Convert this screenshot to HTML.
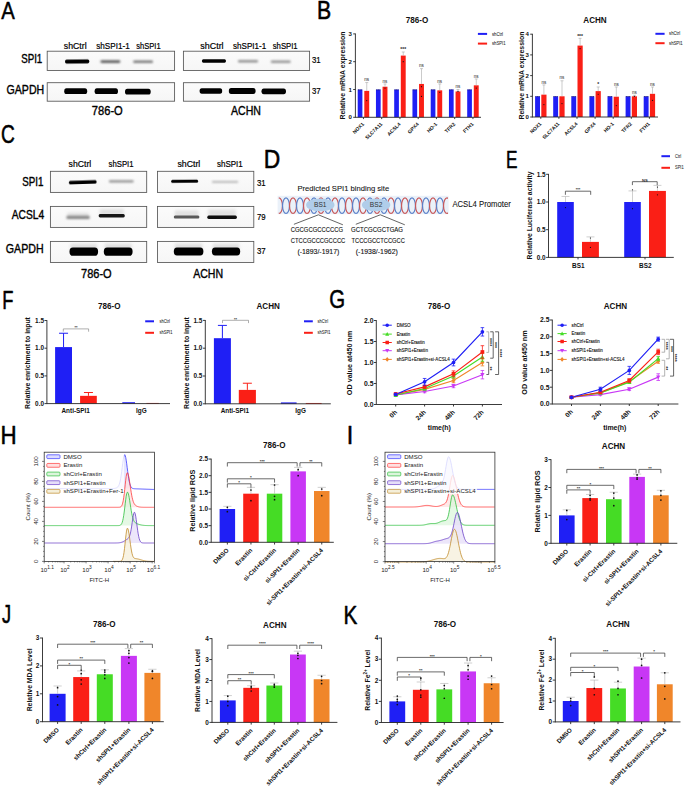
<!DOCTYPE html>
<html><head><meta charset="utf-8"><style>
html,body{margin:0;padding:0;background:#fff;width:685px;height:787px;overflow:hidden}
svg{display:block}
text{font-family:"Liberation Sans",sans-serif}
</style></head><body>
<svg width="685" height="787" viewBox="0 0 685 787">
<defs>
<linearGradient id="bg" x1="0" y1="0" x2="0" y2="1"><stop offset="0" stop-color="#fbfbfb"/><stop offset="1" stop-color="#f6f6f6"/></linearGradient>
<filter id="bl5" x="-30%" y="-100%" width="160%" height="300%"><feGaussianBlur stdDeviation="0.5"/></filter>
<filter id="bl6" x="-30%" y="-100%" width="160%" height="300%"><feGaussianBlur stdDeviation="0.6"/></filter>
<filter id="bl7" x="-30%" y="-100%" width="160%" height="300%"><feGaussianBlur stdDeviation="0.7"/></filter>
<filter id="bl8" x="-30%" y="-100%" width="160%" height="300%"><feGaussianBlur stdDeviation="0.8"/></filter>
<filter id="bl9" x="-30%" y="-100%" width="160%" height="300%"><feGaussianBlur stdDeviation="0.9"/></filter>
<filter id="bl10" x="-30%" y="-100%" width="160%" height="300%"><feGaussianBlur stdDeviation="1.0"/></filter>
<filter id="bl11" x="-30%" y="-100%" width="160%" height="300%"><feGaussianBlur stdDeviation="1.1"/></filter>
<filter id="bl12" x="-30%" y="-100%" width="160%" height="300%"><feGaussianBlur stdDeviation="1.2"/></filter>
<filter id="bl13" x="-30%" y="-100%" width="160%" height="300%"><feGaussianBlur stdDeviation="1.3"/></filter>
<filter id="bl14" x="-30%" y="-100%" width="160%" height="300%"><feGaussianBlur stdDeviation="1.4"/></filter>
<filter id="bl15" x="-30%" y="-100%" width="160%" height="300%"><feGaussianBlur stdDeviation="1.5"/></filter>
</defs>
<text font-size="24.78" stroke="#000" stroke-width="0.55" stroke-linejoin="round" transform="translate(1.29 18.62) scale(0.82 1)" x="0" y="0">A</text>
<rect x="47.2" y="51.2" width="127.4" height="19.3" fill="url(#bg)" stroke="#555" stroke-width="0.85"/>
<rect x="47.2" y="82.7" width="127.4" height="18.5" fill="url(#bg)" stroke="#555" stroke-width="0.85"/>
<rect x="183.4" y="51.2" width="126.2" height="19.3" fill="url(#bg)" stroke="#555" stroke-width="0.85"/>
<rect x="183.4" y="82.7" width="126.2" height="18.5" fill="url(#bg)" stroke="#555" stroke-width="0.85"/>
<text x="63.8" y="48.8" font-size="8.7" textLength="22.8" lengthAdjust="spacingAndGlyphs" stroke="#000" stroke-width="0.2">shCtrl</text>
<text x="96.3" y="48.8" font-size="8.7" textLength="33.4" lengthAdjust="spacingAndGlyphs" stroke="#000" stroke-width="0.2">shSPI1-1</text>
<text x="136.2" y="48.8" font-size="8.7" textLength="24.4" lengthAdjust="spacingAndGlyphs" stroke="#000" stroke-width="0.2">shSPI1</text>
<text x="200.3" y="48.8" font-size="8.7" textLength="23.3" lengthAdjust="spacingAndGlyphs" stroke="#000" stroke-width="0.2">shCtrl</text>
<text x="233" y="48.8" font-size="8.7" textLength="33.2" lengthAdjust="spacingAndGlyphs" stroke="#000" stroke-width="0.2">shSPI1-1</text>
<text x="272.7" y="48.8" font-size="8.7" textLength="25" lengthAdjust="spacingAndGlyphs" stroke="#000" stroke-width="0.2">shSPI1</text>
<text x="21.2" y="63" font-size="12.1" textLength="21.1" lengthAdjust="spacingAndGlyphs" stroke="#000" stroke-width="0.38">SPI1</text>
<text x="6.6" y="94" font-size="12.1" textLength="37.6" lengthAdjust="spacingAndGlyphs" stroke="#000" stroke-width="0.38">GAPDH</text>
<text x="91.8" y="115.3" font-size="12.7" textLength="31" lengthAdjust="spacingAndGlyphs" stroke="#000" stroke-width="0.38">786-O</text>
<text x="231" y="115.3" font-size="12.7" textLength="29.9" lengthAdjust="spacingAndGlyphs" stroke="#000" stroke-width="0.38">ACHN</text>
<text x="312" y="63.2" font-size="8.9" textLength="8.7" lengthAdjust="spacingAndGlyphs" stroke="#000" stroke-width="0.2">31</text>
<text x="312" y="94.1" font-size="8.9" textLength="8.7" lengthAdjust="spacingAndGlyphs" stroke="#000" stroke-width="0.2">37</text>
<rect x="65" y="59.4" width="24.3" height="4" rx="1.6" ry="2" fill="rgb(0,0,0)" filter="url(#bl6)" transform="rotate(-0.6 77.15 61.4)"/>
<rect x="100.5" y="60.2" width="19.8" height="2.8" rx="1.12" ry="1.4" fill="rgb(94,94,94)" filter="url(#bl8)"/>
<rect x="133.2" y="60.5" width="19.8" height="2.6" rx="1.04" ry="1.3" fill="rgb(122,122,122)" filter="url(#bl8)"/>
<rect x="201.9" y="59.2" width="24.1" height="3.6" rx="1.44" ry="1.8" fill="rgb(0,0,0)" filter="url(#bl6)"/>
<rect x="238" y="60.1" width="20" height="2.4" rx="0.96" ry="1.2" fill="rgb(145,145,145)" filter="url(#bl9)"/>
<rect x="270.8" y="60.6" width="19.9" height="2.4" rx="0.96" ry="1.2" fill="rgb(150,150,150)" filter="url(#bl9)"/>
<rect x="64.2" y="88.3" width="23" height="5.8" rx="2.32" ry="2.9" fill="rgb(0,0,0)" filter="url(#bl6)"/>
<rect x="94.6" y="88.3" width="23.4" height="5.8" rx="2.32" ry="2.9" fill="rgb(0,0,0)" filter="url(#bl6)"/>
<rect x="125" y="88.8" width="25.7" height="5.8" rx="2.32" ry="2.9" fill="rgb(0,0,0)" filter="url(#bl6)"/>
<rect x="199.6" y="88.3" width="22.6" height="5.4" rx="2.16" ry="2.7" fill="rgb(0,0,0)" filter="url(#bl6)"/>
<rect x="228.8" y="88.1" width="26.8" height="5.8" rx="2.32" ry="2.9" fill="rgb(0,0,0)" filter="url(#bl6)"/>
<rect x="261.5" y="88.4" width="24.5" height="5.8" rx="2.32" ry="2.9" fill="rgb(0,0,0)" filter="url(#bl6)"/>
<text font-size="25.21" stroke="#000" stroke-width="0.55" stroke-linejoin="round" transform="translate(0.98 143.27) scale(0.76 1)" x="0" y="0">C</text>
<rect x="50.4" y="171.3" width="96.3" height="21.1" fill="url(#bg)" stroke="#555" stroke-width="0.85"/>
<rect x="50.4" y="206.4" width="96.3" height="21" fill="url(#bg)" stroke="#555" stroke-width="0.85"/>
<rect x="50.4" y="241.4" width="96.3" height="21.1" fill="url(#bg)" stroke="#555" stroke-width="0.85"/>
<rect x="157.5" y="171.3" width="96.3" height="21.1" fill="url(#bg)" stroke="#555" stroke-width="0.85"/>
<rect x="157.5" y="206.4" width="96.3" height="21" fill="url(#bg)" stroke="#555" stroke-width="0.85"/>
<rect x="157.5" y="241.4" width="96.3" height="21.1" fill="url(#bg)" stroke="#555" stroke-width="0.85"/>
<text x="68.6" y="167" font-size="8.7" textLength="22.6" lengthAdjust="spacingAndGlyphs" stroke="#000" stroke-width="0.2">shCtrl</text>
<text x="108.6" y="167" font-size="8.7" textLength="25" lengthAdjust="spacingAndGlyphs" stroke="#000" stroke-width="0.2">shSPI1</text>
<text x="177.4" y="167" font-size="8.7" textLength="22.9" lengthAdjust="spacingAndGlyphs" stroke="#000" stroke-width="0.2">shCtrl</text>
<text x="217" y="167" font-size="8.7" textLength="25.8" lengthAdjust="spacingAndGlyphs" stroke="#000" stroke-width="0.2">shSPI1</text>
<text x="22.2" y="185.7" font-size="12.1" textLength="21.2" lengthAdjust="spacingAndGlyphs" stroke="#000" stroke-width="0.38">SPI1</text>
<text x="11.7" y="219" font-size="12.1" textLength="32.4" lengthAdjust="spacingAndGlyphs" stroke="#000" stroke-width="0.38">ACSL4</text>
<text x="5.8" y="253.2" font-size="12.1" textLength="37.8" lengthAdjust="spacingAndGlyphs" stroke="#000" stroke-width="0.38">GAPDH</text>
<text x="81" y="277.9" font-size="12.7" textLength="30.7" lengthAdjust="spacingAndGlyphs" stroke="#000" stroke-width="0.38">786-O</text>
<text x="193.2" y="277.7" font-size="12.7" textLength="29.9" lengthAdjust="spacingAndGlyphs" stroke="#000" stroke-width="0.38">ACHN</text>
<text x="256.9" y="186.1" font-size="8.9" textLength="8.7" lengthAdjust="spacingAndGlyphs" stroke="#000" stroke-width="0.2">31</text>
<text x="256.9" y="220.2" font-size="8.9" textLength="8.7" lengthAdjust="spacingAndGlyphs" stroke="#000" stroke-width="0.2">79</text>
<text x="256.9" y="254" font-size="8.9" textLength="8.7" lengthAdjust="spacingAndGlyphs" stroke="#000" stroke-width="0.2">37</text>
<rect x="68.9" y="180.6" width="27.7" height="3.4" rx="1.36" ry="1.7" fill="rgb(0,0,0)" filter="url(#bl6)" transform="rotate(-1.8 82.75 182.3)"/>
<rect x="108.9" y="180.15" width="24.8" height="2.3" rx="0.92" ry="1.15" fill="rgb(141,141,141)" filter="url(#bl8)"/>
<rect x="67.4" y="212.7" width="21.4" height="4.7" fill="rgb(205,205,205)" opacity="0.55" filter="url(#bl15)"/>
<rect x="66.4" y="215.7" width="23.4" height="3.4" rx="1.36" ry="1.7" fill="rgb(136,136,136)" filter="url(#bl10)"/>
<rect x="99.7" y="209.1" width="24.1" height="6.7" fill="rgb(205,205,205)" opacity="0.55" filter="url(#bl15)"/>
<rect x="98.7" y="214.1" width="26.1" height="3.4" rx="1.36" ry="1.7" fill="rgb(23,23,23)" filter="url(#bl6)"/>
<rect x="70.5" y="243.55" width="26.6" height="8.15" fill="rgb(205,205,205)" opacity="0.55" filter="url(#bl15)"/>
<rect x="69.5" y="247.55" width="28.6" height="8.3" rx="3.32" ry="4.15" fill="rgb(0,0,0)" filter="url(#bl7)"/>
<rect x="104.8" y="243.55" width="26.8" height="8.15" fill="rgb(205,205,205)" opacity="0.55" filter="url(#bl15)"/>
<rect x="103.8" y="247.55" width="28.8" height="8.3" rx="3.32" ry="4.15" fill="rgb(0,0,0)" filter="url(#bl7)"/>
<rect x="171.2" y="179.8" width="26.9" height="3" rx="1.2" ry="1.5" fill="rgb(0,0,0)" filter="url(#bl6)" transform="rotate(-0.5 184.65 181.3)"/>
<rect x="211.9" y="180.9" width="26.3" height="1.8" rx="0.72" ry="0.9" fill="rgb(176,176,176)" filter="url(#bl8)"/>
<rect x="174.8" y="210.4" width="23.6" height="6.6" fill="rgb(205,205,205)" opacity="0.55" filter="url(#bl15)"/>
<rect x="173.8" y="215.4" width="25.6" height="3.2" rx="1.28" ry="1.6" fill="rgb(89,89,89)" filter="url(#bl6)"/>
<rect x="208.3" y="209.5" width="27.6" height="7.8" fill="rgb(205,205,205)" opacity="0.55" filter="url(#bl15)"/>
<rect x="207.3" y="215.5" width="29.6" height="3.6" rx="1.44" ry="1.8" fill="rgb(11,11,11)" filter="url(#bl6)"/>
<rect x="174.8" y="243.55" width="27.6" height="7.95" fill="rgb(205,205,205)" opacity="0.55" filter="url(#bl15)"/>
<rect x="173.8" y="247.55" width="29.6" height="7.9" rx="3.16" ry="3.95" fill="rgb(0,0,0)" filter="url(#bl7)"/>
<rect x="212.9" y="243.55" width="26.3" height="7.95" fill="rgb(205,205,205)" opacity="0.55" filter="url(#bl15)"/>
<rect x="211.9" y="247.55" width="28.3" height="7.9" rx="3.16" ry="3.95" fill="rgb(0,0,0)" filter="url(#bl7)"/>
<text font-size="25.36" stroke="#000" stroke-width="0.55" stroke-linejoin="round" transform="translate(263.68 168.42) scale(0.9 1)" x="0" y="0">D</text>
<text x="297.4" y="190.7" font-size="7.9" fill="#111" textLength="91.8" lengthAdjust="spacingAndGlyphs" stroke="#111" stroke-width="0.08">Predicted SPI1 binding site</text>
<rect x="277.6" y="195.8" width="171" height="18.4" fill="#eaf1f9"/>
<clipPath id="hx"><rect x="278.8" y="190" width="169.2" height="30"/></clipPath><g clip-path="url(#hx)">
<ellipse cx="279" cy="205.7" rx="3.45" ry="7.75" fill="none" stroke="#c8585a" stroke-width="1.2"/>
<ellipse cx="286" cy="205.7" rx="3.45" ry="7.75" fill="none" stroke="#5b80c8" stroke-width="1.2"/>
<ellipse cx="293" cy="205.7" rx="3.45" ry="7.75" fill="none" stroke="#c8585a" stroke-width="1.2"/>
<ellipse cx="300" cy="205.7" rx="3.45" ry="7.75" fill="none" stroke="#5b80c8" stroke-width="1.2"/>
<ellipse cx="307" cy="205.7" rx="3.45" ry="7.75" fill="none" stroke="#c8585a" stroke-width="1.2"/>
<ellipse cx="314" cy="205.7" rx="3.45" ry="7.75" fill="none" stroke="#5b80c8" stroke-width="1.2"/>
<ellipse cx="321" cy="205.7" rx="3.45" ry="7.75" fill="none" stroke="#c8585a" stroke-width="1.2"/>
<ellipse cx="328" cy="205.7" rx="3.45" ry="7.75" fill="none" stroke="#5b80c8" stroke-width="1.2"/>
<ellipse cx="335" cy="205.7" rx="3.45" ry="7.75" fill="none" stroke="#c8585a" stroke-width="1.2"/>
<ellipse cx="342" cy="205.7" rx="3.45" ry="7.75" fill="none" stroke="#5b80c8" stroke-width="1.2"/>
<ellipse cx="349" cy="205.7" rx="3.45" ry="7.75" fill="none" stroke="#c8585a" stroke-width="1.2"/>
<ellipse cx="356" cy="205.7" rx="3.45" ry="7.75" fill="none" stroke="#5b80c8" stroke-width="1.2"/>
<ellipse cx="363" cy="205.7" rx="3.45" ry="7.75" fill="none" stroke="#c8585a" stroke-width="1.2"/>
<ellipse cx="370" cy="205.7" rx="3.45" ry="7.75" fill="none" stroke="#5b80c8" stroke-width="1.2"/>
<ellipse cx="377" cy="205.7" rx="3.45" ry="7.75" fill="none" stroke="#c8585a" stroke-width="1.2"/>
<ellipse cx="384" cy="205.7" rx="3.45" ry="7.75" fill="none" stroke="#5b80c8" stroke-width="1.2"/>
<ellipse cx="391" cy="205.7" rx="3.45" ry="7.75" fill="none" stroke="#c8585a" stroke-width="1.2"/>
<ellipse cx="398" cy="205.7" rx="3.45" ry="7.75" fill="none" stroke="#5b80c8" stroke-width="1.2"/>
<ellipse cx="405" cy="205.7" rx="3.45" ry="7.75" fill="none" stroke="#c8585a" stroke-width="1.2"/>
<ellipse cx="412" cy="205.7" rx="3.45" ry="7.75" fill="none" stroke="#5b80c8" stroke-width="1.2"/>
<ellipse cx="419" cy="205.7" rx="3.45" ry="7.75" fill="none" stroke="#c8585a" stroke-width="1.2"/>
<ellipse cx="426" cy="205.7" rx="3.45" ry="7.75" fill="none" stroke="#5b80c8" stroke-width="1.2"/>
<ellipse cx="433" cy="205.7" rx="3.45" ry="7.75" fill="none" stroke="#c8585a" stroke-width="1.2"/>
<ellipse cx="440" cy="205.7" rx="3.45" ry="7.75" fill="none" stroke="#5b80c8" stroke-width="1.2"/>
<ellipse cx="447" cy="205.7" rx="3.45" ry="7.75" fill="none" stroke="#c8585a" stroke-width="1.2"/>
</g>
<ellipse cx="320.3" cy="204.9" rx="14.2" ry="6.4" fill="#b0cde9"/>
<text x="320.3" y="207.17" font-size="6.6" text-anchor="middle" fill="#333">BS1</text>
<ellipse cx="376.1" cy="204.9" rx="14.2" ry="6.4" fill="#b0cde9"/>
<text x="376.1" y="207.17" font-size="6.6" text-anchor="middle" fill="#333">BS2</text>
<path d="M293.9 224.3 L318.4 214.8 L342.9 224.8" stroke="#222" fill="none" stroke-width="0.7"/>
<path d="M355.8 224.3 L380.3 214.8 L404.8 224.8" stroke="#222" fill="none" stroke-width="0.7"/>
<text x="290.8" y="231.6" font-size="7.6" fill="#111" textLength="52.2" lengthAdjust="spacingAndGlyphs" stroke="#111" stroke-width="0.12">CGCGCGCCCCCG</text>
<text x="290.8" y="243.4" font-size="7.6" fill="#111" textLength="54.5" lengthAdjust="spacingAndGlyphs" stroke="#111" stroke-width="0.12">CTCCGCCCGCCCC</text>
<text x="297.4" y="253.6" font-size="7.6" fill="#111" textLength="42" lengthAdjust="spacingAndGlyphs" stroke="#111" stroke-width="0.12">(-1893/-1917)</text>
<text x="351" y="231.6" font-size="7.6" fill="#111" textLength="52" lengthAdjust="spacingAndGlyphs" stroke="#111" stroke-width="0.12">GCTCGCGCTGAG</text>
<text x="351.5" y="243.4" font-size="7.6" fill="#111" textLength="53.3" lengthAdjust="spacingAndGlyphs" stroke="#111" stroke-width="0.12">TCCCGCCTCCGCC</text>
<text x="355.8" y="253.6" font-size="7.6" fill="#111" textLength="42" lengthAdjust="spacingAndGlyphs" stroke="#111" stroke-width="0.12">(-1938/-1962)</text>
<text x="452.4" y="207.2" font-size="8.2" fill="#111" textLength="58.4" lengthAdjust="spacingAndGlyphs" stroke="#111" stroke-width="0.08">ACSL4 Promoter</text>
<text font-size="25" stroke="#000" stroke-width="0.55" stroke-linejoin="round" transform="translate(316.89 18.52) scale(0.85 1)" x="0" y="0">B</text>
<text x="417" y="22.76" font-size="8.9" font-weight="bold" text-anchor="middle" fill="#111" textLength="22.51" lengthAdjust="spacingAndGlyphs">786-O</text>
<text font-size="6.6" font-weight="bold" text-anchor="middle" textLength="88" lengthAdjust="spacingAndGlyphs" transform="translate(345.07 75.6) rotate(-90)" x="0" y="0" fill="#111">Relative  mRNA expression</text>
<rect x="357.7" y="89.5" width="4.7" height="27.8" fill="#1f1ff5"/>
<rect x="364.3" y="90.89" width="4.9" height="26.41" fill="#fa1f16"/>
<line x1="366.75" y1="90.89" x2="366.75" y2="82.55" stroke="#a8a8a8" stroke-width="0.6"/>
<line x1="365.25" y1="82.55" x2="368.25" y2="82.55" stroke="#a8a8a8" stroke-width="0.6"/>
<circle cx="366.75" cy="100.62" r="0.6" fill="#111"/>
<text x="366.75" y="81.15" font-size="5.5" text-anchor="middle" fill="#222" textLength="4.8" lengthAdjust="spacingAndGlyphs">ns</text>
<line x1="358" y1="89.8" x2="362.1" y2="89.8" stroke="#111" stroke-width="0.7" stroke-dasharray="1.1 0.5" opacity="0.75"/>
<rect x="375.95" y="89.5" width="4.7" height="27.8" fill="#1f1ff5"/>
<rect x="382.55" y="86.72" width="4.9" height="30.58" fill="#fa1f16"/>
<line x1="385" y1="86.72" x2="385" y2="83.94" stroke="#a8a8a8" stroke-width="0.6"/>
<line x1="383.5" y1="83.94" x2="386.5" y2="83.94" stroke="#a8a8a8" stroke-width="0.6"/>
<circle cx="385" cy="88.11" r="0.6" fill="#111"/>
<text x="385" y="82.54" font-size="5.5" text-anchor="middle" fill="#222" textLength="4.8" lengthAdjust="spacingAndGlyphs">ns</text>
<line x1="376.25" y1="89.8" x2="380.35" y2="89.8" stroke="#111" stroke-width="0.7" stroke-dasharray="1.1 0.5" opacity="0.75"/>
<rect x="394.2" y="89.5" width="4.7" height="27.8" fill="#1f1ff5"/>
<rect x="400.8" y="55.58" width="4.9" height="61.72" fill="#fa1f16"/>
<line x1="403.25" y1="55.58" x2="403.25" y2="51.97" stroke="#a8a8a8" stroke-width="0.6"/>
<line x1="401.75" y1="51.97" x2="404.75" y2="51.97" stroke="#a8a8a8" stroke-width="0.6"/>
<circle cx="403.25" cy="61.7" r="0.6" fill="#111"/>
<text x="403.25" y="51.37" font-size="5" font-weight="bold" text-anchor="middle" fill="#222">***</text>
<line x1="394.5" y1="89.8" x2="398.6" y2="89.8" stroke="#111" stroke-width="0.7" stroke-dasharray="1.1 0.5" opacity="0.75"/>
<rect x="412.45" y="89.5" width="4.7" height="27.8" fill="#1f1ff5"/>
<rect x="419.05" y="83.94" width="4.9" height="33.36" fill="#fa1f16"/>
<line x1="421.5" y1="83.94" x2="421.5" y2="68.65" stroke="#a8a8a8" stroke-width="0.6"/>
<line x1="420" y1="68.65" x2="423" y2="68.65" stroke="#a8a8a8" stroke-width="0.6"/>
<circle cx="421.5" cy="86.72" r="0.6" fill="#111"/>
<circle cx="421.5" cy="96.45" r="0.6" fill="#111"/>
<text x="421.5" y="67.25" font-size="5.5" text-anchor="middle" fill="#222" textLength="4.8" lengthAdjust="spacingAndGlyphs">ns</text>
<line x1="412.75" y1="89.8" x2="416.85" y2="89.8" stroke="#111" stroke-width="0.7" stroke-dasharray="1.1 0.5" opacity="0.75"/>
<rect x="430.7" y="89.5" width="4.7" height="27.8" fill="#1f1ff5"/>
<rect x="437.3" y="90.33" width="4.9" height="26.97" fill="#fa1f16"/>
<line x1="439.75" y1="90.33" x2="439.75" y2="83.94" stroke="#a8a8a8" stroke-width="0.6"/>
<line x1="438.25" y1="83.94" x2="441.25" y2="83.94" stroke="#a8a8a8" stroke-width="0.6"/>
<circle cx="439.75" cy="92.28" r="0.6" fill="#111"/>
<text x="439.75" y="82.54" font-size="5.5" text-anchor="middle" fill="#222" textLength="4.8" lengthAdjust="spacingAndGlyphs">ns</text>
<line x1="431" y1="89.8" x2="435.1" y2="89.8" stroke="#111" stroke-width="0.7" stroke-dasharray="1.1 0.5" opacity="0.75"/>
<rect x="448.95" y="89.5" width="4.7" height="27.8" fill="#1f1ff5"/>
<rect x="455.55" y="91.45" width="4.9" height="25.85" fill="#fa1f16"/>
<line x1="458" y1="91.45" x2="458" y2="89.5" stroke="#a8a8a8" stroke-width="0.6"/>
<line x1="456.5" y1="89.5" x2="459.5" y2="89.5" stroke="#a8a8a8" stroke-width="0.6"/>
<circle cx="458" cy="91.45" r="0.6" fill="#111"/>
<text x="458" y="88.1" font-size="5.5" text-anchor="middle" fill="#222" textLength="4.8" lengthAdjust="spacingAndGlyphs">ns</text>
<line x1="449.25" y1="89.8" x2="453.35" y2="89.8" stroke="#111" stroke-width="0.7" stroke-dasharray="1.1 0.5" opacity="0.75"/>
<rect x="467.2" y="89.5" width="4.7" height="27.8" fill="#1f1ff5"/>
<rect x="473.8" y="85.33" width="4.9" height="31.97" fill="#fa1f16"/>
<line x1="476.25" y1="85.33" x2="476.25" y2="78.94" stroke="#a8a8a8" stroke-width="0.6"/>
<line x1="474.75" y1="78.94" x2="477.75" y2="78.94" stroke="#a8a8a8" stroke-width="0.6"/>
<circle cx="476.25" cy="88.11" r="0.6" fill="#111"/>
<text x="476.25" y="77.54" font-size="5.5" text-anchor="middle" fill="#222" textLength="4.8" lengthAdjust="spacingAndGlyphs">ns</text>
<line x1="467.5" y1="89.8" x2="471.6" y2="89.8" stroke="#111" stroke-width="0.7" stroke-dasharray="1.1 0.5" opacity="0.75"/>
<line x1="355.4" y1="33.5" x2="355.4" y2="117.75" stroke="#262626" stroke-width="0.9"/>
<line x1="353.2" y1="117.3" x2="355.4" y2="117.3" stroke="#262626" stroke-width="0.9"/>
<text x="352" y="119.4" font-size="6.1" font-weight="bold" text-anchor="end" fill="#111">0</text>
<line x1="353.2" y1="89.5" x2="355.4" y2="89.5" stroke="#262626" stroke-width="0.9"/>
<text x="352" y="91.6" font-size="6.1" font-weight="bold" text-anchor="end" fill="#111">1</text>
<line x1="353.2" y1="61.7" x2="355.4" y2="61.7" stroke="#262626" stroke-width="0.9"/>
<text x="352" y="63.8" font-size="6.1" font-weight="bold" text-anchor="end" fill="#111">2</text>
<line x1="353.2" y1="33.9" x2="355.4" y2="33.9" stroke="#262626" stroke-width="0.9"/>
<text x="352" y="36" font-size="6.1" font-weight="bold" text-anchor="end" fill="#111">3</text>
<line x1="355.4" y1="117.3" x2="481" y2="117.3" stroke="#262626" stroke-width="0.9"/>
<line x1="363.45" y1="117.3" x2="363.45" y2="119.1" stroke="#262626" stroke-width="0.9"/>
<line x1="381.7" y1="117.3" x2="381.7" y2="119.1" stroke="#262626" stroke-width="0.9"/>
<line x1="399.95" y1="117.3" x2="399.95" y2="119.1" stroke="#262626" stroke-width="0.9"/>
<line x1="418.2" y1="117.3" x2="418.2" y2="119.1" stroke="#262626" stroke-width="0.9"/>
<line x1="436.45" y1="117.3" x2="436.45" y2="119.1" stroke="#262626" stroke-width="0.9"/>
<line x1="454.7" y1="117.3" x2="454.7" y2="119.1" stroke="#262626" stroke-width="0.9"/>
<line x1="472.95" y1="117.3" x2="472.95" y2="119.1" stroke="#262626" stroke-width="0.9"/>
<text font-size="5" font-weight="bold" text-anchor="end" transform="translate(363.15 123.3) rotate(-45)" x="0" y="1.72" fill="#111">NOX1</text>
<text font-size="5" font-weight="bold" text-anchor="end" transform="translate(381.4 123.3) rotate(-45)" x="0" y="1.72" fill="#111">SLC7A11</text>
<text font-size="5" font-weight="bold" text-anchor="end" transform="translate(399.65 123.3) rotate(-45)" x="0" y="1.72" fill="#111">ACSL4</text>
<text font-size="5" font-weight="bold" text-anchor="end" transform="translate(417.9 123.3) rotate(-45)" x="0" y="1.72" fill="#111">GPX4</text>
<text font-size="5" font-weight="bold" text-anchor="end" transform="translate(436.15 123.3) rotate(-45)" x="0" y="1.72" fill="#111">HO-1</text>
<text font-size="5" font-weight="bold" text-anchor="end" transform="translate(454.4 123.3) rotate(-45)" x="0" y="1.72" fill="#111">TFR2</text>
<text font-size="5" font-weight="bold" text-anchor="end" transform="translate(472.65 123.3) rotate(-45)" x="0" y="1.72" fill="#111">FTH1</text>
<line x1="477.9" y1="33.9" x2="487.1" y2="33.9" stroke="#1f1ff5" stroke-width="2"/>
<text x="491.9" y="35.59" font-size="4.9" fill="#2a2a2a" textLength="11.13" lengthAdjust="spacingAndGlyphs" stroke="#2a2a2a" stroke-width="0.06">shCtrl</text>
<line x1="477.9" y1="43.6" x2="487.1" y2="43.6" stroke="#fa1f16" stroke-width="2"/>
<text x="491.9" y="45.29" font-size="4.9" fill="#2a2a2a" textLength="13.74" lengthAdjust="spacingAndGlyphs" stroke="#2a2a2a" stroke-width="0.06">shSPI1</text>
<text x="595" y="22.56" font-size="8.9" font-weight="bold" text-anchor="middle" fill="#111" textLength="23.4" lengthAdjust="spacingAndGlyphs">ACHN</text>
<text font-size="6.6" font-weight="bold" text-anchor="middle" textLength="88" lengthAdjust="spacingAndGlyphs" transform="translate(523.67 75.6) rotate(-90)" x="0" y="0" fill="#111">Relative  mRNA expression</text>
<rect x="535.1" y="96.3" width="4.9" height="20.7" fill="#1f1ff5"/>
<rect x="541.3" y="94.64" width="5.2" height="22.36" fill="#fa1f16"/>
<line x1="543.9" y1="94.64" x2="543.9" y2="84.91" stroke="#a8a8a8" stroke-width="0.6"/>
<line x1="542.4" y1="84.91" x2="545.4" y2="84.91" stroke="#a8a8a8" stroke-width="0.6"/>
<circle cx="543.9" cy="104.58" r="0.6" fill="#111"/>
<text x="543.9" y="83.51" font-size="5.5" text-anchor="middle" fill="#222" textLength="4.8" lengthAdjust="spacingAndGlyphs">ns</text>
<line x1="535.4" y1="96.6" x2="539.7" y2="96.6" stroke="#111" stroke-width="0.7" stroke-dasharray="1.1 0.5" opacity="0.75"/>
<rect x="553.2" y="96.3" width="4.9" height="20.7" fill="#1f1ff5"/>
<rect x="559.4" y="96.3" width="5.2" height="20.7" fill="#fa1f16"/>
<line x1="562" y1="96.3" x2="562" y2="80.78" stroke="#a8a8a8" stroke-width="0.6"/>
<line x1="560.5" y1="80.78" x2="563.5" y2="80.78" stroke="#a8a8a8" stroke-width="0.6"/>
<circle cx="562" cy="103.55" r="0.6" fill="#111"/>
<text x="562" y="79.38" font-size="5.5" text-anchor="middle" fill="#222" textLength="4.8" lengthAdjust="spacingAndGlyphs">ns</text>
<line x1="553.5" y1="96.6" x2="557.8" y2="96.6" stroke="#111" stroke-width="0.7" stroke-dasharray="1.1 0.5" opacity="0.75"/>
<rect x="571.3" y="96.3" width="4.9" height="20.7" fill="#1f1ff5"/>
<rect x="577.5" y="45.58" width="5.2" height="71.42" fill="#fa1f16"/>
<line x1="580.1" y1="45.58" x2="580.1" y2="38.34" stroke="#a8a8a8" stroke-width="0.6"/>
<line x1="578.6" y1="38.34" x2="581.6" y2="38.34" stroke="#a8a8a8" stroke-width="0.6"/>
<circle cx="580.1" cy="48.69" r="0.6" fill="#111"/>
<text x="580.1" y="37.74" font-size="5" font-weight="bold" text-anchor="middle" fill="#222">***</text>
<line x1="571.6" y1="96.6" x2="575.9" y2="96.6" stroke="#111" stroke-width="0.7" stroke-dasharray="1.1 0.5" opacity="0.75"/>
<rect x="589.4" y="96.3" width="4.9" height="20.7" fill="#1f1ff5"/>
<rect x="595.6" y="91.12" width="5.2" height="25.88" fill="#fa1f16"/>
<line x1="598.2" y1="91.12" x2="598.2" y2="86.98" stroke="#a8a8a8" stroke-width="0.6"/>
<line x1="596.7" y1="86.98" x2="599.7" y2="86.98" stroke="#a8a8a8" stroke-width="0.6"/>
<circle cx="598.2" cy="94.23" r="0.6" fill="#111"/>
<text x="598.2" y="86.39" font-size="5" font-weight="bold" text-anchor="middle" fill="#222">*</text>
<line x1="589.7" y1="96.6" x2="594" y2="96.6" stroke="#111" stroke-width="0.7" stroke-dasharray="1.1 0.5" opacity="0.75"/>
<rect x="607.5" y="96.3" width="4.9" height="20.7" fill="#1f1ff5"/>
<rect x="613.7" y="96.71" width="5.2" height="20.29" fill="#fa1f16"/>
<line x1="616.3" y1="96.71" x2="616.3" y2="86.98" stroke="#a8a8a8" stroke-width="0.6"/>
<line x1="614.8" y1="86.98" x2="617.8" y2="86.98" stroke="#a8a8a8" stroke-width="0.6"/>
<circle cx="616.3" cy="105.61" r="0.6" fill="#111"/>
<text x="616.3" y="85.58" font-size="5.5" text-anchor="middle" fill="#222" textLength="4.8" lengthAdjust="spacingAndGlyphs">ns</text>
<line x1="607.8" y1="96.6" x2="612.1" y2="96.6" stroke="#111" stroke-width="0.7" stroke-dasharray="1.1 0.5" opacity="0.75"/>
<rect x="625.6" y="96.3" width="4.9" height="20.7" fill="#1f1ff5"/>
<rect x="631.8" y="96.3" width="5.2" height="20.7" fill="#fa1f16"/>
<line x1="634.4" y1="96.3" x2="634.4" y2="95.27" stroke="#a8a8a8" stroke-width="0.6"/>
<line x1="632.9" y1="95.27" x2="635.9" y2="95.27" stroke="#a8a8a8" stroke-width="0.6"/>
<circle cx="634.4" cy="96.3" r="0.6" fill="#111"/>
<text x="634.4" y="93.86" font-size="5.5" text-anchor="middle" fill="#222" textLength="4.8" lengthAdjust="spacingAndGlyphs">ns</text>
<line x1="625.9" y1="96.6" x2="630.2" y2="96.6" stroke="#111" stroke-width="0.7" stroke-dasharray="1.1 0.5" opacity="0.75"/>
<rect x="643.7" y="96.3" width="4.9" height="20.7" fill="#1f1ff5"/>
<rect x="649.9" y="93.82" width="5.2" height="23.18" fill="#fa1f16"/>
<line x1="652.5" y1="93.82" x2="652.5" y2="86.98" stroke="#a8a8a8" stroke-width="0.6"/>
<line x1="651" y1="86.98" x2="654" y2="86.98" stroke="#a8a8a8" stroke-width="0.6"/>
<circle cx="652.5" cy="100.44" r="0.6" fill="#111"/>
<text x="652.5" y="85.58" font-size="5.5" text-anchor="middle" fill="#222" textLength="4.8" lengthAdjust="spacingAndGlyphs">ns</text>
<line x1="644" y1="96.6" x2="648.3" y2="96.6" stroke="#111" stroke-width="0.7" stroke-dasharray="1.1 0.5" opacity="0.75"/>
<line x1="532.4" y1="33.8" x2="532.4" y2="117.45" stroke="#262626" stroke-width="0.9"/>
<line x1="530.2" y1="117" x2="532.4" y2="117" stroke="#262626" stroke-width="0.9"/>
<text x="529" y="119.1" font-size="6.1" font-weight="bold" text-anchor="end" fill="#111">0</text>
<line x1="530.2" y1="96.3" x2="532.4" y2="96.3" stroke="#262626" stroke-width="0.9"/>
<text x="529" y="98.4" font-size="6.1" font-weight="bold" text-anchor="end" fill="#111">1</text>
<line x1="530.2" y1="75.6" x2="532.4" y2="75.6" stroke="#262626" stroke-width="0.9"/>
<text x="529" y="77.7" font-size="6.1" font-weight="bold" text-anchor="end" fill="#111">2</text>
<line x1="530.2" y1="54.9" x2="532.4" y2="54.9" stroke="#262626" stroke-width="0.9"/>
<text x="529" y="57" font-size="6.1" font-weight="bold" text-anchor="end" fill="#111">3</text>
<line x1="530.2" y1="34.2" x2="532.4" y2="34.2" stroke="#262626" stroke-width="0.9"/>
<text x="529" y="36.3" font-size="6.1" font-weight="bold" text-anchor="end" fill="#111">4</text>
<line x1="532.4" y1="117" x2="658" y2="117" stroke="#262626" stroke-width="0.9"/>
<line x1="540.8" y1="117" x2="540.8" y2="118.8" stroke="#262626" stroke-width="0.9"/>
<line x1="558.9" y1="117" x2="558.9" y2="118.8" stroke="#262626" stroke-width="0.9"/>
<line x1="577" y1="117" x2="577" y2="118.8" stroke="#262626" stroke-width="0.9"/>
<line x1="595.1" y1="117" x2="595.1" y2="118.8" stroke="#262626" stroke-width="0.9"/>
<line x1="613.2" y1="117" x2="613.2" y2="118.8" stroke="#262626" stroke-width="0.9"/>
<line x1="631.3" y1="117" x2="631.3" y2="118.8" stroke="#262626" stroke-width="0.9"/>
<line x1="649.4" y1="117" x2="649.4" y2="118.8" stroke="#262626" stroke-width="0.9"/>
<text font-size="5" font-weight="bold" text-anchor="end" transform="translate(540.5 123) rotate(-45)" x="0" y="1.72" fill="#111">NOX1</text>
<text font-size="5" font-weight="bold" text-anchor="end" transform="translate(558.6 123) rotate(-45)" x="0" y="1.72" fill="#111">SLC7A11</text>
<text font-size="5" font-weight="bold" text-anchor="end" transform="translate(576.7 123) rotate(-45)" x="0" y="1.72" fill="#111">ACSL4</text>
<text font-size="5" font-weight="bold" text-anchor="end" transform="translate(594.8 123) rotate(-45)" x="0" y="1.72" fill="#111">GPX4</text>
<text font-size="5" font-weight="bold" text-anchor="end" transform="translate(612.9 123) rotate(-45)" x="0" y="1.72" fill="#111">HO-1</text>
<text font-size="5" font-weight="bold" text-anchor="end" transform="translate(631 123) rotate(-45)" x="0" y="1.72" fill="#111">TFR2</text>
<text font-size="5" font-weight="bold" text-anchor="end" transform="translate(649.1 123) rotate(-45)" x="0" y="1.72" fill="#111">FTH1</text>
<line x1="655.4" y1="33.8" x2="664.6" y2="33.8" stroke="#1f1ff5" stroke-width="2"/>
<text x="669" y="35.49" font-size="4.9" fill="#2a2a2a" textLength="11.13" lengthAdjust="spacingAndGlyphs" stroke="#2a2a2a" stroke-width="0.06">shCtrl</text>
<line x1="655.4" y1="43.2" x2="664.6" y2="43.2" stroke="#fa1f16" stroke-width="2"/>
<text x="669" y="44.89" font-size="4.9" fill="#2a2a2a" textLength="13.74" lengthAdjust="spacingAndGlyphs" stroke="#2a2a2a" stroke-width="0.06">shSPI1</text>
<text font-size="24.64" stroke="#000" stroke-width="0.55" stroke-linejoin="round" transform="translate(505.98 167.92) scale(0.7 1)" x="0" y="0">E</text>
<rect x="557.2" y="202" width="16.6" height="55.4" fill="#1f1ff5"/>
<line x1="565.5" y1="202" x2="565.5" y2="196.46" stroke="#b0b0b0" stroke-width="0.6"/>
<line x1="561.5" y1="196.46" x2="569.5" y2="196.46" stroke="#b0b0b0" stroke-width="0.6"/>
<circle cx="565.5" cy="207.54" r="0.6" fill="#111"/>
<rect x="582" y="241.89" width="16.9" height="15.51" fill="#fa1f16"/>
<line x1="590.45" y1="241.89" x2="590.45" y2="236.9" stroke="#b0b0b0" stroke-width="0.6"/>
<line x1="586.45" y1="236.9" x2="594.45" y2="236.9" stroke="#b0b0b0" stroke-width="0.6"/>
<circle cx="590.45" cy="238.01" r="0.6" fill="#111"/>
<circle cx="590.45" cy="247.43" r="0.6" fill="#111"/>
<rect x="624.2" y="202" width="16.6" height="55.4" fill="#1f1ff5"/>
<line x1="632.5" y1="202" x2="632.5" y2="190.92" stroke="#b0b0b0" stroke-width="0.6"/>
<line x1="628.5" y1="190.92" x2="636.5" y2="190.92" stroke="#b0b0b0" stroke-width="0.6"/>
<circle cx="632.5" cy="189.81" r="0.6" fill="#111"/>
<circle cx="632.5" cy="208.65" r="0.6" fill="#111"/>
<rect x="649" y="190.92" width="16.9" height="66.48" fill="#fa1f16"/>
<line x1="657.45" y1="190.92" x2="657.45" y2="185.38" stroke="#b0b0b0" stroke-width="0.6"/>
<line x1="653.45" y1="185.38" x2="661.45" y2="185.38" stroke="#b0b0b0" stroke-width="0.6"/>
<circle cx="657.45" cy="187.04" r="0.6" fill="#111"/>
<circle cx="657.45" cy="194.8" r="0.6" fill="#111"/>
<line x1="548.5" y1="173.9" x2="548.5" y2="257.85" stroke="#262626" stroke-width="0.9"/>
<line x1="546.1" y1="257.4" x2="548.5" y2="257.4" stroke="#262626" stroke-width="0.9"/>
<text x="545.6" y="259.6" font-size="6.4" font-weight="bold" text-anchor="end" fill="#111">0.0</text>
<line x1="546.1" y1="229.7" x2="548.5" y2="229.7" stroke="#262626" stroke-width="0.9"/>
<text x="545.6" y="231.9" font-size="6.4" font-weight="bold" text-anchor="end" fill="#111">0.5</text>
<line x1="546.1" y1="202" x2="548.5" y2="202" stroke="#262626" stroke-width="0.9"/>
<text x="545.6" y="204.2" font-size="6.4" font-weight="bold" text-anchor="end" fill="#111">1.0</text>
<line x1="546.1" y1="174.3" x2="548.5" y2="174.3" stroke="#262626" stroke-width="0.9"/>
<text x="545.6" y="176.5" font-size="6.4" font-weight="bold" text-anchor="end" fill="#111">1.5</text>
<line x1="548.5" y1="257.4" x2="673.8" y2="257.4" stroke="#262626" stroke-width="0.9"/>
<line x1="578" y1="257.4" x2="578" y2="259.4" stroke="#262626" stroke-width="0.9"/>
<line x1="645" y1="257.4" x2="645" y2="259.4" stroke="#262626" stroke-width="0.9"/>
<text x="578.3" y="267.5" font-size="6.4" font-weight="bold" text-anchor="middle" fill="#111">BS1</text>
<text x="645.3" y="267.5" font-size="6.4" font-weight="bold" text-anchor="middle" fill="#111">BS2</text>
<text font-size="6.9" font-weight="bold" text-anchor="middle" textLength="88" lengthAdjust="spacingAndGlyphs" transform="translate(532.37 215.5) rotate(-90)" x="0" y="0" fill="#111">Relative Luciferase activity</text>
<path d="M565.4 194.8 V191.2 H590.7 V194.8" stroke="#3a3a3a" fill="none" stroke-width="0.75"/>
<text x="578.05" y="191.4" font-size="3.8" font-weight="bold" text-anchor="middle" fill="#333">***</text>
<path d="M632.4 185.1 V181.7 H657.2 V185.1" stroke="#3a3a3a" fill="none" stroke-width="0.75"/>
<text x="644.8" y="181.9" font-size="4.2" font-weight="bold" text-anchor="middle" fill="#333">NS</text>
<line x1="661.4" y1="156.2" x2="670" y2="156.2" stroke="#1f1ff5" stroke-width="2"/>
<text x="675" y="157.78" font-size="4.6" fill="#2a2a2a" textLength="6.22" lengthAdjust="spacingAndGlyphs" stroke="#2a2a2a" stroke-width="0.06">Ctrl</text>
<line x1="661.4" y1="167.8" x2="670" y2="167.8" stroke="#fa1f16" stroke-width="2"/>
<text x="675" y="169.38" font-size="4.6" fill="#2a2a2a" textLength="8.68" lengthAdjust="spacingAndGlyphs" stroke="#2a2a2a" stroke-width="0.06">SPI1</text>
<text font-size="25.07" stroke="#000" stroke-width="0.55" stroke-linejoin="round" transform="translate(2.19 308.62) scale(0.73 1)" x="0" y="0">F</text>
<text x="109.2" y="309.06" font-size="8.9" font-weight="bold" text-anchor="middle" fill="#111" textLength="22.51" lengthAdjust="spacingAndGlyphs">786-O</text>
<rect x="55.1" y="347.09" width="16.9" height="56.51" fill="#1f1ff5"/>
<line x1="63.55" y1="347.09" x2="63.55" y2="333.24" stroke="#1f1ff5" stroke-width="1"/>
<line x1="59.05" y1="333.24" x2="68.05" y2="333.24" stroke="#1f1ff5" stroke-width="1"/>
<rect x="80.1" y="395.84" width="16.7" height="7.76" fill="#fa1f16"/>
<line x1="88.45" y1="395.84" x2="88.45" y2="392.52" stroke="#fa1f16" stroke-width="1"/>
<line x1="83.95" y1="392.52" x2="92.95" y2="392.52" stroke="#fa1f16" stroke-width="1"/>
<rect x="122.3" y="402.22" width="12.7" height="1.38" fill="#1f1ff5"/>
<rect x="146.4" y="402.94" width="12.4" height="0.66" fill="#fa1f16"/>
<line x1="46.9" y1="320.1" x2="46.9" y2="404.05" stroke="#262626" stroke-width="0.9"/>
<line x1="44.5" y1="403.6" x2="46.9" y2="403.6" stroke="#262626" stroke-width="0.9"/>
<text x="44" y="405.8" font-size="6.4" font-weight="bold" text-anchor="end" fill="#111">0.0</text>
<line x1="44.5" y1="375.9" x2="46.9" y2="375.9" stroke="#262626" stroke-width="0.9"/>
<text x="44" y="378.1" font-size="6.4" font-weight="bold" text-anchor="end" fill="#111">0.5</text>
<line x1="44.5" y1="348.2" x2="46.9" y2="348.2" stroke="#262626" stroke-width="0.9"/>
<text x="44" y="350.4" font-size="6.4" font-weight="bold" text-anchor="end" fill="#111">1.0</text>
<line x1="44.5" y1="320.5" x2="46.9" y2="320.5" stroke="#262626" stroke-width="0.9"/>
<text x="44" y="322.7" font-size="6.4" font-weight="bold" text-anchor="end" fill="#111">1.5</text>
<line x1="46.9" y1="403.6" x2="170" y2="403.6" stroke="#262626" stroke-width="0.9"/>
<text x="75.7" y="413.2" font-size="6.4" font-weight="bold" text-anchor="middle" fill="#111">Anti-SPI1</text>
<text x="141.4" y="413.2" font-size="6.4" font-weight="bold" text-anchor="middle" fill="#111">IgG</text>
<text font-size="6.8" font-weight="bold" text-anchor="middle" textLength="91.8" lengthAdjust="spacingAndGlyphs" transform="translate(30.14 363.05) rotate(-90)" x="0" y="0" fill="#111">Relative enrichment to input</text>
<path d="M63.3 331.7 V328.9 H88.6 V331.7" stroke="#777" fill="none" stroke-width="0.6"/>
<text x="75.95" y="329.1" font-size="3.8" font-weight="bold" text-anchor="middle" fill="#333">**</text>
<line x1="145.2" y1="321.3" x2="154" y2="321.3" stroke="#1f1ff5" stroke-width="2"/>
<text x="159.5" y="322.88" font-size="4.6" fill="#2a2a2a" textLength="10.45" lengthAdjust="spacingAndGlyphs" stroke="#2a2a2a" stroke-width="0.06">shCtrl</text>
<line x1="145.2" y1="332.8" x2="154" y2="332.8" stroke="#fa1f16" stroke-width="2"/>
<text x="159.5" y="334.38" font-size="4.6" fill="#2a2a2a" textLength="12.9" lengthAdjust="spacingAndGlyphs" stroke="#2a2a2a" stroke-width="0.06">shSPI1</text>
<text x="268.2" y="309.06" font-size="8.9" font-weight="bold" text-anchor="middle" fill="#111" textLength="23.4" lengthAdjust="spacingAndGlyphs">ACHN</text>
<rect x="213.9" y="338.19" width="17" height="65.61" fill="#1f1ff5"/>
<line x1="222.4" y1="338.19" x2="222.4" y2="325.4" stroke="#1f1ff5" stroke-width="1"/>
<line x1="217.9" y1="325.4" x2="226.9" y2="325.4" stroke="#1f1ff5" stroke-width="1"/>
<rect x="238.8" y="389.9" width="17.1" height="13.9" fill="#fa1f16"/>
<line x1="247.35" y1="389.9" x2="247.35" y2="383.23" stroke="#fa1f16" stroke-width="1"/>
<line x1="242.85" y1="383.23" x2="251.85" y2="383.23" stroke="#fa1f16" stroke-width="1"/>
<rect x="280.9" y="402.41" width="15.7" height="1.39" fill="#1f1ff5"/>
<rect x="305.8" y="402.97" width="15.8" height="0.83" fill="#fa1f16"/>
<line x1="205.3" y1="320" x2="205.3" y2="404.25" stroke="#262626" stroke-width="0.9"/>
<line x1="202.9" y1="403.8" x2="205.3" y2="403.8" stroke="#262626" stroke-width="0.9"/>
<text x="202.4" y="406" font-size="6.4" font-weight="bold" text-anchor="end" fill="#111">0.0</text>
<line x1="202.9" y1="376" x2="205.3" y2="376" stroke="#262626" stroke-width="0.9"/>
<text x="202.4" y="378.2" font-size="6.4" font-weight="bold" text-anchor="end" fill="#111">0.5</text>
<line x1="202.9" y1="348.2" x2="205.3" y2="348.2" stroke="#262626" stroke-width="0.9"/>
<text x="202.4" y="350.4" font-size="6.4" font-weight="bold" text-anchor="end" fill="#111">1.0</text>
<line x1="202.9" y1="320.4" x2="205.3" y2="320.4" stroke="#262626" stroke-width="0.9"/>
<text x="202.4" y="322.6" font-size="6.4" font-weight="bold" text-anchor="end" fill="#111">1.5</text>
<line x1="205.3" y1="403.8" x2="330.8" y2="403.8" stroke="#262626" stroke-width="0.9"/>
<text x="234.9" y="413.4" font-size="6.4" font-weight="bold" text-anchor="middle" fill="#111">Anti-SPI1</text>
<text x="300.6" y="413.4" font-size="6.4" font-weight="bold" text-anchor="middle" fill="#111">IgG</text>
<text font-size="6.8" font-weight="bold" text-anchor="middle" textLength="91.8" lengthAdjust="spacingAndGlyphs" transform="translate(188.64 363.1) rotate(-90)" x="0" y="0" fill="#111">Relative enrichment to input</text>
<path d="M222.5 323.1 V320.3 H248.5 V323.1" stroke="#777" fill="none" stroke-width="0.6"/>
<text x="235.5" y="320.5" font-size="3.8" font-weight="bold" text-anchor="middle" fill="#333">**</text>
<line x1="304" y1="321.3" x2="312.8" y2="321.3" stroke="#1f1ff5" stroke-width="2"/>
<text x="317.6" y="322.88" font-size="4.6" fill="#2a2a2a" textLength="10.45" lengthAdjust="spacingAndGlyphs" stroke="#2a2a2a" stroke-width="0.06">shCtrl</text>
<line x1="304" y1="332.8" x2="312.8" y2="332.8" stroke="#fa1f16" stroke-width="2"/>
<text x="317.6" y="334.38" font-size="4.6" fill="#2a2a2a" textLength="12.9" lengthAdjust="spacingAndGlyphs" stroke="#2a2a2a" stroke-width="0.06">shSPI1</text>
<text font-size="25.21" stroke="#000" stroke-width="0.55" stroke-linejoin="round" transform="translate(329.3 308.37) scale(0.81 1)" x="0" y="0">G</text>
<text x="439" y="309.06" font-size="8.9" font-weight="bold" text-anchor="middle" fill="#111" textLength="22.51" lengthAdjust="spacingAndGlyphs">786-O</text>
<polyline points="395.7,394.84 424.6,389.38 453.5,380.56 482.4,362.5" fill="none" stroke="#f0862a" stroke-width="1.15"/>
<polyline points="395.7,394.84 424.6,391.48 453.5,386.02 482.4,374.68" fill="none" stroke="#c837f5" stroke-width="1.15"/>
<polyline points="395.7,395.26 424.6,388.54 453.5,375.94 482.4,357.04" fill="none" stroke="#45dc25" stroke-width="1.15"/>
<polyline points="395.7,394 424.6,386.86 453.5,373.84 482.4,352" fill="none" stroke="#fa1f16" stroke-width="1.15"/>
<polyline points="395.7,394.42 424.6,381.82 453.5,362.5 482.4,331.84" fill="none" stroke="#1f1ff5" stroke-width="1.15"/>
<line x1="395.7" y1="394" x2="395.7" y2="395.68" stroke="#f0862a" stroke-width="0.8"/>
<line x1="393.9" y1="394" x2="397.5" y2="394" stroke="#f0862a" stroke-width="0.8"/>
<line x1="393.9" y1="395.68" x2="397.5" y2="395.68" stroke="#f0862a" stroke-width="0.8"/>
<path d="M395.7 392.44 L397.74 394.84 L395.7 397.24 L393.66 394.84Z" stroke="none" fill="#f0862a" stroke-width="1"/>
<line x1="424.6" y1="387.7" x2="424.6" y2="391.06" stroke="#f0862a" stroke-width="0.8"/>
<line x1="422.8" y1="387.7" x2="426.4" y2="387.7" stroke="#f0862a" stroke-width="0.8"/>
<line x1="422.8" y1="391.06" x2="426.4" y2="391.06" stroke="#f0862a" stroke-width="0.8"/>
<path d="M424.6 386.98 L426.64 389.38 L424.6 391.78 L422.56 389.38Z" stroke="none" fill="#f0862a" stroke-width="1"/>
<line x1="453.5" y1="378.46" x2="453.5" y2="382.66" stroke="#f0862a" stroke-width="0.8"/>
<line x1="451.7" y1="378.46" x2="455.3" y2="378.46" stroke="#f0862a" stroke-width="0.8"/>
<line x1="451.7" y1="382.66" x2="455.3" y2="382.66" stroke="#f0862a" stroke-width="0.8"/>
<path d="M453.5 378.16 L455.54 380.56 L453.5 382.96 L451.46 380.56Z" stroke="none" fill="#f0862a" stroke-width="1"/>
<line x1="482.4" y1="359.14" x2="482.4" y2="365.86" stroke="#f0862a" stroke-width="0.8"/>
<line x1="480.6" y1="359.14" x2="484.2" y2="359.14" stroke="#f0862a" stroke-width="0.8"/>
<line x1="480.6" y1="365.86" x2="484.2" y2="365.86" stroke="#f0862a" stroke-width="0.8"/>
<path d="M482.4 360.1 L484.44 362.5 L482.4 364.9 L480.36 362.5Z" stroke="none" fill="#f0862a" stroke-width="1"/>
<line x1="395.7" y1="394" x2="395.7" y2="395.68" stroke="#c837f5" stroke-width="0.8"/>
<line x1="393.9" y1="394" x2="397.5" y2="394" stroke="#c837f5" stroke-width="0.8"/>
<line x1="393.9" y1="395.68" x2="397.5" y2="395.68" stroke="#c837f5" stroke-width="0.8"/>
<path d="M395.7 397.06 L397.83 393.17 L393.57 393.17Z" stroke="none" fill="#c837f5" stroke-width="1"/>
<line x1="424.6" y1="390.22" x2="424.6" y2="392.74" stroke="#c837f5" stroke-width="0.8"/>
<line x1="422.8" y1="390.22" x2="426.4" y2="390.22" stroke="#c837f5" stroke-width="0.8"/>
<line x1="422.8" y1="392.74" x2="426.4" y2="392.74" stroke="#c837f5" stroke-width="0.8"/>
<path d="M424.6 393.7 L426.73 389.81 L422.47 389.81Z" stroke="none" fill="#c837f5" stroke-width="1"/>
<line x1="453.5" y1="384.34" x2="453.5" y2="387.7" stroke="#c837f5" stroke-width="0.8"/>
<line x1="451.7" y1="384.34" x2="455.3" y2="384.34" stroke="#c837f5" stroke-width="0.8"/>
<line x1="451.7" y1="387.7" x2="455.3" y2="387.7" stroke="#c837f5" stroke-width="0.8"/>
<path d="M453.5 388.24 L455.63 384.35 L451.37 384.35Z" stroke="none" fill="#c837f5" stroke-width="1"/>
<line x1="482.4" y1="370.48" x2="482.4" y2="378.88" stroke="#c837f5" stroke-width="0.8"/>
<line x1="480.6" y1="370.48" x2="484.2" y2="370.48" stroke="#c837f5" stroke-width="0.8"/>
<line x1="480.6" y1="378.88" x2="484.2" y2="378.88" stroke="#c837f5" stroke-width="0.8"/>
<path d="M482.4 376.9 L484.53 373.01 L480.27 373.01Z" stroke="none" fill="#c837f5" stroke-width="1"/>
<line x1="395.7" y1="394.42" x2="395.7" y2="396.1" stroke="#45dc25" stroke-width="0.8"/>
<line x1="393.9" y1="394.42" x2="397.5" y2="394.42" stroke="#45dc25" stroke-width="0.8"/>
<line x1="393.9" y1="396.1" x2="397.5" y2="396.1" stroke="#45dc25" stroke-width="0.8"/>
<path d="M395.7 393.04 L397.83 396.93 L393.57 396.93Z" stroke="none" fill="#45dc25" stroke-width="1"/>
<line x1="424.6" y1="386.86" x2="424.6" y2="390.22" stroke="#45dc25" stroke-width="0.8"/>
<line x1="422.8" y1="386.86" x2="426.4" y2="386.86" stroke="#45dc25" stroke-width="0.8"/>
<line x1="422.8" y1="390.22" x2="426.4" y2="390.22" stroke="#45dc25" stroke-width="0.8"/>
<path d="M424.6 386.32 L426.73 390.21 L422.47 390.21Z" stroke="none" fill="#45dc25" stroke-width="1"/>
<line x1="453.5" y1="373.84" x2="453.5" y2="378.04" stroke="#45dc25" stroke-width="0.8"/>
<line x1="451.7" y1="373.84" x2="455.3" y2="373.84" stroke="#45dc25" stroke-width="0.8"/>
<line x1="451.7" y1="378.04" x2="455.3" y2="378.04" stroke="#45dc25" stroke-width="0.8"/>
<path d="M453.5 373.72 L455.63 377.61 L451.37 377.61Z" stroke="none" fill="#45dc25" stroke-width="1"/>
<line x1="482.4" y1="352.84" x2="482.4" y2="361.24" stroke="#45dc25" stroke-width="0.8"/>
<line x1="480.6" y1="352.84" x2="484.2" y2="352.84" stroke="#45dc25" stroke-width="0.8"/>
<line x1="480.6" y1="361.24" x2="484.2" y2="361.24" stroke="#45dc25" stroke-width="0.8"/>
<path d="M482.4 354.82 L484.53 358.71 L480.27 358.71Z" stroke="none" fill="#45dc25" stroke-width="1"/>
<line x1="395.7" y1="393.16" x2="395.7" y2="394.84" stroke="#fa1f16" stroke-width="0.8"/>
<line x1="393.9" y1="393.16" x2="397.5" y2="393.16" stroke="#fa1f16" stroke-width="0.8"/>
<line x1="393.9" y1="394.84" x2="397.5" y2="394.84" stroke="#fa1f16" stroke-width="0.8"/>
<rect x="393.85" y="392.15" width="3.7" height="3.7" fill="#fa1f16"/>
<line x1="424.6" y1="385.18" x2="424.6" y2="388.54" stroke="#fa1f16" stroke-width="0.8"/>
<line x1="422.8" y1="385.18" x2="426.4" y2="385.18" stroke="#fa1f16" stroke-width="0.8"/>
<line x1="422.8" y1="388.54" x2="426.4" y2="388.54" stroke="#fa1f16" stroke-width="0.8"/>
<rect x="422.75" y="385.01" width="3.7" height="3.7" fill="#fa1f16"/>
<line x1="453.5" y1="370.9" x2="453.5" y2="376.78" stroke="#fa1f16" stroke-width="0.8"/>
<line x1="451.7" y1="370.9" x2="455.3" y2="370.9" stroke="#fa1f16" stroke-width="0.8"/>
<line x1="451.7" y1="376.78" x2="455.3" y2="376.78" stroke="#fa1f16" stroke-width="0.8"/>
<rect x="451.65" y="371.99" width="3.7" height="3.7" fill="#fa1f16"/>
<line x1="482.4" y1="345.7" x2="482.4" y2="358.3" stroke="#fa1f16" stroke-width="0.8"/>
<line x1="480.6" y1="345.7" x2="484.2" y2="345.7" stroke="#fa1f16" stroke-width="0.8"/>
<line x1="480.6" y1="358.3" x2="484.2" y2="358.3" stroke="#fa1f16" stroke-width="0.8"/>
<rect x="480.55" y="350.15" width="3.7" height="3.7" fill="#fa1f16"/>
<line x1="395.7" y1="393.58" x2="395.7" y2="395.26" stroke="#1f1ff5" stroke-width="0.8"/>
<line x1="393.9" y1="393.58" x2="397.5" y2="393.58" stroke="#1f1ff5" stroke-width="0.8"/>
<line x1="393.9" y1="395.26" x2="397.5" y2="395.26" stroke="#1f1ff5" stroke-width="0.8"/>
<circle cx="395.7" cy="394.42" r="1.85" fill="#1f1ff5"/>
<line x1="424.6" y1="378.46" x2="424.6" y2="385.18" stroke="#1f1ff5" stroke-width="0.8"/>
<line x1="422.8" y1="378.46" x2="426.4" y2="378.46" stroke="#1f1ff5" stroke-width="0.8"/>
<line x1="422.8" y1="385.18" x2="426.4" y2="385.18" stroke="#1f1ff5" stroke-width="0.8"/>
<circle cx="424.6" cy="381.82" r="1.85" fill="#1f1ff5"/>
<line x1="453.5" y1="359.14" x2="453.5" y2="365.86" stroke="#1f1ff5" stroke-width="0.8"/>
<line x1="451.7" y1="359.14" x2="455.3" y2="359.14" stroke="#1f1ff5" stroke-width="0.8"/>
<line x1="451.7" y1="365.86" x2="455.3" y2="365.86" stroke="#1f1ff5" stroke-width="0.8"/>
<circle cx="453.5" cy="362.5" r="1.85" fill="#1f1ff5"/>
<line x1="482.4" y1="327.64" x2="482.4" y2="336.04" stroke="#1f1ff5" stroke-width="0.8"/>
<line x1="480.6" y1="327.64" x2="484.2" y2="327.64" stroke="#1f1ff5" stroke-width="0.8"/>
<line x1="480.6" y1="336.04" x2="484.2" y2="336.04" stroke="#1f1ff5" stroke-width="0.8"/>
<circle cx="482.4" cy="331.84" r="1.85" fill="#1f1ff5"/>
<line x1="376.3" y1="320.1" x2="376.3" y2="404.95" stroke="#262626" stroke-width="0.9"/>
<line x1="373.9" y1="404.5" x2="376.3" y2="404.5" stroke="#262626" stroke-width="0.9"/>
<text x="373.5" y="406.84" font-size="6.8" font-weight="bold" text-anchor="end" fill="#111">0.0</text>
<line x1="373.9" y1="383.5" x2="376.3" y2="383.5" stroke="#262626" stroke-width="0.9"/>
<text x="373.5" y="385.84" font-size="6.8" font-weight="bold" text-anchor="end" fill="#111">0.5</text>
<line x1="373.9" y1="362.5" x2="376.3" y2="362.5" stroke="#262626" stroke-width="0.9"/>
<text x="373.5" y="364.84" font-size="6.8" font-weight="bold" text-anchor="end" fill="#111">1.0</text>
<line x1="373.9" y1="341.5" x2="376.3" y2="341.5" stroke="#262626" stroke-width="0.9"/>
<text x="373.5" y="343.84" font-size="6.8" font-weight="bold" text-anchor="end" fill="#111">1.5</text>
<line x1="373.9" y1="320.5" x2="376.3" y2="320.5" stroke="#262626" stroke-width="0.9"/>
<text x="373.5" y="322.84" font-size="6.8" font-weight="bold" text-anchor="end" fill="#111">2.0</text>
<line x1="376.3" y1="404.5" x2="502" y2="404.5" stroke="#262626" stroke-width="0.9"/>
<line x1="395.7" y1="404.5" x2="395.7" y2="406.5" stroke="#262626" stroke-width="0.9"/>
<line x1="424.6" y1="404.5" x2="424.6" y2="406.5" stroke="#262626" stroke-width="0.9"/>
<line x1="453.5" y1="404.5" x2="453.5" y2="406.5" stroke="#262626" stroke-width="0.9"/>
<line x1="482.4" y1="404.5" x2="482.4" y2="406.5" stroke="#262626" stroke-width="0.9"/>
<text font-size="6.6" font-weight="bold" text-anchor="end" transform="translate(395.9 411.1) rotate(-45)" x="0" y="2.27" fill="#111">0h</text>
<text font-size="6.6" font-weight="bold" text-anchor="end" transform="translate(424.8 411.1) rotate(-45)" x="0" y="2.27" fill="#111">24h</text>
<text font-size="6.6" font-weight="bold" text-anchor="end" transform="translate(453.7 411.1) rotate(-45)" x="0" y="2.27" fill="#111">48h</text>
<text font-size="6.6" font-weight="bold" text-anchor="end" transform="translate(482.6 411.1) rotate(-45)" x="0" y="2.27" fill="#111">72h</text>
<text x="439.3" y="430.28" font-size="7.2" font-weight="bold" text-anchor="middle" fill="#111" textLength="23.3" lengthAdjust="spacingAndGlyphs">time(h)</text>
<text font-size="7.1" font-weight="bold" text-anchor="middle" textLength="64.3" lengthAdjust="spacingAndGlyphs" transform="translate(352.14 363) rotate(-90)" x="0" y="0" fill="#111">OD value at450 nm</text>
<line x1="382.6" y1="325.2" x2="391.8" y2="325.2" stroke="#1f1ff5" stroke-width="1"/>
<circle cx="387.2" cy="325.2" r="1.75" fill="#1f1ff5"/>
<text x="396.7" y="326.85" font-size="4.8" fill="#111" textLength="14" lengthAdjust="spacingAndGlyphs" stroke="#111" stroke-width="0.12">DMSO</text>
<line x1="382.6" y1="334.1" x2="391.8" y2="334.1" stroke="#45dc25" stroke-width="1"/>
<path d="M387.2 332 L389.21 335.68 L385.19 335.68Z" stroke="none" fill="#45dc25" stroke-width="1"/>
<text x="396.7" y="335.75" font-size="4.8" fill="#111" textLength="13.5" lengthAdjust="spacingAndGlyphs" stroke="#111" stroke-width="0.12">Erastin</text>
<line x1="382.6" y1="342.5" x2="391.8" y2="342.5" stroke="#fa1f16" stroke-width="1"/>
<rect x="385.45" y="340.75" width="3.5" height="3.5" fill="#fa1f16"/>
<text x="396.7" y="344.15" font-size="4.8" fill="#111" textLength="28.1" lengthAdjust="spacingAndGlyphs" stroke="#111" stroke-width="0.12">shCtrl+Erastin</text>
<line x1="382.6" y1="350.7" x2="391.8" y2="350.7" stroke="#c837f5" stroke-width="1"/>
<path d="M387.2 352.8 L389.21 349.12 L385.19 349.12Z" stroke="none" fill="#c837f5" stroke-width="1"/>
<text x="396.7" y="352.35" font-size="4.8" fill="#111" textLength="31.2" lengthAdjust="spacingAndGlyphs" stroke="#111" stroke-width="0.12">shSPI1+Erastin</text>
<line x1="382.6" y1="359.4" x2="391.8" y2="359.4" stroke="#f0862a" stroke-width="1"/>
<path d="M387.2 357.12 L389.12 359.4 L387.2 361.67 L385.27 359.4Z" stroke="none" fill="#f0862a" stroke-width="1"/>
<text x="396.7" y="361.05" font-size="4.8" fill="#111" textLength="53" lengthAdjust="spacingAndGlyphs" stroke="#111" stroke-width="0.12">shSPI1+Erastin+si-ACSL4</text>
<path d="M486.4 331.8 H488.7 V352.4 H486.4" stroke="#999" fill="none" stroke-width="0.75"/>
<text font-size="5.2" font-weight="bold" text-anchor="middle" fill="#222" transform="translate(488.2 342.1) rotate(90)" x="0" y="0">****</text>
<path d="M490.2 331.8 H493.2 V358.2 H490.2" stroke="#333" fill="none" stroke-width="0.75"/>
<text font-size="5.2" font-weight="bold" text-anchor="middle" fill="#222" transform="translate(492.7 345) rotate(90)" x="0" y="0">***</text>
<path d="M495.1 331.8 H498.6 V374.5 H495.1" stroke="#333" fill="none" stroke-width="0.75"/>
<text font-size="5.2" font-weight="bold" text-anchor="middle" fill="#222" transform="translate(498.1 353.15) rotate(90)" x="0" y="0">****</text>
<path d="M486.4 362.3 H488.7 V374.5 H486.4" stroke="#333" fill="none" stroke-width="0.75"/>
<text font-size="5.2" font-weight="bold" text-anchor="middle" fill="#222" transform="translate(488.2 368.4) rotate(90)" x="0" y="0">**</text>
<text x="615.4" y="309.06" font-size="8.9" font-weight="bold" text-anchor="middle" fill="#111" textLength="23.4" lengthAdjust="spacingAndGlyphs">ACHN</text>
<polyline points="571.5,397.28 600.4,392.91 629.3,381.49 658.2,361.33" fill="none" stroke="#f0862a" stroke-width="1.15"/>
<polyline points="571.5,397.28 600.4,394.59 629.3,389.22 658.2,377.12" fill="none" stroke="#c837f5" stroke-width="1.15"/>
<polyline points="571.5,397.28 600.4,392.91 629.3,382.16 658.2,358.64" fill="none" stroke="#45dc25" stroke-width="1.15"/>
<polyline points="571.5,397.28 600.4,392.24 629.3,380.48 658.2,351.92" fill="none" stroke="#fa1f16" stroke-width="1.15"/>
<polyline points="571.5,397.28 600.4,389.22 629.3,370.4 658.2,339.15" fill="none" stroke="#1f1ff5" stroke-width="1.15"/>
<line x1="571.5" y1="396.61" x2="571.5" y2="397.95" stroke="#f0862a" stroke-width="0.8"/>
<line x1="569.7" y1="396.61" x2="573.3" y2="396.61" stroke="#f0862a" stroke-width="0.8"/>
<line x1="569.7" y1="397.95" x2="573.3" y2="397.95" stroke="#f0862a" stroke-width="0.8"/>
<path d="M571.5 394.88 L573.53 397.28 L571.5 399.68 L569.47 397.28Z" stroke="none" fill="#f0862a" stroke-width="1"/>
<line x1="600.4" y1="391.9" x2="600.4" y2="393.92" stroke="#f0862a" stroke-width="0.8"/>
<line x1="598.6" y1="391.9" x2="602.2" y2="391.9" stroke="#f0862a" stroke-width="0.8"/>
<line x1="598.6" y1="393.92" x2="602.2" y2="393.92" stroke="#f0862a" stroke-width="0.8"/>
<path d="M600.4 390.51 L602.43 392.91 L600.4 395.32 L598.37 392.91Z" stroke="none" fill="#f0862a" stroke-width="1"/>
<line x1="629.3" y1="380.14" x2="629.3" y2="382.83" stroke="#f0862a" stroke-width="0.8"/>
<line x1="627.5" y1="380.14" x2="631.1" y2="380.14" stroke="#f0862a" stroke-width="0.8"/>
<line x1="627.5" y1="382.83" x2="631.1" y2="382.83" stroke="#f0862a" stroke-width="0.8"/>
<path d="M629.3 379.08 L631.33 381.49 L629.3 383.89 L627.26 381.49Z" stroke="none" fill="#f0862a" stroke-width="1"/>
<line x1="658.2" y1="359.31" x2="658.2" y2="363.34" stroke="#f0862a" stroke-width="0.8"/>
<line x1="656.4" y1="359.31" x2="660" y2="359.31" stroke="#f0862a" stroke-width="0.8"/>
<line x1="656.4" y1="363.34" x2="660" y2="363.34" stroke="#f0862a" stroke-width="0.8"/>
<path d="M658.2 358.92 L660.24 361.33 L658.2 363.73 L656.17 361.33Z" stroke="none" fill="#f0862a" stroke-width="1"/>
<line x1="571.5" y1="396.61" x2="571.5" y2="397.95" stroke="#c837f5" stroke-width="0.8"/>
<line x1="569.7" y1="396.61" x2="573.3" y2="396.61" stroke="#c837f5" stroke-width="0.8"/>
<line x1="569.7" y1="397.95" x2="573.3" y2="397.95" stroke="#c837f5" stroke-width="0.8"/>
<path d="M571.5 399.5 L573.63 395.61 L569.37 395.61Z" stroke="none" fill="#c837f5" stroke-width="1"/>
<line x1="600.4" y1="393.58" x2="600.4" y2="395.6" stroke="#c837f5" stroke-width="0.8"/>
<line x1="598.6" y1="393.58" x2="602.2" y2="393.58" stroke="#c837f5" stroke-width="0.8"/>
<line x1="598.6" y1="395.6" x2="602.2" y2="395.6" stroke="#c837f5" stroke-width="0.8"/>
<path d="M600.4 396.81 L602.53 392.93 L598.27 392.93Z" stroke="none" fill="#c837f5" stroke-width="1"/>
<line x1="629.3" y1="387.87" x2="629.3" y2="390.56" stroke="#c837f5" stroke-width="0.8"/>
<line x1="627.5" y1="387.87" x2="631.1" y2="387.87" stroke="#c837f5" stroke-width="0.8"/>
<line x1="627.5" y1="390.56" x2="631.1" y2="390.56" stroke="#c837f5" stroke-width="0.8"/>
<path d="M629.3 391.44 L631.43 387.55 L627.17 387.55Z" stroke="none" fill="#c837f5" stroke-width="1"/>
<line x1="658.2" y1="373.76" x2="658.2" y2="380.48" stroke="#c837f5" stroke-width="0.8"/>
<line x1="656.4" y1="373.76" x2="660" y2="373.76" stroke="#c837f5" stroke-width="0.8"/>
<line x1="656.4" y1="380.48" x2="660" y2="380.48" stroke="#c837f5" stroke-width="0.8"/>
<path d="M658.2 379.34 L660.33 375.45 L656.07 375.45Z" stroke="none" fill="#c837f5" stroke-width="1"/>
<line x1="571.5" y1="396.61" x2="571.5" y2="397.95" stroke="#45dc25" stroke-width="0.8"/>
<line x1="569.7" y1="396.61" x2="573.3" y2="396.61" stroke="#45dc25" stroke-width="0.8"/>
<line x1="569.7" y1="397.95" x2="573.3" y2="397.95" stroke="#45dc25" stroke-width="0.8"/>
<path d="M571.5 395.06 L573.63 398.94 L569.37 398.94Z" stroke="none" fill="#45dc25" stroke-width="1"/>
<line x1="600.4" y1="391.9" x2="600.4" y2="393.92" stroke="#45dc25" stroke-width="0.8"/>
<line x1="598.6" y1="391.9" x2="602.2" y2="391.9" stroke="#45dc25" stroke-width="0.8"/>
<line x1="598.6" y1="393.92" x2="602.2" y2="393.92" stroke="#45dc25" stroke-width="0.8"/>
<path d="M600.4 390.69 L602.53 394.58 L598.27 394.58Z" stroke="none" fill="#45dc25" stroke-width="1"/>
<line x1="629.3" y1="380.82" x2="629.3" y2="383.5" stroke="#45dc25" stroke-width="0.8"/>
<line x1="627.5" y1="380.82" x2="631.1" y2="380.82" stroke="#45dc25" stroke-width="0.8"/>
<line x1="627.5" y1="383.5" x2="631.1" y2="383.5" stroke="#45dc25" stroke-width="0.8"/>
<path d="M629.3 379.94 L631.43 383.82 L627.17 383.82Z" stroke="none" fill="#45dc25" stroke-width="1"/>
<line x1="658.2" y1="356.62" x2="658.2" y2="360.66" stroke="#45dc25" stroke-width="0.8"/>
<line x1="656.4" y1="356.62" x2="660" y2="356.62" stroke="#45dc25" stroke-width="0.8"/>
<line x1="656.4" y1="360.66" x2="660" y2="360.66" stroke="#45dc25" stroke-width="0.8"/>
<path d="M658.2 356.42 L660.33 360.31 L656.07 360.31Z" stroke="none" fill="#45dc25" stroke-width="1"/>
<line x1="571.5" y1="396.61" x2="571.5" y2="397.95" stroke="#fa1f16" stroke-width="0.8"/>
<line x1="569.7" y1="396.61" x2="573.3" y2="396.61" stroke="#fa1f16" stroke-width="0.8"/>
<line x1="569.7" y1="397.95" x2="573.3" y2="397.95" stroke="#fa1f16" stroke-width="0.8"/>
<rect x="569.65" y="395.43" width="3.7" height="3.7" fill="#fa1f16"/>
<line x1="600.4" y1="391.23" x2="600.4" y2="393.25" stroke="#fa1f16" stroke-width="0.8"/>
<line x1="598.6" y1="391.23" x2="602.2" y2="391.23" stroke="#fa1f16" stroke-width="0.8"/>
<line x1="598.6" y1="393.25" x2="602.2" y2="393.25" stroke="#fa1f16" stroke-width="0.8"/>
<rect x="598.55" y="390.39" width="3.7" height="3.7" fill="#fa1f16"/>
<line x1="629.3" y1="378.8" x2="629.3" y2="382.16" stroke="#fa1f16" stroke-width="0.8"/>
<line x1="627.5" y1="378.8" x2="631.1" y2="378.8" stroke="#fa1f16" stroke-width="0.8"/>
<line x1="627.5" y1="382.16" x2="631.1" y2="382.16" stroke="#fa1f16" stroke-width="0.8"/>
<rect x="627.45" y="378.63" width="3.7" height="3.7" fill="#fa1f16"/>
<line x1="658.2" y1="349.23" x2="658.2" y2="354.61" stroke="#fa1f16" stroke-width="0.8"/>
<line x1="656.4" y1="349.23" x2="660" y2="349.23" stroke="#fa1f16" stroke-width="0.8"/>
<line x1="656.4" y1="354.61" x2="660" y2="354.61" stroke="#fa1f16" stroke-width="0.8"/>
<rect x="656.35" y="350.07" width="3.7" height="3.7" fill="#fa1f16"/>
<line x1="571.5" y1="396.61" x2="571.5" y2="397.95" stroke="#1f1ff5" stroke-width="0.8"/>
<line x1="569.7" y1="396.61" x2="573.3" y2="396.61" stroke="#1f1ff5" stroke-width="0.8"/>
<line x1="569.7" y1="397.95" x2="573.3" y2="397.95" stroke="#1f1ff5" stroke-width="0.8"/>
<circle cx="571.5" cy="397.28" r="1.85" fill="#1f1ff5"/>
<line x1="600.4" y1="387.2" x2="600.4" y2="391.23" stroke="#1f1ff5" stroke-width="0.8"/>
<line x1="598.6" y1="387.2" x2="602.2" y2="387.2" stroke="#1f1ff5" stroke-width="0.8"/>
<line x1="598.6" y1="391.23" x2="602.2" y2="391.23" stroke="#1f1ff5" stroke-width="0.8"/>
<circle cx="600.4" cy="389.22" r="1.85" fill="#1f1ff5"/>
<line x1="629.3" y1="366.37" x2="629.3" y2="374.43" stroke="#1f1ff5" stroke-width="0.8"/>
<line x1="627.5" y1="366.37" x2="631.1" y2="366.37" stroke="#1f1ff5" stroke-width="0.8"/>
<line x1="627.5" y1="374.43" x2="631.1" y2="374.43" stroke="#1f1ff5" stroke-width="0.8"/>
<circle cx="629.3" cy="370.4" r="1.85" fill="#1f1ff5"/>
<line x1="658.2" y1="337.14" x2="658.2" y2="341.17" stroke="#1f1ff5" stroke-width="0.8"/>
<line x1="656.4" y1="337.14" x2="660" y2="337.14" stroke="#1f1ff5" stroke-width="0.8"/>
<line x1="656.4" y1="341.17" x2="660" y2="341.17" stroke="#1f1ff5" stroke-width="0.8"/>
<circle cx="658.2" cy="339.15" r="1.85" fill="#1f1ff5"/>
<line x1="552.3" y1="319.6" x2="552.3" y2="404.45" stroke="#262626" stroke-width="0.9"/>
<line x1="549.9" y1="404" x2="552.3" y2="404" stroke="#262626" stroke-width="0.9"/>
<text x="549.5" y="406.34" font-size="6.8" font-weight="bold" text-anchor="end" fill="#111">0.0</text>
<line x1="549.9" y1="387.2" x2="552.3" y2="387.2" stroke="#262626" stroke-width="0.9"/>
<text x="549.5" y="389.54" font-size="6.8" font-weight="bold" text-anchor="end" fill="#111">0.5</text>
<line x1="549.9" y1="370.4" x2="552.3" y2="370.4" stroke="#262626" stroke-width="0.9"/>
<text x="549.5" y="372.74" font-size="6.8" font-weight="bold" text-anchor="end" fill="#111">1.0</text>
<line x1="549.9" y1="353.6" x2="552.3" y2="353.6" stroke="#262626" stroke-width="0.9"/>
<text x="549.5" y="355.94" font-size="6.8" font-weight="bold" text-anchor="end" fill="#111">1.5</text>
<line x1="549.9" y1="336.8" x2="552.3" y2="336.8" stroke="#262626" stroke-width="0.9"/>
<text x="549.5" y="339.14" font-size="6.8" font-weight="bold" text-anchor="end" fill="#111">2.0</text>
<line x1="549.9" y1="320" x2="552.3" y2="320" stroke="#262626" stroke-width="0.9"/>
<text x="549.5" y="322.34" font-size="6.8" font-weight="bold" text-anchor="end" fill="#111">2.5</text>
<line x1="552.3" y1="404" x2="678.4" y2="404" stroke="#262626" stroke-width="0.9"/>
<line x1="571.5" y1="404" x2="571.5" y2="406" stroke="#262626" stroke-width="0.9"/>
<line x1="600.4" y1="404" x2="600.4" y2="406" stroke="#262626" stroke-width="0.9"/>
<line x1="629.3" y1="404" x2="629.3" y2="406" stroke="#262626" stroke-width="0.9"/>
<line x1="658.2" y1="404" x2="658.2" y2="406" stroke="#262626" stroke-width="0.9"/>
<text font-size="6.6" font-weight="bold" text-anchor="end" transform="translate(571.7 410.6) rotate(-45)" x="0" y="2.27" fill="#111">0h</text>
<text font-size="6.6" font-weight="bold" text-anchor="end" transform="translate(600.6 410.6) rotate(-45)" x="0" y="2.27" fill="#111">24h</text>
<text font-size="6.6" font-weight="bold" text-anchor="end" transform="translate(629.5 410.6) rotate(-45)" x="0" y="2.27" fill="#111">48h</text>
<text font-size="6.6" font-weight="bold" text-anchor="end" transform="translate(658.4 410.6) rotate(-45)" x="0" y="2.27" fill="#111">72h</text>
<text x="614.8" y="430.28" font-size="7.2" font-weight="bold" text-anchor="middle" fill="#111" textLength="23.3" lengthAdjust="spacingAndGlyphs">time(h)</text>
<text font-size="7.1" font-weight="bold" text-anchor="middle" textLength="64.3" lengthAdjust="spacingAndGlyphs" transform="translate(527.14 362.5) rotate(-90)" x="0" y="0" fill="#111">OD value at450 nm</text>
<line x1="557.5" y1="325.2" x2="566.7" y2="325.2" stroke="#1f1ff5" stroke-width="1"/>
<circle cx="562.1" cy="325.2" r="1.75" fill="#1f1ff5"/>
<text x="571.6" y="326.85" font-size="4.8" fill="#111" textLength="12" lengthAdjust="spacingAndGlyphs" stroke="#111" stroke-width="0.12">shCtrl</text>
<line x1="557.5" y1="333.6" x2="566.7" y2="333.6" stroke="#45dc25" stroke-width="1"/>
<path d="M562.1 331.5 L564.11 335.18 L560.09 335.18Z" stroke="none" fill="#45dc25" stroke-width="1"/>
<text x="571.6" y="335.25" font-size="4.8" fill="#111" textLength="13.5" lengthAdjust="spacingAndGlyphs" stroke="#111" stroke-width="0.12">Erastin</text>
<line x1="557.5" y1="341.5" x2="566.7" y2="341.5" stroke="#fa1f16" stroke-width="1"/>
<rect x="560.35" y="339.75" width="3.5" height="3.5" fill="#fa1f16"/>
<text x="571.6" y="343.15" font-size="4.8" fill="#111" textLength="28.1" lengthAdjust="spacingAndGlyphs" stroke="#111" stroke-width="0.12">shCtrl+Erastin</text>
<line x1="557.5" y1="350.7" x2="566.7" y2="350.7" stroke="#c837f5" stroke-width="1"/>
<path d="M562.1 352.8 L564.11 349.12 L560.09 349.12Z" stroke="none" fill="#c837f5" stroke-width="1"/>
<text x="571.6" y="352.35" font-size="4.8" fill="#111" textLength="31.2" lengthAdjust="spacingAndGlyphs" stroke="#111" stroke-width="0.12">shSPI1+Erastin</text>
<line x1="557.5" y1="359.4" x2="566.7" y2="359.4" stroke="#f0862a" stroke-width="1"/>
<path d="M562.1 357.12 L564.02 359.4 L562.1 361.67 L560.18 359.4Z" stroke="none" fill="#f0862a" stroke-width="1"/>
<text x="571.6" y="361.05" font-size="4.8" fill="#111" textLength="53" lengthAdjust="spacingAndGlyphs" stroke="#111" stroke-width="0.12">shSPI1+Erastin+si-ACSL4</text>
<path d="M661.6 339.3 H664.7 V352.2 H661.6" stroke="#999" fill="none" stroke-width="0.75"/>
<text font-size="5.2" font-weight="bold" text-anchor="middle" fill="#222" transform="translate(664.2 345.75) rotate(90)" x="0" y="0">****</text>
<path d="M666 339.3 H669.2 V358.8 H666" stroke="#999" fill="none" stroke-width="0.75"/>
<text font-size="5.2" font-weight="bold" text-anchor="middle" fill="#222" transform="translate(668.7 349.05) rotate(90)" x="0" y="0">***</text>
<path d="M670 339.3 H673.6 V376.1 H670" stroke="#333" fill="none" stroke-width="0.75"/>
<text font-size="5.2" font-weight="bold" text-anchor="middle" fill="#222" transform="translate(673.1 357.7) rotate(90)" x="0" y="0">****</text>
<path d="M661.6 360.3 H664.7 V376.1 H661.6" stroke="#999" fill="none" stroke-width="0.75"/>
<text font-size="5.2" font-weight="bold" text-anchor="middle" fill="#222" transform="translate(664.2 368.2) rotate(90)" x="0" y="0">**</text>
<text font-size="25.36" stroke="#000" stroke-width="0.55" stroke-linejoin="round" transform="translate(0.62 443.62) scale(0.88 1)" x="0" y="0">H</text>
<path d="M44.2 488.6 L44.7 488.6 L45.2 488.6 L45.7 488.6 L46.2 488.6 L46.7 488.6 L47.2 488.6 L47.7 488.6 L48.2 488.6 L48.7 488.6 L49.2 488.6 L49.7 488.6 L50.2 488.6 L50.7 488.6 L51.2 488.6 L51.7 488.6 L52.2 488.6 L52.7 488.6 L53.2 488.6 L53.7 488.6 L54.2 488.6 L54.7 488.6 L55.2 488.6 L55.7 488.6 L56.2 488.6 L56.7 488.6 L57.2 488.6 L57.7 488.6 L58.2 488.6 L58.7 488.6 L59.2 488.6 L59.7 488.6 L60.2 488.6 L60.7 488.6 L61.2 488.6 L61.7 488.6 L62.2 488.6 L62.7 488.6 L63.2 488.6 L63.7 488.6 L64.2 488.6 L64.7 488.6 L65.2 488.6 L65.7 488.6 L66.2 488.6 L66.7 488.6 L67.2 488.6 L67.7 488.6 L68.2 488.6 L68.7 488.6 L69.2 488.6 L69.7 488.6 L70.2 488.6 L70.7 488.6 L71.2 488.6 L71.7 488.6 L72.2 488.6 L72.7 488.6 L73.2 488.6 L73.7 488.6 L74.2 488.6 L74.7 488.6 L75.2 488.6 L75.7 488.6 L76.2 488.6 L76.7 488.6 L77.2 488.6 L77.7 488.6 L78.2 488.6 L78.7 488.6 L79.2 488.6 L79.7 488.6 L80.2 488.6 L80.7 488.6 L81.2 488.6 L81.7 488.6 L82.2 488.6 L82.7 488.6 L83.2 488.6 L83.7 488.6 L84.2 488.6 L84.7 488.6 L85.2 488.6 L85.7 488.6 L86.2 488.6 L86.7 488.6 L87.2 488.6 L87.7 488.6 L88.2 488.6 L88.7 488.6 L89.2 488.6 L89.7 488.6 L90.2 488.6 L90.7 488.6 L91.2 488.6 L91.7 488.6 L92.2 488.6 L92.7 488.6 L93.2 488.6 L93.7 488.6 L94.2 488.6 L94.7 488.6 L95.2 488.6 L95.7 488.6 L96.2 488.6 L96.7 488.6 L97.2 488.6 L97.7 488.6 L98.2 488.6 L98.7 488.6 L99.2 488.6 L99.7 488.6 L100.2 488.6 L100.7 488.6 L101.2 488.6 L101.7 488.6 L102.2 488.6 L102.7 488.6 L103.2 488.6 L103.7 488.6 L104.2 488.6 L104.7 488.6 L105.2 488.6 L105.7 488.6 L106.2 488.6 L106.7 488.6 L107.2 488.6 L107.7 488.6 L108.2 488.6 L108.7 488.6 L109.2 488.6 L109.7 488.6 L110.2 488.6 L110.7 488.59 L111.2 488.59 L111.7 488.58 L112.2 488.57 L112.7 488.56 L113.2 488.53 L113.7 488.5 L114.2 488.44 L114.7 488.37 L115.2 488.28 L115.7 488.15 L116.2 487.98 L116.7 487.76 L117.2 487.45 L117.7 487.04 L118.2 486.46 L118.7 485.66 L119.2 484.54 L119.7 483.01 L120.2 480.98 L120.7 478.38 L121.2 475.21 L121.7 471.55 L122.2 467.57 L122.7 463.58 L123.2 459.93 L123.7 457.01 L124.2 455.18 L124.7 454.67 L125.2 455.45 L125.7 457.37 L126.2 460.21 L126.7 463.72 L127.2 467.58 L127.7 471.48 L128.2 475.15 L128.7 478.42 L129.2 481.17 L129.7 483.38 L130.2 485.07 L130.7 486.32 L131.2 487.19 L131.7 487.78 L132.2 488.17 L132.7 488.42 L133.2 488.57 L133.7 488.67 L134.2 488.73 L134.7 488.77 L135.2 488.8 L135.7 488.82 L136.2 488.85 L136.7 488.87 L137.2 488.89 L137.7 488.91 L138.2 488.93 L138.7 488.95 L139.2 488.97 L139.7 488.99 L140.2 489.01 L140.7 489.03 L141.2 489.05 L141.7 489.07 L142.2 489.09 L142.7 489.11 L143.2 489.13 L143.7 489.15 L144.2 489.17 L144.7 489.19 L145.2 489.21 L145.7 489.23 L146.2 489.25 L146.7 489.27 L147.2 489.29 L147.7 489.31 L148.2 489.33 L148.7 489.35 L149.2 489.37 L149.7 489.39 L150.2 489.41 L150.7 489.43 L151.2 489.45 L151.7 489.47 L152.2 489.49 L152.7 489.51 L153.2 489.53 L153.7 489.55 L154.2 489.57 L154.2 488.6 L44.2 488.6Z" stroke="none" fill="#dcdcff" stroke-width="1" opacity="0.75"/>
<path d="M44.2 507.3 L44.7 507.3 L45.2 507.3 L45.7 507.3 L46.2 507.3 L46.7 507.3 L47.2 507.3 L47.7 507.3 L48.2 507.3 L48.7 507.3 L49.2 507.3 L49.7 507.3 L50.2 507.3 L50.7 507.3 L51.2 507.3 L51.7 507.3 L52.2 507.3 L52.7 507.3 L53.2 507.3 L53.7 507.3 L54.2 507.3 L54.7 507.3 L55.2 507.3 L55.7 507.3 L56.2 507.3 L56.7 507.3 L57.2 507.3 L57.7 507.3 L58.2 507.3 L58.7 507.3 L59.2 507.3 L59.7 507.3 L60.2 507.3 L60.7 507.3 L61.2 507.3 L61.7 507.3 L62.2 507.3 L62.7 507.3 L63.2 507.3 L63.7 507.3 L64.2 507.3 L64.7 507.3 L65.2 507.3 L65.7 507.3 L66.2 507.3 L66.7 507.3 L67.2 507.3 L67.7 507.3 L68.2 507.3 L68.7 507.3 L69.2 507.3 L69.7 507.3 L70.2 507.3 L70.7 507.3 L71.2 507.3 L71.7 507.3 L72.2 507.3 L72.7 507.3 L73.2 507.3 L73.7 507.3 L74.2 507.3 L74.7 507.3 L75.2 507.3 L75.7 507.3 L76.2 507.3 L76.7 507.3 L77.2 507.3 L77.7 507.3 L78.2 507.3 L78.7 507.3 L79.2 507.3 L79.7 507.3 L80.2 507.3 L80.7 507.3 L81.2 507.3 L81.7 507.3 L82.2 507.3 L82.7 507.3 L83.2 507.3 L83.7 507.3 L84.2 507.3 L84.7 507.3 L85.2 507.3 L85.7 507.3 L86.2 507.3 L86.7 507.3 L87.2 507.3 L87.7 507.3 L88.2 507.3 L88.7 507.3 L89.2 507.3 L89.7 507.3 L90.2 507.3 L90.7 507.3 L91.2 507.3 L91.7 507.3 L92.2 507.3 L92.7 507.3 L93.2 507.3 L93.7 507.3 L94.2 507.3 L94.7 507.3 L95.2 507.3 L95.7 507.3 L96.2 507.3 L96.7 507.3 L97.2 507.3 L97.7 507.3 L98.2 507.3 L98.7 507.3 L99.2 507.3 L99.7 507.3 L100.2 507.3 L100.7 507.3 L101.2 507.3 L101.7 507.3 L102.2 507.3 L102.7 507.3 L103.2 507.3 L103.7 507.3 L104.2 507.3 L104.7 507.3 L105.2 507.3 L105.7 507.3 L106.2 507.3 L106.7 507.3 L107.2 507.3 L107.7 507.3 L108.2 507.3 L108.7 507.3 L109.2 507.3 L109.7 507.3 L110.2 507.3 L110.7 507.3 L111.2 507.3 L111.7 507.3 L112.2 507.3 L112.7 507.3 L113.2 507.3 L113.7 507.3 L114.2 507.3 L114.7 507.3 L115.2 507.3 L115.7 507.3 L116.2 507.3 L116.7 507.3 L117.2 507.3 L117.7 507.3 L118.2 507.29 L118.7 507.28 L119.2 507.25 L119.7 507.2 L120.2 507.09 L120.7 506.87 L121.2 506.48 L121.7 505.82 L122.2 504.75 L122.7 503.14 L123.2 500.84 L123.7 497.78 L124.2 493.97 L124.7 489.56 L125.2 484.87 L125.7 480.36 L126.2 476.52 L126.7 473.87 L127.2 472.76 L127.7 472.99 L128.2 474.21 L128.7 476.3 L129.2 479.07 L129.7 482.28 L130.2 485.7 L130.7 489.11 L131.2 492.34 L131.7 495.22 L132.2 497.69 L132.7 499.74 L133.2 501.38 L133.7 502.67 L134.2 503.66 L134.7 504.43 L135.2 505.01 L135.7 505.46 L136.2 505.82 L136.7 506.11 L137.2 506.34 L137.7 506.53 L138.2 506.69 L138.7 506.82 L139.2 506.93 L139.7 507.02 L140.2 507.09 L140.7 507.14 L141.2 507.18 L141.7 507.22 L142.2 507.24 L142.7 507.26 L143.2 507.27 L143.7 507.28 L144.2 507.29 L144.7 507.29 L145.2 507.29 L145.7 507.3 L146.2 507.3 L146.7 507.3 L147.2 507.3 L147.7 507.3 L148.2 507.3 L148.7 507.3 L149.2 507.3 L149.7 507.3 L150.2 507.3 L150.7 507.3 L151.2 507.3 L151.7 507.3 L152.2 507.3 L152.7 507.3 L153.2 507.3 L153.7 507.3 L154.2 507.3 L154.2 507.3 L44.2 507.3Z" stroke="none" fill="#ffe0e0" stroke-width="1" opacity="0.75"/>
<path d="M44.2 525.6 L44.7 525.6 L45.2 525.6 L45.7 525.6 L46.2 525.6 L46.7 525.6 L47.2 525.6 L47.7 525.6 L48.2 525.6 L48.7 525.6 L49.2 525.6 L49.7 525.6 L50.2 525.6 L50.7 525.6 L51.2 525.6 L51.7 525.6 L52.2 525.6 L52.7 525.6 L53.2 525.6 L53.7 525.6 L54.2 525.6 L54.7 525.6 L55.2 525.6 L55.7 525.6 L56.2 525.6 L56.7 525.6 L57.2 525.6 L57.7 525.6 L58.2 525.6 L58.7 525.6 L59.2 525.6 L59.7 525.6 L60.2 525.6 L60.7 525.6 L61.2 525.6 L61.7 525.6 L62.2 525.6 L62.7 525.6 L63.2 525.6 L63.7 525.6 L64.2 525.6 L64.7 525.6 L65.2 525.6 L65.7 525.6 L66.2 525.6 L66.7 525.6 L67.2 525.6 L67.7 525.6 L68.2 525.6 L68.7 525.6 L69.2 525.6 L69.7 525.6 L70.2 525.6 L70.7 525.6 L71.2 525.6 L71.7 525.6 L72.2 525.6 L72.7 525.6 L73.2 525.6 L73.7 525.6 L74.2 525.6 L74.7 525.6 L75.2 525.6 L75.7 525.6 L76.2 525.6 L76.7 525.6 L77.2 525.6 L77.7 525.6 L78.2 525.6 L78.7 525.6 L79.2 525.6 L79.7 525.6 L80.2 525.6 L80.7 525.6 L81.2 525.6 L81.7 525.6 L82.2 525.6 L82.7 525.6 L83.2 525.6 L83.7 525.6 L84.2 525.6 L84.7 525.6 L85.2 525.6 L85.7 525.6 L86.2 525.6 L86.7 525.6 L87.2 525.6 L87.7 525.6 L88.2 525.6 L88.7 525.6 L89.2 525.6 L89.7 525.6 L90.2 525.6 L90.7 525.6 L91.2 525.6 L91.7 525.6 L92.2 525.6 L92.7 525.6 L93.2 525.6 L93.7 525.6 L94.2 525.6 L94.7 525.6 L95.2 525.6 L95.7 525.6 L96.2 525.6 L96.7 525.6 L97.2 525.6 L97.7 525.6 L98.2 525.6 L98.7 525.6 L99.2 525.6 L99.7 525.6 L100.2 525.6 L100.7 525.6 L101.2 525.6 L101.7 525.6 L102.2 525.6 L102.7 525.6 L103.2 525.6 L103.7 525.6 L104.2 525.6 L104.7 525.6 L105.2 525.6 L105.7 525.6 L106.2 525.6 L106.7 525.6 L107.2 525.6 L107.7 525.6 L108.2 525.6 L108.7 525.6 L109.2 525.6 L109.7 525.6 L110.2 525.6 L110.7 525.6 L111.2 525.6 L111.7 525.6 L112.2 525.6 L112.7 525.6 L113.2 525.6 L113.7 525.6 L114.2 525.6 L114.7 525.6 L115.2 525.6 L115.7 525.6 L116.2 525.6 L116.7 525.6 L117.2 525.6 L117.7 525.59 L118.2 525.58 L118.7 525.55 L119.2 525.5 L119.7 525.41 L120.2 525.23 L120.7 524.93 L121.2 524.43 L121.7 523.63 L122.2 522.44 L122.7 520.74 L123.2 518.45 L123.7 515.52 L124.2 512 L124.7 508.02 L125.2 503.84 L125.7 499.79 L126.2 496.29 L126.7 493.7 L127.2 492.33 L127.7 492.26 L128.2 493.22 L128.7 495.08 L129.2 497.64 L129.7 500.68 L130.2 503.97 L130.7 507.26 L131.2 510.37 L131.7 513.18 L132.2 515.6 L132.7 517.61 L133.2 519.24 L133.7 520.5 L134.2 521.44 L134.7 522.14 L135.2 522.65 L135.7 523.03 L136.2 523.33 L136.7 523.57 L137.2 523.77 L137.7 523.95 L138.2 524.12 L138.7 524.29 L139.2 524.44 L139.7 524.58 L140.2 524.71 L140.7 524.84 L141.2 524.95 L141.7 525.05 L142.2 525.14 L142.7 525.22 L143.2 525.29 L143.7 525.35 L144.2 525.4 L144.7 525.44 L145.2 525.47 L145.7 525.5 L146.2 525.52 L146.7 525.54 L147.2 525.56 L147.7 525.57 L148.2 525.58 L148.7 525.58 L149.2 525.59 L149.7 525.59 L150.2 525.59 L150.7 525.6 L151.2 525.6 L151.7 525.6 L152.2 525.6 L152.7 525.6 L153.2 525.6 L153.7 525.6 L154.2 525.6 L154.2 525.6 L44.2 525.6Z" stroke="none" fill="#dcf5dc" stroke-width="1" opacity="0.75"/>
<path d="M44.2 543 L44.7 543 L45.2 543 L45.7 543 L46.2 543 L46.7 543 L47.2 543 L47.7 543 L48.2 543 L48.7 543 L49.2 543 L49.7 543 L50.2 543 L50.7 543 L51.2 543 L51.7 543 L52.2 543 L52.7 543 L53.2 543 L53.7 543 L54.2 543 L54.7 543 L55.2 543 L55.7 543 L56.2 543 L56.7 543 L57.2 543 L57.7 543 L58.2 543 L58.7 543 L59.2 543 L59.7 543 L60.2 543 L60.7 543 L61.2 543 L61.7 543 L62.2 543 L62.7 543 L63.2 543 L63.7 543 L64.2 543 L64.7 543 L65.2 543 L65.7 543 L66.2 543 L66.7 543 L67.2 543 L67.7 543 L68.2 543 L68.7 543 L69.2 543 L69.7 543 L70.2 543 L70.7 543 L71.2 543 L71.7 543 L72.2 543 L72.7 543 L73.2 543 L73.7 543 L74.2 543 L74.7 543 L75.2 543 L75.7 543 L76.2 543 L76.7 543 L77.2 543 L77.7 543 L78.2 543 L78.7 543 L79.2 543 L79.7 543 L80.2 543 L80.7 543 L81.2 543 L81.7 543 L82.2 543 L82.7 543 L83.2 543 L83.7 543 L84.2 543 L84.7 543 L85.2 543 L85.7 543 L86.2 543 L86.7 543 L87.2 543 L87.7 543 L88.2 543 L88.7 543 L89.2 543 L89.7 543 L90.2 543 L90.7 543 L91.2 543 L91.7 543 L92.2 543 L92.7 543 L93.2 543 L93.7 543 L94.2 543 L94.7 543 L95.2 543 L95.7 543 L96.2 543 L96.7 543 L97.2 543 L97.7 543 L98.2 543 L98.7 543 L99.2 543 L99.7 543 L100.2 543 L100.7 543 L101.2 543 L101.7 543 L102.2 543 L102.7 543 L103.2 543 L103.7 543 L104.2 543 L104.7 543 L105.2 543 L105.7 543 L106.2 543 L106.7 543 L107.2 543 L107.7 543 L108.2 543 L108.7 543 L109.2 543 L109.7 543 L110.2 543 L110.7 543 L111.2 543 L111.7 543 L112.2 543 L112.7 543 L113.2 543 L113.7 543 L114.2 543 L114.7 542.99 L115.2 542.99 L115.7 542.98 L116.2 542.98 L116.7 542.96 L117.2 542.95 L117.7 542.93 L118.2 542.9 L118.7 542.85 L119.2 542.8 L119.7 542.73 L120.2 542.64 L120.7 542.54 L121.2 542.4 L121.7 542.24 L122.2 542.06 L122.7 541.84 L123.2 541.6 L123.7 541.34 L124.2 541.05 L124.7 540.75 L125.2 540.44 L125.7 540.13 L126.2 539.82 L126.7 539.51 L127.2 539.19 L127.7 538.83 L128.2 538.37 L128.7 537.76 L129.2 536.9 L129.7 535.71 L130.2 534.08 L130.7 531.93 L131.2 529.23 L131.7 526.03 L132.2 522.54 L132.7 519.04 L133.2 515.93 L133.7 513.59 L134.2 512.36 L134.7 512.45 L135.2 513.78 L135.7 516.19 L136.2 519.43 L136.7 523.14 L137.2 526.97 L137.7 530.61 L138.2 533.82 L138.7 536.49 L139.2 538.58 L139.7 540.12 L140.2 541.21 L140.7 541.93 L141.2 542.39 L141.7 542.67 L142.2 542.83 L142.7 542.91 L143.2 542.96 L143.7 542.98 L144.2 542.99 L144.7 543 L145.2 543 L145.7 543 L146.2 543 L146.7 543 L147.2 543 L147.7 543 L148.2 543 L148.7 543 L149.2 543 L149.7 543 L150.2 543 L150.7 543 L151.2 543 L151.7 543 L152.2 543 L152.7 543 L153.2 543 L153.7 543 L154.2 543 L154.2 543 L44.2 543Z" stroke="none" fill="#e6def8" stroke-width="1" opacity="0.75"/>
<path d="M113 561.4 L113.5 561.4 L114 561.4 L114.5 561.4 L115 561.4 L115.5 561.4 L116 561.4 L116.5 561.4 L117 561.4 L117.5 561.4 L118 561.4 L118.5 561.4 L119 561.39 L119.5 561.37 L120 561.33 L120.5 561.25 L121 561.08 L121.5 560.76 L122 560.18 L122.5 559.22 L123 557.7 L123.5 555.48 L124 552.45 L124.5 548.6 L125 544.12 L125.5 539.35 L126 534.81 L126.5 531.1 L127 528.77 L127.5 528.18 L128 529 L128.5 530.93 L129 533.76 L129.5 537.19 L130 540.91 L130.5 544.61 L131 548.02 L131.5 550.98 L132 553.39 L132.5 555.23 L133 556.56 L133.5 557.45 L134 557.99 L134.5 558.31 L135 558.48 L135.5 558.58 L136 558.66 L136.5 558.74 L137 558.82 L137.5 558.9 L138 558.99 L138.5 559.1 L139 559.23 L139.5 559.36 L140 559.51 L140.5 559.67 L141 559.82 L141.5 559.98 L142 560.13 L142.5 560.28 L143 560.42 L143.5 560.56 L144 560.68 L144.5 560.79 L145 560.89 L145.5 560.97 L146 561.05 L146.5 561.11 L147 561.17 L147.5 561.22 L148 561.25 L148.5 561.29 L149 561.31 L149.5 561.33 L150 561.35 L150.5 561.36 L151 561.37 L151.5 561.38 L152 561.38 L152.5 561.39 L153 561.39 L153.5 561.39 L154 561.4 L154 561.4 L113 561.4Z" stroke="none" fill="#f5efd9" stroke-width="1" opacity="0.75"/>
<path d="M44.2 488.6 L44.7 488.6 L45.2 488.6 L45.7 488.6 L46.2 488.6 L46.7 488.6 L47.2 488.6 L47.7 488.6 L48.2 488.6 L48.7 488.6 L49.2 488.6 L49.7 488.6 L50.2 488.6 L50.7 488.6 L51.2 488.6 L51.7 488.6 L52.2 488.6 L52.7 488.6 L53.2 488.6 L53.7 488.6 L54.2 488.6 L54.7 488.6 L55.2 488.6 L55.7 488.6 L56.2 488.6 L56.7 488.6 L57.2 488.6 L57.7 488.6 L58.2 488.6 L58.7 488.6 L59.2 488.6 L59.7 488.6 L60.2 488.6 L60.7 488.6 L61.2 488.6 L61.7 488.6 L62.2 488.6 L62.7 488.6 L63.2 488.6 L63.7 488.6 L64.2 488.6 L64.7 488.6 L65.2 488.6 L65.7 488.6 L66.2 488.6 L66.7 488.6 L67.2 488.6 L67.7 488.6 L68.2 488.6 L68.7 488.6 L69.2 488.6 L69.7 488.6 L70.2 488.6 L70.7 488.6 L71.2 488.6 L71.7 488.6 L72.2 488.6 L72.7 488.6 L73.2 488.6 L73.7 488.6 L74.2 488.6 L74.7 488.6 L75.2 488.6 L75.7 488.6 L76.2 488.6 L76.7 488.6 L77.2 488.6 L77.7 488.6 L78.2 488.6 L78.7 488.6 L79.2 488.6 L79.7 488.6 L80.2 488.6 L80.7 488.6 L81.2 488.6 L81.7 488.6 L82.2 488.6 L82.7 488.6 L83.2 488.6 L83.7 488.6 L84.2 488.6 L84.7 488.6 L85.2 488.6 L85.7 488.6 L86.2 488.6 L86.7 488.6 L87.2 488.6 L87.7 488.6 L88.2 488.6 L88.7 488.6 L89.2 488.6 L89.7 488.6 L90.2 488.6 L90.7 488.6 L91.2 488.6 L91.7 488.6 L92.2 488.6 L92.7 488.6 L93.2 488.6 L93.7 488.6 L94.2 488.6 L94.7 488.6 L95.2 488.6 L95.7 488.6 L96.2 488.6 L96.7 488.6 L97.2 488.6 L97.7 488.6 L98.2 488.6 L98.7 488.6 L99.2 488.6 L99.7 488.6 L100.2 488.6 L100.7 488.6 L101.2 488.6 L101.7 488.6 L102.2 488.6 L102.7 488.6 L103.2 488.6 L103.7 488.6 L104.2 488.6 L104.7 488.6 L105.2 488.6 L105.7 488.6 L106.2 488.6 L106.7 488.6 L107.2 488.6 L107.7 488.6 L108.2 488.6 L108.7 488.6 L109.2 488.6 L109.7 488.6 L110.2 488.6 L110.7 488.59 L111.2 488.59 L111.7 488.58 L112.2 488.57 L112.7 488.56 L113.2 488.53 L113.7 488.5 L114.2 488.44 L114.7 488.37 L115.2 488.28 L115.7 488.15 L116.2 487.98 L116.7 487.76 L117.2 487.45 L117.7 487.04 L118.2 486.46 L118.7 485.66 L119.2 484.54 L119.7 483.01 L120.2 480.98 L120.7 478.38 L121.2 475.21 L121.7 471.55 L122.2 467.57 L122.7 463.58 L123.2 459.93 L123.7 457.01 L124.2 455.18 L124.7 454.67 L125.2 455.45 L125.7 457.37 L126.2 460.21 L126.7 463.72 L127.2 467.58 L127.7 471.48 L128.2 475.15 L128.7 478.42 L129.2 481.17 L129.7 483.38 L130.2 485.07 L130.7 486.32 L131.2 487.19 L131.7 487.78 L132.2 488.17 L132.7 488.42 L133.2 488.57 L133.7 488.67 L134.2 488.73 L134.7 488.77 L135.2 488.8 L135.7 488.82 L136.2 488.85 L136.7 488.87 L137.2 488.89 L137.7 488.91 L138.2 488.93 L138.7 488.95 L139.2 488.97 L139.7 488.99 L140.2 489.01 L140.7 489.03 L141.2 489.05 L141.7 489.07 L142.2 489.09 L142.7 489.11 L143.2 489.13 L143.7 489.15 L144.2 489.17 L144.7 489.19 L145.2 489.21 L145.7 489.23 L146.2 489.25 L146.7 489.27 L147.2 489.29 L147.7 489.31 L148.2 489.33 L148.7 489.35 L149.2 489.37 L149.7 489.39 L150.2 489.41 L150.7 489.43 L151.2 489.45 L151.7 489.47 L152.2 489.49 L152.7 489.51 L153.2 489.53 L153.7 489.55 L154.2 489.57" stroke="#3a3aff" fill="none" stroke-width="0.8"/>
<path d="M44.2 507.3 L44.7 507.3 L45.2 507.3 L45.7 507.3 L46.2 507.3 L46.7 507.3 L47.2 507.3 L47.7 507.3 L48.2 507.3 L48.7 507.3 L49.2 507.3 L49.7 507.3 L50.2 507.3 L50.7 507.3 L51.2 507.3 L51.7 507.3 L52.2 507.3 L52.7 507.3 L53.2 507.3 L53.7 507.3 L54.2 507.3 L54.7 507.3 L55.2 507.3 L55.7 507.3 L56.2 507.3 L56.7 507.3 L57.2 507.3 L57.7 507.3 L58.2 507.3 L58.7 507.3 L59.2 507.3 L59.7 507.3 L60.2 507.3 L60.7 507.3 L61.2 507.3 L61.7 507.3 L62.2 507.3 L62.7 507.3 L63.2 507.3 L63.7 507.3 L64.2 507.3 L64.7 507.3 L65.2 507.3 L65.7 507.3 L66.2 507.3 L66.7 507.3 L67.2 507.3 L67.7 507.3 L68.2 507.3 L68.7 507.3 L69.2 507.3 L69.7 507.3 L70.2 507.3 L70.7 507.3 L71.2 507.3 L71.7 507.3 L72.2 507.3 L72.7 507.3 L73.2 507.3 L73.7 507.3 L74.2 507.3 L74.7 507.3 L75.2 507.3 L75.7 507.3 L76.2 507.3 L76.7 507.3 L77.2 507.3 L77.7 507.3 L78.2 507.3 L78.7 507.3 L79.2 507.3 L79.7 507.3 L80.2 507.3 L80.7 507.3 L81.2 507.3 L81.7 507.3 L82.2 507.3 L82.7 507.3 L83.2 507.3 L83.7 507.3 L84.2 507.3 L84.7 507.3 L85.2 507.3 L85.7 507.3 L86.2 507.3 L86.7 507.3 L87.2 507.3 L87.7 507.3 L88.2 507.3 L88.7 507.3 L89.2 507.3 L89.7 507.3 L90.2 507.3 L90.7 507.3 L91.2 507.3 L91.7 507.3 L92.2 507.3 L92.7 507.3 L93.2 507.3 L93.7 507.3 L94.2 507.3 L94.7 507.3 L95.2 507.3 L95.7 507.3 L96.2 507.3 L96.7 507.3 L97.2 507.3 L97.7 507.3 L98.2 507.3 L98.7 507.3 L99.2 507.3 L99.7 507.3 L100.2 507.3 L100.7 507.3 L101.2 507.3 L101.7 507.3 L102.2 507.3 L102.7 507.3 L103.2 507.3 L103.7 507.3 L104.2 507.3 L104.7 507.3 L105.2 507.3 L105.7 507.3 L106.2 507.3 L106.7 507.3 L107.2 507.3 L107.7 507.3 L108.2 507.3 L108.7 507.3 L109.2 507.3 L109.7 507.3 L110.2 507.3 L110.7 507.3 L111.2 507.3 L111.7 507.3 L112.2 507.3 L112.7 507.3 L113.2 507.3 L113.7 507.3 L114.2 507.3 L114.7 507.3 L115.2 507.3 L115.7 507.3 L116.2 507.3 L116.7 507.3 L117.2 507.3 L117.7 507.3 L118.2 507.29 L118.7 507.28 L119.2 507.25 L119.7 507.2 L120.2 507.09 L120.7 506.87 L121.2 506.48 L121.7 505.82 L122.2 504.75 L122.7 503.14 L123.2 500.84 L123.7 497.78 L124.2 493.97 L124.7 489.56 L125.2 484.87 L125.7 480.36 L126.2 476.52 L126.7 473.87 L127.2 472.76 L127.7 472.99 L128.2 474.21 L128.7 476.3 L129.2 479.07 L129.7 482.28 L130.2 485.7 L130.7 489.11 L131.2 492.34 L131.7 495.22 L132.2 497.69 L132.7 499.74 L133.2 501.38 L133.7 502.67 L134.2 503.66 L134.7 504.43 L135.2 505.01 L135.7 505.46 L136.2 505.82 L136.7 506.11 L137.2 506.34 L137.7 506.53 L138.2 506.69 L138.7 506.82 L139.2 506.93 L139.7 507.02 L140.2 507.09 L140.7 507.14 L141.2 507.18 L141.7 507.22 L142.2 507.24 L142.7 507.26 L143.2 507.27 L143.7 507.28 L144.2 507.29 L144.7 507.29 L145.2 507.29 L145.7 507.3 L146.2 507.3 L146.7 507.3 L147.2 507.3 L147.7 507.3 L148.2 507.3 L148.7 507.3 L149.2 507.3 L149.7 507.3 L150.2 507.3 L150.7 507.3 L151.2 507.3 L151.7 507.3 L152.2 507.3 L152.7 507.3 L153.2 507.3 L153.7 507.3 L154.2 507.3" stroke="#ff3a3a" fill="none" stroke-width="0.8"/>
<path d="M44.2 525.6 L44.7 525.6 L45.2 525.6 L45.7 525.6 L46.2 525.6 L46.7 525.6 L47.2 525.6 L47.7 525.6 L48.2 525.6 L48.7 525.6 L49.2 525.6 L49.7 525.6 L50.2 525.6 L50.7 525.6 L51.2 525.6 L51.7 525.6 L52.2 525.6 L52.7 525.6 L53.2 525.6 L53.7 525.6 L54.2 525.6 L54.7 525.6 L55.2 525.6 L55.7 525.6 L56.2 525.6 L56.7 525.6 L57.2 525.6 L57.7 525.6 L58.2 525.6 L58.7 525.6 L59.2 525.6 L59.7 525.6 L60.2 525.6 L60.7 525.6 L61.2 525.6 L61.7 525.6 L62.2 525.6 L62.7 525.6 L63.2 525.6 L63.7 525.6 L64.2 525.6 L64.7 525.6 L65.2 525.6 L65.7 525.6 L66.2 525.6 L66.7 525.6 L67.2 525.6 L67.7 525.6 L68.2 525.6 L68.7 525.6 L69.2 525.6 L69.7 525.6 L70.2 525.6 L70.7 525.6 L71.2 525.6 L71.7 525.6 L72.2 525.6 L72.7 525.6 L73.2 525.6 L73.7 525.6 L74.2 525.6 L74.7 525.6 L75.2 525.6 L75.7 525.6 L76.2 525.6 L76.7 525.6 L77.2 525.6 L77.7 525.6 L78.2 525.6 L78.7 525.6 L79.2 525.6 L79.7 525.6 L80.2 525.6 L80.7 525.6 L81.2 525.6 L81.7 525.6 L82.2 525.6 L82.7 525.6 L83.2 525.6 L83.7 525.6 L84.2 525.6 L84.7 525.6 L85.2 525.6 L85.7 525.6 L86.2 525.6 L86.7 525.6 L87.2 525.6 L87.7 525.6 L88.2 525.6 L88.7 525.6 L89.2 525.6 L89.7 525.6 L90.2 525.6 L90.7 525.6 L91.2 525.6 L91.7 525.6 L92.2 525.6 L92.7 525.6 L93.2 525.6 L93.7 525.6 L94.2 525.6 L94.7 525.6 L95.2 525.6 L95.7 525.6 L96.2 525.6 L96.7 525.6 L97.2 525.6 L97.7 525.6 L98.2 525.6 L98.7 525.6 L99.2 525.6 L99.7 525.6 L100.2 525.6 L100.7 525.6 L101.2 525.6 L101.7 525.6 L102.2 525.6 L102.7 525.6 L103.2 525.6 L103.7 525.6 L104.2 525.6 L104.7 525.6 L105.2 525.6 L105.7 525.6 L106.2 525.6 L106.7 525.6 L107.2 525.6 L107.7 525.6 L108.2 525.6 L108.7 525.6 L109.2 525.6 L109.7 525.6 L110.2 525.6 L110.7 525.6 L111.2 525.6 L111.7 525.6 L112.2 525.6 L112.7 525.6 L113.2 525.6 L113.7 525.6 L114.2 525.6 L114.7 525.6 L115.2 525.6 L115.7 525.6 L116.2 525.6 L116.7 525.6 L117.2 525.6 L117.7 525.59 L118.2 525.58 L118.7 525.55 L119.2 525.5 L119.7 525.41 L120.2 525.23 L120.7 524.93 L121.2 524.43 L121.7 523.63 L122.2 522.44 L122.7 520.74 L123.2 518.45 L123.7 515.52 L124.2 512 L124.7 508.02 L125.2 503.84 L125.7 499.79 L126.2 496.29 L126.7 493.7 L127.2 492.33 L127.7 492.26 L128.2 493.22 L128.7 495.08 L129.2 497.64 L129.7 500.68 L130.2 503.97 L130.7 507.26 L131.2 510.37 L131.7 513.18 L132.2 515.6 L132.7 517.61 L133.2 519.24 L133.7 520.5 L134.2 521.44 L134.7 522.14 L135.2 522.65 L135.7 523.03 L136.2 523.33 L136.7 523.57 L137.2 523.77 L137.7 523.95 L138.2 524.12 L138.7 524.29 L139.2 524.44 L139.7 524.58 L140.2 524.71 L140.7 524.84 L141.2 524.95 L141.7 525.05 L142.2 525.14 L142.7 525.22 L143.2 525.29 L143.7 525.35 L144.2 525.4 L144.7 525.44 L145.2 525.47 L145.7 525.5 L146.2 525.52 L146.7 525.54 L147.2 525.56 L147.7 525.57 L148.2 525.58 L148.7 525.58 L149.2 525.59 L149.7 525.59 L150.2 525.59 L150.7 525.6 L151.2 525.6 L151.7 525.6 L152.2 525.6 L152.7 525.6 L153.2 525.6 L153.7 525.6 L154.2 525.6" stroke="#2fbf3f" fill="none" stroke-width="0.8"/>
<path d="M44.2 543 L44.7 543 L45.2 543 L45.7 543 L46.2 543 L46.7 543 L47.2 543 L47.7 543 L48.2 543 L48.7 543 L49.2 543 L49.7 543 L50.2 543 L50.7 543 L51.2 543 L51.7 543 L52.2 543 L52.7 543 L53.2 543 L53.7 543 L54.2 543 L54.7 543 L55.2 543 L55.7 543 L56.2 543 L56.7 543 L57.2 543 L57.7 543 L58.2 543 L58.7 543 L59.2 543 L59.7 543 L60.2 543 L60.7 543 L61.2 543 L61.7 543 L62.2 543 L62.7 543 L63.2 543 L63.7 543 L64.2 543 L64.7 543 L65.2 543 L65.7 543 L66.2 543 L66.7 543 L67.2 543 L67.7 543 L68.2 543 L68.7 543 L69.2 543 L69.7 543 L70.2 543 L70.7 543 L71.2 543 L71.7 543 L72.2 543 L72.7 543 L73.2 543 L73.7 543 L74.2 543 L74.7 543 L75.2 543 L75.7 543 L76.2 543 L76.7 543 L77.2 543 L77.7 543 L78.2 543 L78.7 543 L79.2 543 L79.7 543 L80.2 543 L80.7 543 L81.2 543 L81.7 543 L82.2 543 L82.7 543 L83.2 543 L83.7 543 L84.2 543 L84.7 543 L85.2 543 L85.7 543 L86.2 543 L86.7 543 L87.2 543 L87.7 543 L88.2 543 L88.7 543 L89.2 543 L89.7 543 L90.2 543 L90.7 543 L91.2 543 L91.7 543 L92.2 543 L92.7 543 L93.2 543 L93.7 543 L94.2 543 L94.7 543 L95.2 543 L95.7 543 L96.2 543 L96.7 543 L97.2 543 L97.7 543 L98.2 543 L98.7 543 L99.2 543 L99.7 543 L100.2 543 L100.7 543 L101.2 543 L101.7 543 L102.2 543 L102.7 543 L103.2 543 L103.7 543 L104.2 543 L104.7 543 L105.2 543 L105.7 543 L106.2 543 L106.7 543 L107.2 543 L107.7 543 L108.2 543 L108.7 543 L109.2 543 L109.7 543 L110.2 543 L110.7 543 L111.2 543 L111.7 543 L112.2 543 L112.7 543 L113.2 543 L113.7 543 L114.2 543 L114.7 542.99 L115.2 542.99 L115.7 542.98 L116.2 542.98 L116.7 542.96 L117.2 542.95 L117.7 542.93 L118.2 542.9 L118.7 542.85 L119.2 542.8 L119.7 542.73 L120.2 542.64 L120.7 542.54 L121.2 542.4 L121.7 542.24 L122.2 542.06 L122.7 541.84 L123.2 541.6 L123.7 541.34 L124.2 541.05 L124.7 540.75 L125.2 540.44 L125.7 540.13 L126.2 539.82 L126.7 539.51 L127.2 539.19 L127.7 538.83 L128.2 538.37 L128.7 537.76 L129.2 536.9 L129.7 535.71 L130.2 534.08 L130.7 531.93 L131.2 529.23 L131.7 526.03 L132.2 522.54 L132.7 519.04 L133.2 515.93 L133.7 513.59 L134.2 512.36 L134.7 512.45 L135.2 513.78 L135.7 516.19 L136.2 519.43 L136.7 523.14 L137.2 526.97 L137.7 530.61 L138.2 533.82 L138.7 536.49 L139.2 538.58 L139.7 540.12 L140.2 541.21 L140.7 541.93 L141.2 542.39 L141.7 542.67 L142.2 542.83 L142.7 542.91 L143.2 542.96 L143.7 542.98 L144.2 542.99 L144.7 543 L145.2 543 L145.7 543 L146.2 543 L146.7 543 L147.2 543 L147.7 543 L148.2 543 L148.7 543 L149.2 543 L149.7 543 L150.2 543 L150.7 543 L151.2 543 L151.7 543 L152.2 543 L152.7 543 L153.2 543 L153.7 543 L154.2 543" stroke="#6a3fc8" fill="none" stroke-width="0.8"/>
<path d="M113 561.4 L113.5 561.4 L114 561.4 L114.5 561.4 L115 561.4 L115.5 561.4 L116 561.4 L116.5 561.4 L117 561.4 L117.5 561.4 L118 561.4 L118.5 561.4 L119 561.39 L119.5 561.37 L120 561.33 L120.5 561.25 L121 561.08 L121.5 560.76 L122 560.18 L122.5 559.22 L123 557.7 L123.5 555.48 L124 552.45 L124.5 548.6 L125 544.12 L125.5 539.35 L126 534.81 L126.5 531.1 L127 528.77 L127.5 528.18 L128 529 L128.5 530.93 L129 533.76 L129.5 537.19 L130 540.91 L130.5 544.61 L131 548.02 L131.5 550.98 L132 553.39 L132.5 555.23 L133 556.56 L133.5 557.45 L134 557.99 L134.5 558.31 L135 558.48 L135.5 558.58 L136 558.66 L136.5 558.74 L137 558.82 L137.5 558.9 L138 558.99 L138.5 559.1 L139 559.23 L139.5 559.36 L140 559.51 L140.5 559.67 L141 559.82 L141.5 559.98 L142 560.13 L142.5 560.28 L143 560.42 L143.5 560.56 L144 560.68 L144.5 560.79 L145 560.89 L145.5 560.97 L146 561.05 L146.5 561.11 L147 561.17 L147.5 561.22 L148 561.25 L148.5 561.29 L149 561.31 L149.5 561.33 L150 561.35 L150.5 561.36 L151 561.37 L151.5 561.38 L152 561.38 L152.5 561.39 L153 561.39 L153.5 561.39 L154 561.4" stroke="#c08a2a" fill="none" stroke-width="0.8"/>
<rect x="44.8" y="452.8" width="79.2" height="41.2" fill="#fff" opacity="0.8"/>
<rect x="46.8" y="454.8" width="13.2" height="3.8" rx="0.9" fill="#dcdcff" stroke="#3a3aff" stroke-width="0.7"/>
<text x="63.4" y="458.8" font-size="6.1" fill="#222">DMSO</text>
<rect x="46.8" y="463.45" width="13.2" height="3.8" rx="0.9" fill="#ffe0e0" stroke="#ff3a3a" stroke-width="0.7"/>
<text x="63.4" y="467.45" font-size="6.1" fill="#222">Erastin</text>
<rect x="46.8" y="472.1" width="13.2" height="3.8" rx="0.9" fill="#dcf5dc" stroke="#2fbf3f" stroke-width="0.7"/>
<text x="63.4" y="476.1" font-size="6.1" fill="#222">shCtrl+Erastin</text>
<rect x="46.8" y="480.75" width="13.2" height="3.8" rx="0.9" fill="#e6def8" stroke="#6a3fc8" stroke-width="0.7"/>
<text x="63.4" y="484.75" font-size="6.1" fill="#222">shSPI1+Erastin</text>
<rect x="46.8" y="489.4" width="13.2" height="3.8" rx="0.9" fill="#f5efd9" stroke="#c08a2a" stroke-width="0.7"/>
<text x="63.4" y="493.4" font-size="6.1" fill="#222">shSPI1+Erastin+Fer-1</text>
<rect x="44.2" y="452.2" width="110.2" height="109.2" fill="none" stroke="#333" stroke-width="0.8"/>
<line x1="42" y1="561.4" x2="44.2" y2="561.4" stroke="#333" stroke-width="0.6"/>
<text font-size="6.2" text-anchor="middle" fill="#222" transform="translate(37.5 561.4) rotate(-90)" x="0" y="0">0</text>
<line x1="43.1" y1="556.4" x2="44.2" y2="556.4" stroke="#333" stroke-width="0.6"/>
<line x1="43.1" y1="551.4" x2="44.2" y2="551.4" stroke="#333" stroke-width="0.6"/>
<line x1="43.1" y1="546.4" x2="44.2" y2="546.4" stroke="#333" stroke-width="0.6"/>
<line x1="42" y1="541.4" x2="44.2" y2="541.4" stroke="#333" stroke-width="0.6"/>
<text font-size="6.2" text-anchor="middle" fill="#222" transform="translate(37.5 541.4) rotate(-90)" x="0" y="0">20</text>
<line x1="43.1" y1="536.4" x2="44.2" y2="536.4" stroke="#333" stroke-width="0.6"/>
<line x1="43.1" y1="531.4" x2="44.2" y2="531.4" stroke="#333" stroke-width="0.6"/>
<line x1="43.1" y1="526.4" x2="44.2" y2="526.4" stroke="#333" stroke-width="0.6"/>
<line x1="42" y1="521.4" x2="44.2" y2="521.4" stroke="#333" stroke-width="0.6"/>
<text font-size="6.2" text-anchor="middle" fill="#222" transform="translate(37.5 521.4) rotate(-90)" x="0" y="0">40</text>
<line x1="43.1" y1="516.4" x2="44.2" y2="516.4" stroke="#333" stroke-width="0.6"/>
<line x1="43.1" y1="511.4" x2="44.2" y2="511.4" stroke="#333" stroke-width="0.6"/>
<line x1="43.1" y1="506.4" x2="44.2" y2="506.4" stroke="#333" stroke-width="0.6"/>
<line x1="42" y1="501.4" x2="44.2" y2="501.4" stroke="#333" stroke-width="0.6"/>
<text font-size="6.2" text-anchor="middle" fill="#222" transform="translate(37.5 501.4) rotate(-90)" x="0" y="0">60</text>
<line x1="43.1" y1="496.4" x2="44.2" y2="496.4" stroke="#333" stroke-width="0.6"/>
<line x1="43.1" y1="491.4" x2="44.2" y2="491.4" stroke="#333" stroke-width="0.6"/>
<line x1="43.1" y1="486.4" x2="44.2" y2="486.4" stroke="#333" stroke-width="0.6"/>
<line x1="42" y1="481.4" x2="44.2" y2="481.4" stroke="#333" stroke-width="0.6"/>
<text font-size="6.2" text-anchor="middle" fill="#222" transform="translate(37.5 481.4) rotate(-90)" x="0" y="0">80</text>
<line x1="43.1" y1="476.4" x2="44.2" y2="476.4" stroke="#333" stroke-width="0.6"/>
<line x1="43.1" y1="471.4" x2="44.2" y2="471.4" stroke="#333" stroke-width="0.6"/>
<line x1="43.1" y1="466.4" x2="44.2" y2="466.4" stroke="#333" stroke-width="0.6"/>
<line x1="42" y1="461.4" x2="44.2" y2="461.4" stroke="#333" stroke-width="0.6"/>
<text font-size="6.2" text-anchor="middle" fill="#222" transform="translate(37.5 461.4) rotate(-90)" x="0" y="0">100</text>
<text font-size="6.1" text-anchor="middle" fill="#222" transform="translate(30 506.8) rotate(-90)" x="0" y="0">Count  (%)</text>
<line x1="44.2" y1="561.4" x2="44.2" y2="563.4" stroke="#333" stroke-width="0.6"/>
<text font-size="6.1" fill="#222" x="40.4" y="571.8">10<tspan font-size="4.8" dy="-3.0">1.1</tspan></text>
<line x1="48.63" y1="561.4" x2="48.63" y2="562.4" stroke="#333" stroke-width="0.6"/>
<line x1="52.51" y1="561.4" x2="52.51" y2="562.4" stroke="#333" stroke-width="0.6"/>
<line x1="55.27" y1="561.4" x2="55.27" y2="562.4" stroke="#333" stroke-width="0.6"/>
<line x1="57.4" y1="561.4" x2="57.4" y2="562.4" stroke="#333" stroke-width="0.6"/>
<line x1="59.15" y1="561.4" x2="59.15" y2="562.4" stroke="#333" stroke-width="0.6"/>
<line x1="60.62" y1="561.4" x2="60.62" y2="562.4" stroke="#333" stroke-width="0.6"/>
<line x1="61.9" y1="561.4" x2="61.9" y2="562.4" stroke="#333" stroke-width="0.6"/>
<line x1="63.03" y1="561.4" x2="63.03" y2="562.4" stroke="#333" stroke-width="0.6"/>
<line x1="64.04" y1="561.4" x2="64.04" y2="563.4" stroke="#333" stroke-width="0.6"/>
<text font-size="6.1" fill="#222" x="60.24" y="571.8">10<tspan font-size="4.8" dy="-3.0">2</tspan></text>
<line x1="70.67" y1="561.4" x2="70.67" y2="562.4" stroke="#333" stroke-width="0.6"/>
<line x1="74.55" y1="561.4" x2="74.55" y2="562.4" stroke="#333" stroke-width="0.6"/>
<line x1="77.31" y1="561.4" x2="77.31" y2="562.4" stroke="#333" stroke-width="0.6"/>
<line x1="79.44" y1="561.4" x2="79.44" y2="562.4" stroke="#333" stroke-width="0.6"/>
<line x1="81.19" y1="561.4" x2="81.19" y2="562.4" stroke="#333" stroke-width="0.6"/>
<line x1="82.66" y1="561.4" x2="82.66" y2="562.4" stroke="#333" stroke-width="0.6"/>
<line x1="83.94" y1="561.4" x2="83.94" y2="562.4" stroke="#333" stroke-width="0.6"/>
<line x1="85.07" y1="561.4" x2="85.07" y2="562.4" stroke="#333" stroke-width="0.6"/>
<line x1="86.08" y1="561.4" x2="86.08" y2="563.4" stroke="#333" stroke-width="0.6"/>
<text font-size="6.1" fill="#222" x="82.28" y="571.8">10<tspan font-size="4.8" dy="-3.0">3</tspan></text>
<line x1="92.71" y1="561.4" x2="92.71" y2="562.4" stroke="#333" stroke-width="0.6"/>
<line x1="96.59" y1="561.4" x2="96.59" y2="562.4" stroke="#333" stroke-width="0.6"/>
<line x1="99.35" y1="561.4" x2="99.35" y2="562.4" stroke="#333" stroke-width="0.6"/>
<line x1="101.48" y1="561.4" x2="101.48" y2="562.4" stroke="#333" stroke-width="0.6"/>
<line x1="103.23" y1="561.4" x2="103.23" y2="562.4" stroke="#333" stroke-width="0.6"/>
<line x1="104.7" y1="561.4" x2="104.7" y2="562.4" stroke="#333" stroke-width="0.6"/>
<line x1="105.98" y1="561.4" x2="105.98" y2="562.4" stroke="#333" stroke-width="0.6"/>
<line x1="107.11" y1="561.4" x2="107.11" y2="562.4" stroke="#333" stroke-width="0.6"/>
<line x1="108.12" y1="561.4" x2="108.12" y2="563.4" stroke="#333" stroke-width="0.6"/>
<text font-size="6.1" fill="#222" x="104.32" y="571.8">10<tspan font-size="4.8" dy="-3.0">4</tspan></text>
<line x1="114.75" y1="561.4" x2="114.75" y2="562.4" stroke="#333" stroke-width="0.6"/>
<line x1="118.63" y1="561.4" x2="118.63" y2="562.4" stroke="#333" stroke-width="0.6"/>
<line x1="121.39" y1="561.4" x2="121.39" y2="562.4" stroke="#333" stroke-width="0.6"/>
<line x1="123.52" y1="561.4" x2="123.52" y2="562.4" stroke="#333" stroke-width="0.6"/>
<line x1="125.27" y1="561.4" x2="125.27" y2="562.4" stroke="#333" stroke-width="0.6"/>
<line x1="126.74" y1="561.4" x2="126.74" y2="562.4" stroke="#333" stroke-width="0.6"/>
<line x1="128.02" y1="561.4" x2="128.02" y2="562.4" stroke="#333" stroke-width="0.6"/>
<line x1="129.15" y1="561.4" x2="129.15" y2="562.4" stroke="#333" stroke-width="0.6"/>
<line x1="130.16" y1="561.4" x2="130.16" y2="563.4" stroke="#333" stroke-width="0.6"/>
<text font-size="6.1" fill="#222" x="126.36" y="571.8">10<tspan font-size="4.8" dy="-3.0">5</tspan></text>
<line x1="136.79" y1="561.4" x2="136.79" y2="562.4" stroke="#333" stroke-width="0.6"/>
<line x1="140.67" y1="561.4" x2="140.67" y2="562.4" stroke="#333" stroke-width="0.6"/>
<line x1="143.43" y1="561.4" x2="143.43" y2="562.4" stroke="#333" stroke-width="0.6"/>
<line x1="145.56" y1="561.4" x2="145.56" y2="562.4" stroke="#333" stroke-width="0.6"/>
<line x1="147.31" y1="561.4" x2="147.31" y2="562.4" stroke="#333" stroke-width="0.6"/>
<line x1="148.78" y1="561.4" x2="148.78" y2="562.4" stroke="#333" stroke-width="0.6"/>
<line x1="150.06" y1="561.4" x2="150.06" y2="562.4" stroke="#333" stroke-width="0.6"/>
<line x1="151.19" y1="561.4" x2="151.19" y2="562.4" stroke="#333" stroke-width="0.6"/>
<line x1="152.2" y1="561.4" x2="152.2" y2="563.4" stroke="#333" stroke-width="0.6"/>
<line x1="154.4" y1="561.4" x2="154.4" y2="563.4" stroke="#333" stroke-width="0.6"/>
<text font-size="6.1" fill="#222" x="146.8" y="571.8">10<tspan font-size="4.8" dy="-3.0">6.1</tspan></text>
<text x="99.3" y="581.76" font-size="6" text-anchor="middle" fill="#222">FITC-H</text>
<text font-size="25.36" stroke="#000" stroke-width="0.55" stroke-linejoin="round" transform="translate(346.81 443.62) scale(0.92 1)" x="0" y="0">I</text>
<path d="M385 489.4 L385.5 489.4 L386 489.4 L386.5 489.4 L387 489.4 L387.5 489.4 L388 489.4 L388.5 489.4 L389 489.4 L389.5 489.4 L390 489.4 L390.5 489.4 L391 489.4 L391.5 489.4 L392 489.4 L392.5 489.4 L393 489.4 L393.5 489.4 L394 489.4 L394.5 489.4 L395 489.4 L395.5 489.4 L396 489.4 L396.5 489.4 L397 489.4 L397.5 489.4 L398 489.4 L398.5 489.4 L399 489.4 L399.5 489.4 L400 489.4 L400.5 489.4 L401 489.4 L401.5 489.4 L402 489.4 L402.5 489.4 L403 489.4 L403.5 489.4 L404 489.4 L404.5 489.4 L405 489.4 L405.5 489.4 L406 489.4 L406.5 489.4 L407 489.4 L407.5 489.4 L408 489.4 L408.5 489.4 L409 489.4 L409.5 489.4 L410 489.4 L410.5 489.4 L411 489.4 L411.5 489.4 L412 489.4 L412.5 489.4 L413 489.4 L413.5 489.4 L414 489.4 L414.5 489.4 L415 489.4 L415.5 489.4 L416 489.4 L416.5 489.4 L417 489.4 L417.5 489.4 L418 489.4 L418.5 489.4 L419 489.4 L419.5 489.4 L420 489.4 L420.5 489.4 L421 489.4 L421.5 489.4 L422 489.4 L422.5 489.4 L423 489.4 L423.5 489.4 L424 489.4 L424.5 489.4 L425 489.4 L425.5 489.4 L426 489.4 L426.5 489.39 L427 489.39 L427.5 489.39 L428 489.38 L428.5 489.37 L429 489.36 L429.5 489.34 L430 489.31 L430.5 489.27 L431 489.22 L431.5 489.16 L432 489.08 L432.5 488.98 L433 488.86 L433.5 488.71 L434 488.53 L434.5 488.33 L435 488.1 L435.5 487.84 L436 487.56 L436.5 487.27 L437 486.96 L437.5 486.64 L438 486.32 L438.5 486.01 L439 485.7 L439.5 485.38 L440 485.04 L440.5 484.66 L441 484.19 L441.5 483.63 L442 482.93 L442.5 482.03 L443 480.85 L443.5 479.34 L444 477.45 L444.5 475.18 L445 472.56 L445.5 469.7 L446 466.73 L446.5 463.82 L447 461.18 L447.5 459.02 L448 457.51 L448.5 456.8 L449 456.9 L449.5 457.62 L450 458.91 L450.5 460.69 L451 462.88 L451.5 465.37 L452 468.04 L452.5 470.78 L453 473.47 L453.5 476.04 L454 478.4 L454.5 480.52 L455 482.37 L455.5 483.94 L456 485.24 L456.5 486.29 L457 487.12 L457.5 487.76 L458 488.24 L458.5 488.6 L459 488.86 L459.5 489.04 L460 489.16 L460.5 489.25 L461 489.31 L461.5 489.34 L462 489.36 L462.5 489.38 L463 489.39 L463.5 489.39 L464 489.4 L464.5 489.4 L465 489.4 L465.5 489.4 L466 489.4 L466.5 489.4 L467 489.4 L467.5 489.4 L468 489.4 L468.5 489.4 L469 489.4 L469.5 489.4 L470 489.4 L470.5 489.4 L471 489.4 L471.5 489.4 L472 489.4 L472.5 489.4 L473 489.4 L473.5 489.4 L474 489.4 L474.5 489.4 L475 489.4 L475.5 489.4 L476 489.4 L476.5 489.4 L477 489.4 L477.5 489.4 L478 489.4 L478.5 489.4 L479 489.4 L479.5 489.4 L480 489.4 L480.5 489.4 L481 489.4 L481.5 489.4 L482 489.4 L482.5 489.4 L483 489.4 L483.5 489.4 L484 489.4 L484.5 489.4 L485 489.4 L485.5 489.4 L486 489.4 L486.5 489.4 L487 489.4 L487.5 489.4 L488 489.4 L488.5 489.4 L489 489.4 L489.5 489.4 L490 489.4 L490.5 489.4 L491 489.4 L491.5 489.4 L492 489.4 L492.5 489.4 L493 489.4 L493.5 489.4 L494 489.4 L494.5 489.4 L494.5 489.4 L385 489.4Z" stroke="none" fill="#dcdcff" stroke-width="1" opacity="0.75"/>
<path d="M385 507 L385.5 507 L386 507 L386.5 507 L387 507 L387.5 507 L388 507 L388.5 507 L389 507 L389.5 507 L390 507 L390.5 507 L391 507 L391.5 507 L392 507 L392.5 507 L393 507 L393.5 507 L394 507 L394.5 507 L395 507 L395.5 507 L396 507 L396.5 507 L397 507 L397.5 507 L398 507 L398.5 507 L399 507 L399.5 507 L400 507 L400.5 507 L401 507 L401.5 507 L402 507 L402.5 507 L403 507 L403.5 507 L404 507 L404.5 507 L405 507 L405.5 507 L406 507 L406.5 507 L407 507 L407.5 507 L408 507 L408.5 507 L409 507 L409.5 507 L410 507 L410.5 506.99 L411 506.99 L411.5 506.99 L412 506.98 L412.5 506.98 L413 506.97 L413.5 506.96 L414 506.95 L414.5 506.93 L415 506.91 L415.5 506.89 L416 506.86 L416.5 506.82 L417 506.78 L417.5 506.74 L418 506.68 L418.5 506.62 L419 506.56 L419.5 506.48 L420 506.4 L420.5 506.31 L421 506.22 L421.5 506.13 L422 506.03 L422.5 505.93 L423 505.84 L423.5 505.75 L424 505.66 L424.5 505.59 L425 505.52 L425.5 505.47 L426 505.43 L426.5 505.41 L427 505.4 L427.5 505.41 L428 505.43 L428.5 505.47 L429 505.52 L429.5 505.59 L430 505.66 L430.5 505.74 L431 505.83 L431.5 505.92 L432 506.02 L432.5 506.11 L433 506.19 L433.5 506.27 L434 506.34 L434.5 506.4 L435 506.44 L435.5 506.47 L436 506.48 L436.5 506.46 L437 506.43 L437.5 506.38 L438 506.3 L438.5 506.19 L439 506.07 L439.5 505.92 L440 505.75 L440.5 505.57 L441 505.38 L441.5 505.19 L442 504.99 L442.5 504.78 L443 504.58 L443.5 504.37 L444 504.13 L444.5 503.85 L445 503.48 L445.5 503 L446 502.33 L446.5 501.42 L447 500.21 L447.5 498.65 L448 496.7 L448.5 494.37 L449 491.69 L449.5 488.75 L450 485.71 L450.5 482.74 L451 480.05 L451.5 477.85 L452 476.33 L452.5 475.63 L453 475.74 L453.5 476.41 L454 477.56 L454.5 479.13 L455 481.07 L455.5 483.29 L456 485.68 L456.5 488.16 L457 490.63 L457.5 493.02 L458 495.27 L458.5 497.32 L459 499.15 L459.5 500.74 L460 502.1 L460.5 503.23 L461 504.15 L461.5 504.88 L462 505.45 L462.5 505.89 L463 506.21 L463.5 506.45 L464 506.63 L464.5 506.75 L465 506.84 L465.5 506.89 L466 506.93 L466.5 506.96 L467 506.97 L467.5 506.98 L468 506.99 L468.5 506.99 L469 507 L469.5 507 L470 507 L470.5 507 L471 507 L471.5 507 L472 507 L472.5 507 L473 507 L473.5 507 L474 507 L474.5 507 L475 507 L475.5 507 L476 507 L476.5 507 L477 507 L477.5 507 L478 507 L478.5 507 L479 507 L479.5 507 L480 507 L480.5 507 L481 507 L481.5 507 L482 507 L482.5 507 L483 507 L483.5 507 L484 507 L484.5 507 L485 507 L485.5 507 L486 507 L486.5 507 L487 507 L487.5 507 L488 507 L488.5 507 L489 507 L489.5 507 L490 507 L490.5 507 L491 507 L491.5 507 L492 507 L492.5 507 L493 507 L493.5 507 L494 507 L494.5 507 L494.5 507 L385 507Z" stroke="none" fill="#ffe0e0" stroke-width="1" opacity="0.75"/>
<path d="M385 525.3 L385.5 525.3 L386 525.3 L386.5 525.3 L387 525.3 L387.5 525.3 L388 525.3 L388.5 525.3 L389 525.3 L389.5 525.3 L390 525.3 L390.5 525.3 L391 525.3 L391.5 525.3 L392 525.3 L392.5 525.3 L393 525.3 L393.5 525.3 L394 525.3 L394.5 525.3 L395 525.3 L395.5 525.3 L396 525.3 L396.5 525.3 L397 525.3 L397.5 525.3 L398 525.3 L398.5 525.3 L399 525.3 L399.5 525.3 L400 525.3 L400.5 525.3 L401 525.3 L401.5 525.3 L402 525.3 L402.5 525.3 L403 525.3 L403.5 525.3 L404 525.3 L404.5 525.3 L405 525.3 L405.5 525.3 L406 525.3 L406.5 525.3 L407 525.3 L407.5 525.3 L408 525.3 L408.5 525.3 L409 525.3 L409.5 525.3 L410 525.3 L410.5 525.3 L411 525.3 L411.5 525.3 L412 525.3 L412.5 525.3 L413 525.3 L413.5 525.3 L414 525.3 L414.5 525.3 L415 525.3 L415.5 525.3 L416 525.3 L416.5 525.3 L417 525.3 L417.5 525.29 L418 525.29 L418.5 525.29 L419 525.28 L419.5 525.27 L420 525.26 L420.5 525.24 L421 525.22 L421.5 525.19 L422 525.16 L422.5 525.11 L423 525.06 L423.5 525 L424 524.92 L424.5 524.83 L425 524.74 L425.5 524.63 L426 524.51 L426.5 524.39 L427 524.27 L427.5 524.14 L428 524.02 L428.5 523.91 L429 523.8 L429.5 523.72 L430 523.64 L430.5 523.59 L431 523.55 L431.5 523.53 L432 523.52 L432.5 523.52 L433 523.52 L433.5 523.53 L434 523.53 L434.5 523.52 L435 523.49 L435.5 523.44 L436 523.36 L436.5 523.26 L437 523.13 L437.5 522.97 L438 522.79 L438.5 522.59 L439 522.37 L439.5 522.15 L440 521.92 L440.5 521.69 L441 521.48 L441.5 521.28 L442 521.11 L442.5 520.96 L443 520.85 L443.5 520.75 L444 520.68 L444.5 520.62 L445 520.56 L445.5 520.46 L446 520.24 L446.5 519.85 L447 519.19 L447.5 518.17 L448 516.72 L448.5 514.77 L449 512.34 L449.5 509.48 L450 506.34 L450.5 503.13 L451 500.1 L451.5 497.56 L452 495.76 L452.5 494.92 L453 495.04 L453.5 495.69 L454 496.81 L454.5 498.34 L455 500.22 L455.5 502.36 L456 504.67 L456.5 507.07 L457 509.46 L457.5 511.78 L458 513.95 L458.5 515.93 L459 517.71 L459.5 519.25 L460 520.56 L460.5 521.65 L461 522.54 L461.5 523.25 L462 523.8 L462.5 524.22 L463 524.54 L463.5 524.77 L464 524.94 L464.5 525.06 L465 525.14 L465.5 525.2 L466 525.23 L466.5 525.26 L467 525.27 L467.5 525.28 L468 525.29 L468.5 525.29 L469 525.3 L469.5 525.3 L470 525.3 L470.5 525.3 L471 525.3 L471.5 525.3 L472 525.3 L472.5 525.3 L473 525.3 L473.5 525.3 L474 525.3 L474.5 525.3 L475 525.3 L475.5 525.3 L476 525.3 L476.5 525.3 L477 525.3 L477.5 525.3 L478 525.3 L478.5 525.3 L479 525.3 L479.5 525.3 L480 525.3 L480.5 525.3 L481 525.3 L481.5 525.3 L482 525.3 L482.5 525.3 L483 525.3 L483.5 525.3 L484 525.3 L484.5 525.3 L485 525.3 L485.5 525.3 L486 525.3 L486.5 525.3 L487 525.3 L487.5 525.3 L488 525.3 L488.5 525.3 L489 525.3 L489.5 525.3 L490 525.3 L490.5 525.3 L491 525.3 L491.5 525.3 L492 525.3 L492.5 525.3 L493 525.3 L493.5 525.3 L494 525.3 L494.5 525.3 L494.5 525.3 L385 525.3Z" stroke="none" fill="#dcf5dc" stroke-width="1" opacity="0.75"/>
<path d="M385 543.7 L385.5 543.7 L386 543.7 L386.5 543.7 L387 543.7 L387.5 543.7 L388 543.7 L388.5 543.7 L389 543.7 L389.5 543.7 L390 543.7 L390.5 543.7 L391 543.7 L391.5 543.7 L392 543.7 L392.5 543.7 L393 543.7 L393.5 543.7 L394 543.7 L394.5 543.7 L395 543.7 L395.5 543.7 L396 543.7 L396.5 543.7 L397 543.7 L397.5 543.7 L398 543.7 L398.5 543.7 L399 543.7 L399.5 543.7 L400 543.7 L400.5 543.7 L401 543.7 L401.5 543.7 L402 543.7 L402.5 543.7 L403 543.7 L403.5 543.7 L404 543.7 L404.5 543.7 L405 543.7 L405.5 543.7 L406 543.7 L406.5 543.7 L407 543.7 L407.5 543.7 L408 543.7 L408.5 543.7 L409 543.7 L409.5 543.7 L410 543.7 L410.5 543.7 L411 543.7 L411.5 543.7 L412 543.7 L412.5 543.7 L413 543.7 L413.5 543.7 L414 543.7 L414.5 543.7 L415 543.7 L415.5 543.7 L416 543.7 L416.5 543.7 L417 543.7 L417.5 543.7 L418 543.7 L418.5 543.7 L419 543.7 L419.5 543.7 L420 543.7 L420.5 543.7 L421 543.7 L421.5 543.69 L422 543.69 L422.5 543.69 L423 543.68 L423.5 543.68 L424 543.67 L424.5 543.65 L425 543.64 L425.5 543.62 L426 543.59 L426.5 543.55 L427 543.51 L427.5 543.46 L428 543.4 L428.5 543.33 L429 543.24 L429.5 543.15 L430 543.04 L430.5 542.92 L431 542.78 L431.5 542.64 L432 542.49 L432.5 542.33 L433 542.17 L433.5 542.01 L434 541.85 L434.5 541.7 L435 541.55 L435.5 541.42 L436 541.3 L436.5 541.19 L437 541.1 L437.5 541.01 L438 540.92 L438.5 540.83 L439 540.73 L439.5 540.62 L440 540.51 L440.5 540.38 L441 540.25 L441.5 540.11 L442 539.95 L442.5 539.8 L443 539.63 L443.5 539.47 L444 539.31 L444.5 539.15 L445 539 L445.5 538.85 L446 538.72 L446.5 538.59 L447 538.45 L447.5 538.3 L448 538.11 L448.5 537.88 L449 537.58 L449.5 537.17 L450 536.62 L450.5 535.87 L451 534.89 L451.5 533.63 L452 532.09 L452.5 530.26 L453 528.16 L453.5 525.84 L454 523.4 L454.5 520.92 L455 518.54 L455.5 516.39 L456 514.6 L456.5 513.29 L457 512.55 L457.5 512.44 L458 512.88 L458.5 513.82 L459 515.22 L459.5 517.02 L460 519.12 L460.5 521.44 L461 523.89 L461.5 526.36 L462 528.79 L462.5 531.1 L463 533.23 L463.5 535.15 L464 536.84 L464.5 538.29 L465 539.5 L465.5 540.5 L466 541.31 L466.5 541.94 L467 542.43 L467.5 542.79 L468 543.07 L468.5 543.26 L469 543.41 L469.5 543.51 L470 543.57 L470.5 543.62 L471 543.65 L471.5 543.67 L472 543.68 L472.5 543.69 L473 543.69 L473.5 543.7 L474 543.7 L474.5 543.7 L475 543.7 L475.5 543.7 L476 543.7 L476.5 543.7 L477 543.7 L477.5 543.7 L478 543.7 L478.5 543.7 L479 543.7 L479.5 543.7 L480 543.7 L480.5 543.7 L481 543.7 L481.5 543.7 L482 543.7 L482.5 543.7 L483 543.7 L483.5 543.7 L484 543.7 L484.5 543.7 L485 543.7 L485.5 543.7 L486 543.7 L486.5 543.7 L487 543.7 L487.5 543.7 L488 543.7 L488.5 543.7 L489 543.7 L489.5 543.7 L490 543.7 L490.5 543.7 L491 543.7 L491.5 543.7 L492 543.7 L492.5 543.7 L493 543.7 L493.5 543.7 L494 543.7 L494.5 543.7 L494.5 543.7 L385 543.7Z" stroke="none" fill="#e6def8" stroke-width="1" opacity="0.75"/>
<path d="M385 562 L385.5 562 L386 562 L386.5 562 L387 562 L387.5 562 L388 562 L388.5 562 L389 562 L389.5 562 L390 562 L390.5 562 L391 562 L391.5 562 L392 562 L392.5 562 L393 562 L393.5 562 L394 562 L394.5 562 L395 562 L395.5 562 L396 562 L396.5 562 L397 562 L397.5 562 L398 562 L398.5 562 L399 562 L399.5 562 L400 562 L400.5 562 L401 562 L401.5 562 L402 562 L402.5 562 L403 562 L403.5 562 L404 562 L404.5 562 L405 562 L405.5 562 L406 562 L406.5 562 L407 562 L407.5 562 L408 562 L408.5 562 L409 562 L409.5 562 L410 562 L410.5 562 L411 562 L411.5 562 L412 562 L412.5 562 L413 562 L413.5 562 L414 562 L414.5 562 L415 561.99 L415.5 561.99 L416 561.99 L416.5 561.99 L417 561.98 L417.5 561.98 L418 561.97 L418.5 561.97 L419 561.96 L419.5 561.95 L420 561.94 L420.5 561.93 L421 561.91 L421.5 561.89 L422 561.87 L422.5 561.84 L423 561.81 L423.5 561.78 L424 561.74 L424.5 561.69 L425 561.64 L425.5 561.58 L426 561.51 L426.5 561.44 L427 561.36 L427.5 561.27 L428 561.17 L428.5 561.07 L429 560.95 L429.5 560.83 L430 560.7 L430.5 560.57 L431 560.42 L431.5 560.28 L432 560.13 L432.5 559.97 L433 559.82 L433.5 559.66 L434 559.51 L434.5 559.36 L435 559.21 L435.5 559.07 L436 558.94 L436.5 558.82 L437 558.72 L437.5 558.62 L438 558.54 L438.5 558.48 L439 558.43 L439.5 558.4 L440 558.39 L440.5 558.4 L441 558.42 L441.5 558.46 L442 558.52 L442.5 558.57 L443 558.63 L443.5 558.66 L444 558.66 L444.5 558.6 L445 558.46 L445.5 558.21 L446 557.82 L446.5 557.25 L447 556.47 L447.5 555.44 L448 554.15 L448.5 552.58 L449 550.71 L449.5 548.58 L450 546.22 L450.5 543.69 L451 541.07 L451.5 538.46 L452 535.98 L452.5 533.74 L453 531.86 L453.5 530.44 L454 529.58 L454.5 529.31 L455 529.62 L455.5 530.48 L456 531.83 L456.5 533.62 L457 535.76 L457.5 538.15 L458 540.69 L458.5 543.29 L459 545.86 L459.5 548.31 L460 550.58 L460.5 552.65 L461 554.47 L461.5 556.04 L462 557.36 L462.5 558.45 L463 559.33 L463.5 560.03 L464 560.57 L464.5 560.98 L465 561.28 L465.5 561.51 L466 561.67 L466.5 561.78 L467 561.85 L467.5 561.91 L468 561.94 L468.5 561.96 L469 561.98 L469.5 561.99 L470 561.99 L470.5 562 L471 562 L471.5 562 L472 562 L472.5 562 L473 562 L473.5 562 L474 562 L474.5 562 L475 562 L475.5 562 L476 562 L476.5 562 L477 562 L477.5 562 L478 562 L478.5 562 L479 562 L479.5 562 L480 562 L480.5 562 L481 562 L481.5 562 L482 562 L482.5 562 L483 562 L483.5 562 L484 562 L484.5 562 L485 562 L485.5 562 L486 562 L486.5 562 L487 562 L487.5 562 L488 562 L488.5 562 L489 562 L489.5 562 L490 562 L490.5 562 L491 562 L491.5 562 L492 562 L492.5 562 L493 562 L493.5 562 L494 562 L494.5 562 L494.5 562 L385 562Z" stroke="none" fill="#f5efd9" stroke-width="1" opacity="0.75"/>
<path d="M385 489.4 L385.5 489.4 L386 489.4 L386.5 489.4 L387 489.4 L387.5 489.4 L388 489.4 L388.5 489.4 L389 489.4 L389.5 489.4 L390 489.4 L390.5 489.4 L391 489.4 L391.5 489.4 L392 489.4 L392.5 489.4 L393 489.4 L393.5 489.4 L394 489.4 L394.5 489.4 L395 489.4 L395.5 489.4 L396 489.4 L396.5 489.4 L397 489.4 L397.5 489.4 L398 489.4 L398.5 489.4 L399 489.4 L399.5 489.4 L400 489.4 L400.5 489.4 L401 489.4 L401.5 489.4 L402 489.4 L402.5 489.4 L403 489.4 L403.5 489.4 L404 489.4 L404.5 489.4 L405 489.4 L405.5 489.4 L406 489.4 L406.5 489.4 L407 489.4 L407.5 489.4 L408 489.4 L408.5 489.4 L409 489.4 L409.5 489.4 L410 489.4 L410.5 489.4 L411 489.4 L411.5 489.4 L412 489.4 L412.5 489.4 L413 489.4 L413.5 489.4 L414 489.4 L414.5 489.4 L415 489.4 L415.5 489.4 L416 489.4 L416.5 489.4 L417 489.4 L417.5 489.4 L418 489.4 L418.5 489.4 L419 489.4 L419.5 489.4 L420 489.4 L420.5 489.4 L421 489.4 L421.5 489.4 L422 489.4 L422.5 489.4 L423 489.4 L423.5 489.4 L424 489.4 L424.5 489.4 L425 489.4 L425.5 489.4 L426 489.4 L426.5 489.39 L427 489.39 L427.5 489.39 L428 489.38 L428.5 489.37 L429 489.36 L429.5 489.34 L430 489.31 L430.5 489.27 L431 489.22 L431.5 489.16 L432 489.08 L432.5 488.98 L433 488.86 L433.5 488.71 L434 488.53 L434.5 488.33 L435 488.1 L435.5 487.84 L436 487.56 L436.5 487.27 L437 486.96 L437.5 486.64 L438 486.32 L438.5 486.01 L439 485.7 L439.5 485.38 L440 485.04 L440.5 484.66 L441 484.19 L441.5 483.63 L442 482.93 L442.5 482.03 L443 480.85 L443.5 479.34 L444 477.45 L444.5 475.18 L445 472.56 L445.5 469.7 L446 466.73 L446.5 463.82 L447 461.18 L447.5 459.02 L448 457.51 L448.5 456.8 L449 456.9 L449.5 457.62 L450 458.91 L450.5 460.69 L451 462.88 L451.5 465.37 L452 468.04 L452.5 470.78 L453 473.47 L453.5 476.04 L454 478.4 L454.5 480.52 L455 482.37 L455.5 483.94 L456 485.24 L456.5 486.29 L457 487.12 L457.5 487.76 L458 488.24 L458.5 488.6 L459 488.86 L459.5 489.04 L460 489.16 L460.5 489.25 L461 489.31 L461.5 489.34 L462 489.36 L462.5 489.38 L463 489.39 L463.5 489.39 L464 489.4 L464.5 489.4 L465 489.4 L465.5 489.4 L466 489.4 L466.5 489.4 L467 489.4 L467.5 489.4 L468 489.4 L468.5 489.4 L469 489.4 L469.5 489.4 L470 489.4 L470.5 489.4 L471 489.4 L471.5 489.4 L472 489.4 L472.5 489.4 L473 489.4 L473.5 489.4 L474 489.4 L474.5 489.4 L475 489.4 L475.5 489.4 L476 489.4 L476.5 489.4 L477 489.4 L477.5 489.4 L478 489.4 L478.5 489.4 L479 489.4 L479.5 489.4 L480 489.4 L480.5 489.4 L481 489.4 L481.5 489.4 L482 489.4 L482.5 489.4 L483 489.4 L483.5 489.4 L484 489.4 L484.5 489.4 L485 489.4 L485.5 489.4 L486 489.4 L486.5 489.4 L487 489.4 L487.5 489.4 L488 489.4 L488.5 489.4 L489 489.4 L489.5 489.4 L490 489.4 L490.5 489.4 L491 489.4 L491.5 489.4 L492 489.4 L492.5 489.4 L493 489.4 L493.5 489.4 L494 489.4 L494.5 489.4" stroke="#3a3aff" fill="none" stroke-width="0.8"/>
<path d="M385 507 L385.5 507 L386 507 L386.5 507 L387 507 L387.5 507 L388 507 L388.5 507 L389 507 L389.5 507 L390 507 L390.5 507 L391 507 L391.5 507 L392 507 L392.5 507 L393 507 L393.5 507 L394 507 L394.5 507 L395 507 L395.5 507 L396 507 L396.5 507 L397 507 L397.5 507 L398 507 L398.5 507 L399 507 L399.5 507 L400 507 L400.5 507 L401 507 L401.5 507 L402 507 L402.5 507 L403 507 L403.5 507 L404 507 L404.5 507 L405 507 L405.5 507 L406 507 L406.5 507 L407 507 L407.5 507 L408 507 L408.5 507 L409 507 L409.5 507 L410 507 L410.5 506.99 L411 506.99 L411.5 506.99 L412 506.98 L412.5 506.98 L413 506.97 L413.5 506.96 L414 506.95 L414.5 506.93 L415 506.91 L415.5 506.89 L416 506.86 L416.5 506.82 L417 506.78 L417.5 506.74 L418 506.68 L418.5 506.62 L419 506.56 L419.5 506.48 L420 506.4 L420.5 506.31 L421 506.22 L421.5 506.13 L422 506.03 L422.5 505.93 L423 505.84 L423.5 505.75 L424 505.66 L424.5 505.59 L425 505.52 L425.5 505.47 L426 505.43 L426.5 505.41 L427 505.4 L427.5 505.41 L428 505.43 L428.5 505.47 L429 505.52 L429.5 505.59 L430 505.66 L430.5 505.74 L431 505.83 L431.5 505.92 L432 506.02 L432.5 506.11 L433 506.19 L433.5 506.27 L434 506.34 L434.5 506.4 L435 506.44 L435.5 506.47 L436 506.48 L436.5 506.46 L437 506.43 L437.5 506.38 L438 506.3 L438.5 506.19 L439 506.07 L439.5 505.92 L440 505.75 L440.5 505.57 L441 505.38 L441.5 505.19 L442 504.99 L442.5 504.78 L443 504.58 L443.5 504.37 L444 504.13 L444.5 503.85 L445 503.48 L445.5 503 L446 502.33 L446.5 501.42 L447 500.21 L447.5 498.65 L448 496.7 L448.5 494.37 L449 491.69 L449.5 488.75 L450 485.71 L450.5 482.74 L451 480.05 L451.5 477.85 L452 476.33 L452.5 475.63 L453 475.74 L453.5 476.41 L454 477.56 L454.5 479.13 L455 481.07 L455.5 483.29 L456 485.68 L456.5 488.16 L457 490.63 L457.5 493.02 L458 495.27 L458.5 497.32 L459 499.15 L459.5 500.74 L460 502.1 L460.5 503.23 L461 504.15 L461.5 504.88 L462 505.45 L462.5 505.89 L463 506.21 L463.5 506.45 L464 506.63 L464.5 506.75 L465 506.84 L465.5 506.89 L466 506.93 L466.5 506.96 L467 506.97 L467.5 506.98 L468 506.99 L468.5 506.99 L469 507 L469.5 507 L470 507 L470.5 507 L471 507 L471.5 507 L472 507 L472.5 507 L473 507 L473.5 507 L474 507 L474.5 507 L475 507 L475.5 507 L476 507 L476.5 507 L477 507 L477.5 507 L478 507 L478.5 507 L479 507 L479.5 507 L480 507 L480.5 507 L481 507 L481.5 507 L482 507 L482.5 507 L483 507 L483.5 507 L484 507 L484.5 507 L485 507 L485.5 507 L486 507 L486.5 507 L487 507 L487.5 507 L488 507 L488.5 507 L489 507 L489.5 507 L490 507 L490.5 507 L491 507 L491.5 507 L492 507 L492.5 507 L493 507 L493.5 507 L494 507 L494.5 507" stroke="#ff3a3a" fill="none" stroke-width="0.8"/>
<path d="M385 525.3 L385.5 525.3 L386 525.3 L386.5 525.3 L387 525.3 L387.5 525.3 L388 525.3 L388.5 525.3 L389 525.3 L389.5 525.3 L390 525.3 L390.5 525.3 L391 525.3 L391.5 525.3 L392 525.3 L392.5 525.3 L393 525.3 L393.5 525.3 L394 525.3 L394.5 525.3 L395 525.3 L395.5 525.3 L396 525.3 L396.5 525.3 L397 525.3 L397.5 525.3 L398 525.3 L398.5 525.3 L399 525.3 L399.5 525.3 L400 525.3 L400.5 525.3 L401 525.3 L401.5 525.3 L402 525.3 L402.5 525.3 L403 525.3 L403.5 525.3 L404 525.3 L404.5 525.3 L405 525.3 L405.5 525.3 L406 525.3 L406.5 525.3 L407 525.3 L407.5 525.3 L408 525.3 L408.5 525.3 L409 525.3 L409.5 525.3 L410 525.3 L410.5 525.3 L411 525.3 L411.5 525.3 L412 525.3 L412.5 525.3 L413 525.3 L413.5 525.3 L414 525.3 L414.5 525.3 L415 525.3 L415.5 525.3 L416 525.3 L416.5 525.3 L417 525.3 L417.5 525.29 L418 525.29 L418.5 525.29 L419 525.28 L419.5 525.27 L420 525.26 L420.5 525.24 L421 525.22 L421.5 525.19 L422 525.16 L422.5 525.11 L423 525.06 L423.5 525 L424 524.92 L424.5 524.83 L425 524.74 L425.5 524.63 L426 524.51 L426.5 524.39 L427 524.27 L427.5 524.14 L428 524.02 L428.5 523.91 L429 523.8 L429.5 523.72 L430 523.64 L430.5 523.59 L431 523.55 L431.5 523.53 L432 523.52 L432.5 523.52 L433 523.52 L433.5 523.53 L434 523.53 L434.5 523.52 L435 523.49 L435.5 523.44 L436 523.36 L436.5 523.26 L437 523.13 L437.5 522.97 L438 522.79 L438.5 522.59 L439 522.37 L439.5 522.15 L440 521.92 L440.5 521.69 L441 521.48 L441.5 521.28 L442 521.11 L442.5 520.96 L443 520.85 L443.5 520.75 L444 520.68 L444.5 520.62 L445 520.56 L445.5 520.46 L446 520.24 L446.5 519.85 L447 519.19 L447.5 518.17 L448 516.72 L448.5 514.77 L449 512.34 L449.5 509.48 L450 506.34 L450.5 503.13 L451 500.1 L451.5 497.56 L452 495.76 L452.5 494.92 L453 495.04 L453.5 495.69 L454 496.81 L454.5 498.34 L455 500.22 L455.5 502.36 L456 504.67 L456.5 507.07 L457 509.46 L457.5 511.78 L458 513.95 L458.5 515.93 L459 517.71 L459.5 519.25 L460 520.56 L460.5 521.65 L461 522.54 L461.5 523.25 L462 523.8 L462.5 524.22 L463 524.54 L463.5 524.77 L464 524.94 L464.5 525.06 L465 525.14 L465.5 525.2 L466 525.23 L466.5 525.26 L467 525.27 L467.5 525.28 L468 525.29 L468.5 525.29 L469 525.3 L469.5 525.3 L470 525.3 L470.5 525.3 L471 525.3 L471.5 525.3 L472 525.3 L472.5 525.3 L473 525.3 L473.5 525.3 L474 525.3 L474.5 525.3 L475 525.3 L475.5 525.3 L476 525.3 L476.5 525.3 L477 525.3 L477.5 525.3 L478 525.3 L478.5 525.3 L479 525.3 L479.5 525.3 L480 525.3 L480.5 525.3 L481 525.3 L481.5 525.3 L482 525.3 L482.5 525.3 L483 525.3 L483.5 525.3 L484 525.3 L484.5 525.3 L485 525.3 L485.5 525.3 L486 525.3 L486.5 525.3 L487 525.3 L487.5 525.3 L488 525.3 L488.5 525.3 L489 525.3 L489.5 525.3 L490 525.3 L490.5 525.3 L491 525.3 L491.5 525.3 L492 525.3 L492.5 525.3 L493 525.3 L493.5 525.3 L494 525.3 L494.5 525.3" stroke="#2fbf3f" fill="none" stroke-width="0.8"/>
<path d="M385 543.7 L385.5 543.7 L386 543.7 L386.5 543.7 L387 543.7 L387.5 543.7 L388 543.7 L388.5 543.7 L389 543.7 L389.5 543.7 L390 543.7 L390.5 543.7 L391 543.7 L391.5 543.7 L392 543.7 L392.5 543.7 L393 543.7 L393.5 543.7 L394 543.7 L394.5 543.7 L395 543.7 L395.5 543.7 L396 543.7 L396.5 543.7 L397 543.7 L397.5 543.7 L398 543.7 L398.5 543.7 L399 543.7 L399.5 543.7 L400 543.7 L400.5 543.7 L401 543.7 L401.5 543.7 L402 543.7 L402.5 543.7 L403 543.7 L403.5 543.7 L404 543.7 L404.5 543.7 L405 543.7 L405.5 543.7 L406 543.7 L406.5 543.7 L407 543.7 L407.5 543.7 L408 543.7 L408.5 543.7 L409 543.7 L409.5 543.7 L410 543.7 L410.5 543.7 L411 543.7 L411.5 543.7 L412 543.7 L412.5 543.7 L413 543.7 L413.5 543.7 L414 543.7 L414.5 543.7 L415 543.7 L415.5 543.7 L416 543.7 L416.5 543.7 L417 543.7 L417.5 543.7 L418 543.7 L418.5 543.7 L419 543.7 L419.5 543.7 L420 543.7 L420.5 543.7 L421 543.7 L421.5 543.69 L422 543.69 L422.5 543.69 L423 543.68 L423.5 543.68 L424 543.67 L424.5 543.65 L425 543.64 L425.5 543.62 L426 543.59 L426.5 543.55 L427 543.51 L427.5 543.46 L428 543.4 L428.5 543.33 L429 543.24 L429.5 543.15 L430 543.04 L430.5 542.92 L431 542.78 L431.5 542.64 L432 542.49 L432.5 542.33 L433 542.17 L433.5 542.01 L434 541.85 L434.5 541.7 L435 541.55 L435.5 541.42 L436 541.3 L436.5 541.19 L437 541.1 L437.5 541.01 L438 540.92 L438.5 540.83 L439 540.73 L439.5 540.62 L440 540.51 L440.5 540.38 L441 540.25 L441.5 540.11 L442 539.95 L442.5 539.8 L443 539.63 L443.5 539.47 L444 539.31 L444.5 539.15 L445 539 L445.5 538.85 L446 538.72 L446.5 538.59 L447 538.45 L447.5 538.3 L448 538.11 L448.5 537.88 L449 537.58 L449.5 537.17 L450 536.62 L450.5 535.87 L451 534.89 L451.5 533.63 L452 532.09 L452.5 530.26 L453 528.16 L453.5 525.84 L454 523.4 L454.5 520.92 L455 518.54 L455.5 516.39 L456 514.6 L456.5 513.29 L457 512.55 L457.5 512.44 L458 512.88 L458.5 513.82 L459 515.22 L459.5 517.02 L460 519.12 L460.5 521.44 L461 523.89 L461.5 526.36 L462 528.79 L462.5 531.1 L463 533.23 L463.5 535.15 L464 536.84 L464.5 538.29 L465 539.5 L465.5 540.5 L466 541.31 L466.5 541.94 L467 542.43 L467.5 542.79 L468 543.07 L468.5 543.26 L469 543.41 L469.5 543.51 L470 543.57 L470.5 543.62 L471 543.65 L471.5 543.67 L472 543.68 L472.5 543.69 L473 543.69 L473.5 543.7 L474 543.7 L474.5 543.7 L475 543.7 L475.5 543.7 L476 543.7 L476.5 543.7 L477 543.7 L477.5 543.7 L478 543.7 L478.5 543.7 L479 543.7 L479.5 543.7 L480 543.7 L480.5 543.7 L481 543.7 L481.5 543.7 L482 543.7 L482.5 543.7 L483 543.7 L483.5 543.7 L484 543.7 L484.5 543.7 L485 543.7 L485.5 543.7 L486 543.7 L486.5 543.7 L487 543.7 L487.5 543.7 L488 543.7 L488.5 543.7 L489 543.7 L489.5 543.7 L490 543.7 L490.5 543.7 L491 543.7 L491.5 543.7 L492 543.7 L492.5 543.7 L493 543.7 L493.5 543.7 L494 543.7 L494.5 543.7" stroke="#6a3fc8" fill="none" stroke-width="0.8"/>
<path d="M385 562 L385.5 562 L386 562 L386.5 562 L387 562 L387.5 562 L388 562 L388.5 562 L389 562 L389.5 562 L390 562 L390.5 562 L391 562 L391.5 562 L392 562 L392.5 562 L393 562 L393.5 562 L394 562 L394.5 562 L395 562 L395.5 562 L396 562 L396.5 562 L397 562 L397.5 562 L398 562 L398.5 562 L399 562 L399.5 562 L400 562 L400.5 562 L401 562 L401.5 562 L402 562 L402.5 562 L403 562 L403.5 562 L404 562 L404.5 562 L405 562 L405.5 562 L406 562 L406.5 562 L407 562 L407.5 562 L408 562 L408.5 562 L409 562 L409.5 562 L410 562 L410.5 562 L411 562 L411.5 562 L412 562 L412.5 562 L413 562 L413.5 562 L414 562 L414.5 562 L415 561.99 L415.5 561.99 L416 561.99 L416.5 561.99 L417 561.98 L417.5 561.98 L418 561.97 L418.5 561.97 L419 561.96 L419.5 561.95 L420 561.94 L420.5 561.93 L421 561.91 L421.5 561.89 L422 561.87 L422.5 561.84 L423 561.81 L423.5 561.78 L424 561.74 L424.5 561.69 L425 561.64 L425.5 561.58 L426 561.51 L426.5 561.44 L427 561.36 L427.5 561.27 L428 561.17 L428.5 561.07 L429 560.95 L429.5 560.83 L430 560.7 L430.5 560.57 L431 560.42 L431.5 560.28 L432 560.13 L432.5 559.97 L433 559.82 L433.5 559.66 L434 559.51 L434.5 559.36 L435 559.21 L435.5 559.07 L436 558.94 L436.5 558.82 L437 558.72 L437.5 558.62 L438 558.54 L438.5 558.48 L439 558.43 L439.5 558.4 L440 558.39 L440.5 558.4 L441 558.42 L441.5 558.46 L442 558.52 L442.5 558.57 L443 558.63 L443.5 558.66 L444 558.66 L444.5 558.6 L445 558.46 L445.5 558.21 L446 557.82 L446.5 557.25 L447 556.47 L447.5 555.44 L448 554.15 L448.5 552.58 L449 550.71 L449.5 548.58 L450 546.22 L450.5 543.69 L451 541.07 L451.5 538.46 L452 535.98 L452.5 533.74 L453 531.86 L453.5 530.44 L454 529.58 L454.5 529.31 L455 529.62 L455.5 530.48 L456 531.83 L456.5 533.62 L457 535.76 L457.5 538.15 L458 540.69 L458.5 543.29 L459 545.86 L459.5 548.31 L460 550.58 L460.5 552.65 L461 554.47 L461.5 556.04 L462 557.36 L462.5 558.45 L463 559.33 L463.5 560.03 L464 560.57 L464.5 560.98 L465 561.28 L465.5 561.51 L466 561.67 L466.5 561.78 L467 561.85 L467.5 561.91 L468 561.94 L468.5 561.96 L469 561.98 L469.5 561.99 L470 561.99 L470.5 562 L471 562 L471.5 562 L472 562 L472.5 562 L473 562 L473.5 562 L474 562 L474.5 562 L475 562 L475.5 562 L476 562 L476.5 562 L477 562 L477.5 562 L478 562 L478.5 562 L479 562 L479.5 562 L480 562 L480.5 562 L481 562 L481.5 562 L482 562 L482.5 562 L483 562 L483.5 562 L484 562 L484.5 562 L485 562 L485.5 562 L486 562 L486.5 562 L487 562 L487.5 562 L488 562 L488.5 562 L489 562 L489.5 562 L490 562 L490.5 562 L491 562 L491.5 562 L492 562 L492.5 562 L493 562 L493.5 562 L494 562 L494.5 562" stroke="#c08a2a" fill="none" stroke-width="0.8"/>
<rect x="385.6" y="452.8" width="91.5" height="41.2" fill="#fff" opacity="0.8"/>
<rect x="387.6" y="454.8" width="13.2" height="3.8" rx="0.9" fill="#dcdcff" stroke="#3a3aff" stroke-width="0.7"/>
<text x="404.2" y="458.8" font-size="6.1" fill="#222">DMSO</text>
<rect x="387.6" y="463.45" width="13.2" height="3.8" rx="0.9" fill="#ffe0e0" stroke="#ff3a3a" stroke-width="0.7"/>
<text x="404.2" y="467.45" font-size="6.1" fill="#222">Erastin</text>
<rect x="387.6" y="472.1" width="13.2" height="3.8" rx="0.9" fill="#dcf5dc" stroke="#2fbf3f" stroke-width="0.7"/>
<text x="404.2" y="476.1" font-size="6.1" fill="#222">shCtrl+Erastin</text>
<rect x="387.6" y="480.75" width="13.2" height="3.8" rx="0.9" fill="#e6def8" stroke="#6a3fc8" stroke-width="0.7"/>
<text x="404.2" y="484.75" font-size="6.1" fill="#222">shSPI1+Erastin</text>
<rect x="387.6" y="489.4" width="13.2" height="3.8" rx="0.9" fill="#f5efd9" stroke="#c08a2a" stroke-width="0.7"/>
<text x="404.2" y="493.4" font-size="6.1" fill="#222">shSPI1+Erastin+si-ACSL4</text>
<rect x="385" y="452.2" width="109.9" height="109.4" fill="none" stroke="#333" stroke-width="0.8"/>
<line x1="382.8" y1="561.6" x2="385" y2="561.6" stroke="#333" stroke-width="0.6"/>
<text font-size="6.2" text-anchor="middle" fill="#222" transform="translate(378.3 561.6) rotate(-90)" x="0" y="0">0</text>
<line x1="383.9" y1="556.59" x2="385" y2="556.59" stroke="#333" stroke-width="0.6"/>
<line x1="383.9" y1="551.58" x2="385" y2="551.58" stroke="#333" stroke-width="0.6"/>
<line x1="383.9" y1="546.57" x2="385" y2="546.57" stroke="#333" stroke-width="0.6"/>
<line x1="382.8" y1="541.56" x2="385" y2="541.56" stroke="#333" stroke-width="0.6"/>
<text font-size="6.2" text-anchor="middle" fill="#222" transform="translate(378.3 541.56) rotate(-90)" x="0" y="0">20</text>
<line x1="383.9" y1="536.55" x2="385" y2="536.55" stroke="#333" stroke-width="0.6"/>
<line x1="383.9" y1="531.54" x2="385" y2="531.54" stroke="#333" stroke-width="0.6"/>
<line x1="383.9" y1="526.53" x2="385" y2="526.53" stroke="#333" stroke-width="0.6"/>
<line x1="382.8" y1="521.52" x2="385" y2="521.52" stroke="#333" stroke-width="0.6"/>
<text font-size="6.2" text-anchor="middle" fill="#222" transform="translate(378.3 521.52) rotate(-90)" x="0" y="0">40</text>
<line x1="383.9" y1="516.51" x2="385" y2="516.51" stroke="#333" stroke-width="0.6"/>
<line x1="383.9" y1="511.5" x2="385" y2="511.5" stroke="#333" stroke-width="0.6"/>
<line x1="383.9" y1="506.49" x2="385" y2="506.49" stroke="#333" stroke-width="0.6"/>
<line x1="382.8" y1="501.48" x2="385" y2="501.48" stroke="#333" stroke-width="0.6"/>
<text font-size="6.2" text-anchor="middle" fill="#222" transform="translate(378.3 501.48) rotate(-90)" x="0" y="0">60</text>
<line x1="383.9" y1="496.47" x2="385" y2="496.47" stroke="#333" stroke-width="0.6"/>
<line x1="383.9" y1="491.46" x2="385" y2="491.46" stroke="#333" stroke-width="0.6"/>
<line x1="383.9" y1="486.45" x2="385" y2="486.45" stroke="#333" stroke-width="0.6"/>
<line x1="382.8" y1="481.44" x2="385" y2="481.44" stroke="#333" stroke-width="0.6"/>
<text font-size="6.2" text-anchor="middle" fill="#222" transform="translate(378.3 481.44) rotate(-90)" x="0" y="0">80</text>
<line x1="383.9" y1="476.43" x2="385" y2="476.43" stroke="#333" stroke-width="0.6"/>
<line x1="383.9" y1="471.42" x2="385" y2="471.42" stroke="#333" stroke-width="0.6"/>
<line x1="383.9" y1="466.41" x2="385" y2="466.41" stroke="#333" stroke-width="0.6"/>
<line x1="382.8" y1="461.4" x2="385" y2="461.4" stroke="#333" stroke-width="0.6"/>
<text font-size="6.2" text-anchor="middle" fill="#222" transform="translate(378.3 461.4) rotate(-90)" x="0" y="0">100</text>
<text font-size="6.1" text-anchor="middle" fill="#222" transform="translate(370.8 506.8) rotate(-90)" x="0" y="0">Count  (%)</text>
<line x1="385" y1="561.6" x2="385" y2="563.6" stroke="#333" stroke-width="0.6"/>
<text font-size="6.1" fill="#222" x="381.2" y="571.8">10<tspan font-size="4.8" dy="-3.0">2.5</tspan></text>
<line x1="387.8" y1="561.6" x2="387.8" y2="562.6" stroke="#333" stroke-width="0.6"/>
<line x1="390.47" y1="561.6" x2="390.47" y2="562.6" stroke="#333" stroke-width="0.6"/>
<line x1="392.64" y1="561.6" x2="392.64" y2="562.6" stroke="#333" stroke-width="0.6"/>
<line x1="394.48" y1="561.6" x2="394.48" y2="562.6" stroke="#333" stroke-width="0.6"/>
<line x1="396.07" y1="561.6" x2="396.07" y2="562.6" stroke="#333" stroke-width="0.6"/>
<line x1="397.48" y1="561.6" x2="397.48" y2="562.6" stroke="#333" stroke-width="0.6"/>
<line x1="398.74" y1="561.6" x2="398.74" y2="563.6" stroke="#333" stroke-width="0.6"/>
<line x1="407.01" y1="561.6" x2="407.01" y2="562.6" stroke="#333" stroke-width="0.6"/>
<line x1="411.85" y1="561.6" x2="411.85" y2="562.6" stroke="#333" stroke-width="0.6"/>
<line x1="415.28" y1="561.6" x2="415.28" y2="562.6" stroke="#333" stroke-width="0.6"/>
<line x1="417.94" y1="561.6" x2="417.94" y2="562.6" stroke="#333" stroke-width="0.6"/>
<line x1="420.12" y1="561.6" x2="420.12" y2="562.6" stroke="#333" stroke-width="0.6"/>
<line x1="421.96" y1="561.6" x2="421.96" y2="562.6" stroke="#333" stroke-width="0.6"/>
<line x1="423.55" y1="561.6" x2="423.55" y2="562.6" stroke="#333" stroke-width="0.6"/>
<line x1="424.96" y1="561.6" x2="424.96" y2="562.6" stroke="#333" stroke-width="0.6"/>
<line x1="426.21" y1="561.6" x2="426.21" y2="563.6" stroke="#333" stroke-width="0.6"/>
<text font-size="6.1" fill="#222" x="422.41" y="571.8">10<tspan font-size="4.8" dy="-3.0">4</tspan></text>
<line x1="434.48" y1="561.6" x2="434.48" y2="562.6" stroke="#333" stroke-width="0.6"/>
<line x1="439.32" y1="561.6" x2="439.32" y2="562.6" stroke="#333" stroke-width="0.6"/>
<line x1="442.75" y1="561.6" x2="442.75" y2="562.6" stroke="#333" stroke-width="0.6"/>
<line x1="445.42" y1="561.6" x2="445.42" y2="562.6" stroke="#333" stroke-width="0.6"/>
<line x1="447.59" y1="561.6" x2="447.59" y2="562.6" stroke="#333" stroke-width="0.6"/>
<line x1="449.43" y1="561.6" x2="449.43" y2="562.6" stroke="#333" stroke-width="0.6"/>
<line x1="451.02" y1="561.6" x2="451.02" y2="562.6" stroke="#333" stroke-width="0.6"/>
<line x1="452.43" y1="561.6" x2="452.43" y2="562.6" stroke="#333" stroke-width="0.6"/>
<line x1="453.69" y1="561.6" x2="453.69" y2="563.6" stroke="#333" stroke-width="0.6"/>
<text font-size="6.1" fill="#222" x="449.89" y="571.8">10<tspan font-size="4.8" dy="-3.0">5</tspan></text>
<line x1="461.96" y1="561.6" x2="461.96" y2="562.6" stroke="#333" stroke-width="0.6"/>
<line x1="466.8" y1="561.6" x2="466.8" y2="562.6" stroke="#333" stroke-width="0.6"/>
<line x1="470.23" y1="561.6" x2="470.23" y2="562.6" stroke="#333" stroke-width="0.6"/>
<line x1="472.89" y1="561.6" x2="472.89" y2="562.6" stroke="#333" stroke-width="0.6"/>
<line x1="475.07" y1="561.6" x2="475.07" y2="562.6" stroke="#333" stroke-width="0.6"/>
<line x1="476.91" y1="561.6" x2="476.91" y2="562.6" stroke="#333" stroke-width="0.6"/>
<line x1="478.5" y1="561.6" x2="478.5" y2="562.6" stroke="#333" stroke-width="0.6"/>
<line x1="479.91" y1="561.6" x2="479.91" y2="562.6" stroke="#333" stroke-width="0.6"/>
<line x1="481.16" y1="561.6" x2="481.16" y2="563.6" stroke="#333" stroke-width="0.6"/>
<line x1="489.43" y1="561.6" x2="489.43" y2="562.6" stroke="#333" stroke-width="0.6"/>
<line x1="494.27" y1="561.6" x2="494.27" y2="562.6" stroke="#333" stroke-width="0.6"/>
<line x1="494.9" y1="561.6" x2="494.9" y2="563.6" stroke="#333" stroke-width="0.6"/>
<text font-size="6.1" fill="#222" x="487.3" y="571.8">10<tspan font-size="4.8" dy="-3.0">6.5</tspan></text>
<text x="440" y="581.76" font-size="6" text-anchor="middle" fill="#222">FITC-H</text>
<text x="274.2" y="447.86" font-size="8.9" font-weight="bold" text-anchor="middle" fill="#111" textLength="22.51" lengthAdjust="spacingAndGlyphs">786-O</text>
<rect x="219.6" y="509" width="15.5" height="33.3" fill="#1f1ff5"/>
<line x1="227.35" y1="509" x2="227.35" y2="506.34" stroke="#a8a8a8" stroke-width="0.55"/>
<line x1="223.25" y1="506.34" x2="231.45" y2="506.34" stroke="#a8a8a8" stroke-width="0.55"/>
<circle cx="227.35" cy="511.66" r="0.85" fill="#111"/>
<circle cx="227.35" cy="507.33" r="0.85" fill="#111"/>
<rect x="243.2" y="493.68" width="15.5" height="48.62" fill="#fa1f16"/>
<line x1="250.95" y1="493.68" x2="250.95" y2="487.35" stroke="#a8a8a8" stroke-width="0.55"/>
<line x1="246.85" y1="487.35" x2="255.05" y2="487.35" stroke="#a8a8a8" stroke-width="0.55"/>
<circle cx="250.95" cy="500.67" r="0.85" fill="#111"/>
<circle cx="250.95" cy="490.02" r="0.85" fill="#111"/>
<rect x="266.8" y="493.68" width="15.5" height="48.62" fill="#45dc25"/>
<line x1="274.55" y1="493.68" x2="274.55" y2="484.69" stroke="#a8a8a8" stroke-width="0.55"/>
<line x1="270.45" y1="484.69" x2="278.65" y2="484.69" stroke="#a8a8a8" stroke-width="0.55"/>
<circle cx="274.55" cy="499.68" r="0.85" fill="#111"/>
<circle cx="274.55" cy="496.35" r="0.85" fill="#111"/>
<circle cx="274.55" cy="485.02" r="0.85" fill="#111"/>
<rect x="290.4" y="471.37" width="15.5" height="70.93" fill="#c837f5"/>
<line x1="298.15" y1="471.37" x2="298.15" y2="467.37" stroke="#a8a8a8" stroke-width="0.55"/>
<line x1="294.05" y1="467.37" x2="302.25" y2="467.37" stroke="#a8a8a8" stroke-width="0.55"/>
<circle cx="298.15" cy="475.7" r="0.85" fill="#111"/>
<circle cx="298.15" cy="469.71" r="0.85" fill="#111"/>
<rect x="314" y="491.02" width="15.5" height="51.28" fill="#f0862a"/>
<line x1="321.75" y1="491.02" x2="321.75" y2="487.35" stroke="#a8a8a8" stroke-width="0.55"/>
<line x1="317.65" y1="487.35" x2="325.85" y2="487.35" stroke="#a8a8a8" stroke-width="0.55"/>
<circle cx="321.75" cy="495.68" r="0.85" fill="#111"/>
<circle cx="321.75" cy="489.02" r="0.85" fill="#111"/>
<line x1="211.2" y1="458.65" x2="211.2" y2="542.75" stroke="#262626" stroke-width="0.9"/>
<line x1="208.6" y1="542.3" x2="211.2" y2="542.3" stroke="#262626" stroke-width="0.9"/>
<text x="208" y="544.5" font-size="6.4" font-weight="bold" text-anchor="end" fill="#111">0.0</text>
<line x1="208.6" y1="525.65" x2="211.2" y2="525.65" stroke="#262626" stroke-width="0.9"/>
<text x="208" y="527.85" font-size="6.4" font-weight="bold" text-anchor="end" fill="#111">0.5</text>
<line x1="208.6" y1="509" x2="211.2" y2="509" stroke="#262626" stroke-width="0.9"/>
<text x="208" y="511.2" font-size="6.4" font-weight="bold" text-anchor="end" fill="#111">1.0</text>
<line x1="208.6" y1="492.35" x2="211.2" y2="492.35" stroke="#262626" stroke-width="0.9"/>
<text x="208" y="494.55" font-size="6.4" font-weight="bold" text-anchor="end" fill="#111">1.5</text>
<line x1="208.6" y1="475.7" x2="211.2" y2="475.7" stroke="#262626" stroke-width="0.9"/>
<text x="208" y="477.9" font-size="6.4" font-weight="bold" text-anchor="end" fill="#111">2.0</text>
<line x1="208.6" y1="459.05" x2="211.2" y2="459.05" stroke="#262626" stroke-width="0.9"/>
<text x="208" y="461.25" font-size="6.4" font-weight="bold" text-anchor="end" fill="#111">2.5</text>
<line x1="211.2" y1="542.3" x2="333.8" y2="542.3" stroke="#262626" stroke-width="0.9"/>
<line x1="227.35" y1="542.3" x2="227.35" y2="544.5" stroke="#262626" stroke-width="0.9"/>
<line x1="250.95" y1="542.3" x2="250.95" y2="544.5" stroke="#262626" stroke-width="0.9"/>
<line x1="274.55" y1="542.3" x2="274.55" y2="544.5" stroke="#262626" stroke-width="0.9"/>
<line x1="298.15" y1="542.3" x2="298.15" y2="544.5" stroke="#262626" stroke-width="0.9"/>
<line x1="321.75" y1="542.3" x2="321.75" y2="544.5" stroke="#262626" stroke-width="0.9"/>
<path d="M227.35 466.5 V462.7 H297.15 V466.5" stroke="#3a3a3a" fill="none" stroke-width="0.75"/>
<text x="262.25" y="462.9" font-size="4.4" font-weight="bold" text-anchor="middle" fill="#333">***</text>
<path d="M299.95 466.5 V462.7 H321.75 V466.5" stroke="#3a3a3a" fill="none" stroke-width="0.75"/>
<text x="310.85" y="462.9" font-size="4.4" font-weight="bold" text-anchor="middle" fill="#333">**</text>
<path d="M227.35 482.6 V478.8 H274.55 V482.6" stroke="#3a3a3a" fill="none" stroke-width="0.75"/>
<text x="250.95" y="479" font-size="4.4" font-weight="bold" text-anchor="middle" fill="#333">*</text>
<path d="M227.35 487.6 V483.8 H250.95 V487.6" stroke="#3a3a3a" fill="none" stroke-width="0.75"/>
<text x="239.15" y="484" font-size="4.4" font-weight="bold" text-anchor="middle" fill="#333">*</text>
<text font-size="6.3" font-weight="bold" text-anchor="end" transform="translate(227.65 549.3) rotate(-45)" x="0" y="2.17" fill="#111">DMSO</text>
<text font-size="6.3" font-weight="bold" text-anchor="end" transform="translate(251.25 549.3) rotate(-45)" x="0" y="2.17" fill="#111">Erastin</text>
<text font-size="6.3" font-weight="bold" text-anchor="end" transform="translate(274.85 549.3) rotate(-45)" x="0" y="2.17" fill="#111">si-Ctrl+Erastin</text>
<text font-size="6.3" font-weight="bold" text-anchor="end" transform="translate(298.45 549.3) rotate(-45)" x="0" y="2.17" fill="#111">si-SPI1+Erastin</text>
<text font-size="6.3" font-weight="bold" text-anchor="end" transform="translate(322.05 549.3) rotate(-45)" x="0" y="2.17" fill="#111">si-SPI1+Erastin+si-ACSL4</text>
<text font-size="6.9" font-weight="bold" text-anchor="middle" textLength="62" lengthAdjust="spacingAndGlyphs" transform="translate(195.17 500.67) rotate(-90)" x="0" y="0" fill="#111">Relative lipid ROS</text>
<text x="613.5" y="448.76" font-size="8.9" font-weight="bold" text-anchor="middle" fill="#111" textLength="23.4" lengthAdjust="spacingAndGlyphs">ACHN</text>
<rect x="559" y="515.4" width="15.6" height="27.9" fill="#1f1ff5"/>
<line x1="566.8" y1="515.4" x2="566.8" y2="509.82" stroke="#a8a8a8" stroke-width="0.55"/>
<line x1="562.7" y1="509.82" x2="570.9" y2="509.82" stroke="#a8a8a8" stroke-width="0.55"/>
<circle cx="566.8" cy="519.58" r="0.85" fill="#111"/>
<circle cx="566.8" cy="510.38" r="0.85" fill="#111"/>
<rect x="582.3" y="498.1" width="15.6" height="45.2" fill="#fa1f16"/>
<line x1="590.1" y1="498.1" x2="590.1" y2="494.47" stroke="#a8a8a8" stroke-width="0.55"/>
<line x1="586" y1="494.47" x2="594.2" y2="494.47" stroke="#a8a8a8" stroke-width="0.55"/>
<circle cx="590.1" cy="500.05" r="0.85" fill="#111"/>
<circle cx="590.1" cy="498.66" r="0.85" fill="#111"/>
<circle cx="590.1" cy="495.31" r="0.85" fill="#111"/>
<rect x="606" y="499.22" width="15.6" height="44.08" fill="#45dc25"/>
<line x1="613.8" y1="499.22" x2="613.8" y2="492.24" stroke="#a8a8a8" stroke-width="0.55"/>
<line x1="609.7" y1="492.24" x2="617.9" y2="492.24" stroke="#a8a8a8" stroke-width="0.55"/>
<circle cx="613.8" cy="505.63" r="0.85" fill="#111"/>
<circle cx="613.8" cy="498.1" r="0.85" fill="#111"/>
<circle cx="613.8" cy="493.08" r="0.85" fill="#111"/>
<rect x="629.3" y="476.9" width="15.6" height="66.4" fill="#c837f5"/>
<line x1="637.1" y1="476.9" x2="637.1" y2="474.11" stroke="#a8a8a8" stroke-width="0.55"/>
<line x1="633" y1="474.11" x2="641.2" y2="474.11" stroke="#a8a8a8" stroke-width="0.55"/>
<circle cx="637.1" cy="479.13" r="0.85" fill="#111"/>
<circle cx="637.1" cy="477.73" r="0.85" fill="#111"/>
<circle cx="637.1" cy="474.94" r="0.85" fill="#111"/>
<rect x="653.1" y="495.31" width="15.6" height="47.99" fill="#f0862a"/>
<line x1="660.9" y1="495.31" x2="660.9" y2="490.29" stroke="#a8a8a8" stroke-width="0.55"/>
<line x1="656.8" y1="490.29" x2="665" y2="490.29" stroke="#a8a8a8" stroke-width="0.55"/>
<circle cx="660.9" cy="500.05" r="0.85" fill="#111"/>
<circle cx="660.9" cy="495.31" r="0.85" fill="#111"/>
<circle cx="660.9" cy="490.85" r="0.85" fill="#111"/>
<line x1="551" y1="459.2" x2="551" y2="543.75" stroke="#262626" stroke-width="0.9"/>
<line x1="548.4" y1="543.3" x2="551" y2="543.3" stroke="#262626" stroke-width="0.9"/>
<text x="547.8" y="545.5" font-size="6.4" font-weight="bold" text-anchor="end" fill="#111">0</text>
<line x1="548.4" y1="515.4" x2="551" y2="515.4" stroke="#262626" stroke-width="0.9"/>
<text x="547.8" y="517.6" font-size="6.4" font-weight="bold" text-anchor="end" fill="#111">1</text>
<line x1="548.4" y1="487.5" x2="551" y2="487.5" stroke="#262626" stroke-width="0.9"/>
<text x="547.8" y="489.7" font-size="6.4" font-weight="bold" text-anchor="end" fill="#111">2</text>
<line x1="548.4" y1="459.6" x2="551" y2="459.6" stroke="#262626" stroke-width="0.9"/>
<text x="547.8" y="461.8" font-size="6.4" font-weight="bold" text-anchor="end" fill="#111">3</text>
<line x1="551" y1="543.3" x2="677.3" y2="543.3" stroke="#262626" stroke-width="0.9"/>
<line x1="566.8" y1="543.3" x2="566.8" y2="545.5" stroke="#262626" stroke-width="0.9"/>
<line x1="590.1" y1="543.3" x2="590.1" y2="545.5" stroke="#262626" stroke-width="0.9"/>
<line x1="613.8" y1="543.3" x2="613.8" y2="545.5" stroke="#262626" stroke-width="0.9"/>
<line x1="637.1" y1="543.3" x2="637.1" y2="545.5" stroke="#262626" stroke-width="0.9"/>
<line x1="660.9" y1="543.3" x2="660.9" y2="545.5" stroke="#262626" stroke-width="0.9"/>
<path d="M566.8 473.2 V469.4 H636.1 V473.2" stroke="#3a3a3a" fill="none" stroke-width="0.75"/>
<text x="601.45" y="469.6" font-size="4.4" font-weight="bold" text-anchor="middle" fill="#333">***</text>
<path d="M638.9 473.2 V469.4 H660.9 V473.2" stroke="#3a3a3a" fill="none" stroke-width="0.75"/>
<text x="649.9" y="469.6" font-size="4.4" font-weight="bold" text-anchor="middle" fill="#333">**</text>
<path d="M566.8 489.1 V485.3 H613.8 V489.1" stroke="#3a3a3a" fill="none" stroke-width="0.75"/>
<text x="590.3" y="485.5" font-size="4.4" font-weight="bold" text-anchor="middle" fill="#333">*</text>
<path d="M566.8 493.7 V489.9 H590.1 V493.7" stroke="#3a3a3a" fill="none" stroke-width="0.75"/>
<text x="578.45" y="490.1" font-size="4.4" font-weight="bold" text-anchor="middle" fill="#333">**</text>
<text font-size="6.3" font-weight="bold" text-anchor="end" transform="translate(567.1 550.3) rotate(-45)" x="0" y="2.17" fill="#111">DMSO</text>
<text font-size="6.3" font-weight="bold" text-anchor="end" transform="translate(590.4 550.3) rotate(-45)" x="0" y="2.17" fill="#111">Erastin</text>
<text font-size="6.3" font-weight="bold" text-anchor="end" transform="translate(614.1 550.3) rotate(-45)" x="0" y="2.17" fill="#111">si-Ctrl+Erastin</text>
<text font-size="6.3" font-weight="bold" text-anchor="end" transform="translate(637.4 550.3) rotate(-45)" x="0" y="2.17" fill="#111">si-SPI1+Erastin</text>
<text font-size="6.3" font-weight="bold" text-anchor="end" transform="translate(661.2 550.3) rotate(-45)" x="0" y="2.17" fill="#111">si-SPI1+Erastin+si-ACSL4</text>
<text font-size="6.9" font-weight="bold" text-anchor="middle" textLength="62" lengthAdjust="spacingAndGlyphs" transform="translate(540.47 501.45) rotate(-90)" x="0" y="0" fill="#111">Relative lipid ROS</text>
<text x="104.2" y="627.46" font-size="8.9" font-weight="bold" text-anchor="middle" fill="#111" textLength="22.51" lengthAdjust="spacingAndGlyphs">786-O</text>
<rect x="49.6" y="693.8" width="16" height="27.9" fill="#1f1ff5"/>
<line x1="57.6" y1="693.8" x2="57.6" y2="685.99" stroke="#a8a8a8" stroke-width="0.55"/>
<line x1="53.5" y1="685.99" x2="61.7" y2="685.99" stroke="#a8a8a8" stroke-width="0.55"/>
<circle cx="57.6" cy="704.96" r="0.85" fill="#111"/>
<circle cx="57.6" cy="696.59" r="0.85" fill="#111"/>
<circle cx="57.6" cy="687.66" r="0.85" fill="#111"/>
<rect x="73.2" y="677.06" width="16" height="44.64" fill="#fa1f16"/>
<line x1="81.2" y1="677.06" x2="81.2" y2="670.92" stroke="#a8a8a8" stroke-width="0.55"/>
<line x1="77.1" y1="670.92" x2="85.3" y2="670.92" stroke="#a8a8a8" stroke-width="0.55"/>
<circle cx="81.2" cy="684.04" r="0.85" fill="#111"/>
<circle cx="81.2" cy="679.85" r="0.85" fill="#111"/>
<circle cx="81.2" cy="673.71" r="0.85" fill="#111"/>
<circle cx="81.2" cy="670.09" r="0.85" fill="#111"/>
<rect x="96.8" y="674.27" width="16" height="47.43" fill="#45dc25"/>
<line x1="104.8" y1="674.27" x2="104.8" y2="669.81" stroke="#a8a8a8" stroke-width="0.55"/>
<line x1="100.7" y1="669.81" x2="108.9" y2="669.81" stroke="#a8a8a8" stroke-width="0.55"/>
<circle cx="104.8" cy="678.46" r="0.85" fill="#111"/>
<circle cx="104.8" cy="674.83" r="0.85" fill="#111"/>
<circle cx="104.8" cy="672.04" r="0.85" fill="#111"/>
<circle cx="104.8" cy="670.09" r="0.85" fill="#111"/>
<rect x="120.9" y="655.86" width="16" height="65.84" fill="#c837f5"/>
<line x1="128.9" y1="655.86" x2="128.9" y2="648.6" stroke="#a8a8a8" stroke-width="0.55"/>
<line x1="124.8" y1="648.6" x2="133" y2="648.6" stroke="#a8a8a8" stroke-width="0.55"/>
<circle cx="128.9" cy="663.11" r="0.85" fill="#111"/>
<circle cx="128.9" cy="657.53" r="0.85" fill="#111"/>
<circle cx="128.9" cy="653.35" r="0.85" fill="#111"/>
<circle cx="128.9" cy="650.56" r="0.85" fill="#111"/>
<rect x="144.4" y="672.88" width="16" height="48.83" fill="#f0862a"/>
<line x1="152.4" y1="672.88" x2="152.4" y2="669.25" stroke="#a8a8a8" stroke-width="0.55"/>
<line x1="148.3" y1="669.25" x2="156.5" y2="669.25" stroke="#a8a8a8" stroke-width="0.55"/>
<circle cx="152.4" cy="678.46" r="0.85" fill="#111"/>
<circle cx="152.4" cy="671.48" r="0.85" fill="#111"/>
<circle cx="152.4" cy="670.92" r="0.85" fill="#111"/>
<line x1="42.5" y1="637.6" x2="42.5" y2="722.15" stroke="#262626" stroke-width="0.9"/>
<line x1="39.9" y1="721.7" x2="42.5" y2="721.7" stroke="#262626" stroke-width="0.9"/>
<text x="39.3" y="723.9" font-size="6.4" font-weight="bold" text-anchor="end" fill="#111">0</text>
<line x1="39.9" y1="693.8" x2="42.5" y2="693.8" stroke="#262626" stroke-width="0.9"/>
<text x="39.3" y="696" font-size="6.4" font-weight="bold" text-anchor="end" fill="#111">1</text>
<line x1="39.9" y1="665.9" x2="42.5" y2="665.9" stroke="#262626" stroke-width="0.9"/>
<text x="39.3" y="668.1" font-size="6.4" font-weight="bold" text-anchor="end" fill="#111">2</text>
<line x1="39.9" y1="638" x2="42.5" y2="638" stroke="#262626" stroke-width="0.9"/>
<text x="39.3" y="640.2" font-size="6.4" font-weight="bold" text-anchor="end" fill="#111">3</text>
<line x1="42.5" y1="721.7" x2="163.8" y2="721.7" stroke="#262626" stroke-width="0.9"/>
<line x1="57.6" y1="721.7" x2="57.6" y2="723.9" stroke="#262626" stroke-width="0.9"/>
<line x1="81.2" y1="721.7" x2="81.2" y2="723.9" stroke="#262626" stroke-width="0.9"/>
<line x1="104.8" y1="721.7" x2="104.8" y2="723.9" stroke="#262626" stroke-width="0.9"/>
<line x1="128.9" y1="721.7" x2="128.9" y2="723.9" stroke="#262626" stroke-width="0.9"/>
<line x1="152.4" y1="721.7" x2="152.4" y2="723.9" stroke="#262626" stroke-width="0.9"/>
<path d="M57.6 648 V644.2 H127.9 V648" stroke="#3a3a3a" fill="none" stroke-width="0.75"/>
<text x="92.75" y="644.4" font-size="4.4" font-weight="bold" text-anchor="middle" fill="#333">***</text>
<path d="M130.7 648 V644.2 H152.4 V648" stroke="#3a3a3a" fill="none" stroke-width="0.75"/>
<text x="141.55" y="644.4" font-size="4.4" font-weight="bold" text-anchor="middle" fill="#333">**</text>
<path d="M57.6 663.9 V660.1 H104.8 V663.9" stroke="#3a3a3a" fill="none" stroke-width="0.75"/>
<text x="81.2" y="660.3" font-size="4.4" font-weight="bold" text-anchor="middle" fill="#333">**</text>
<path d="M57.6 669.1 V665.3 H81.2 V669.1" stroke="#3a3a3a" fill="none" stroke-width="0.75"/>
<text x="69.4" y="665.5" font-size="4.4" font-weight="bold" text-anchor="middle" fill="#333">*</text>
<text font-size="6.3" font-weight="bold" text-anchor="end" transform="translate(57.9 728.7) rotate(-45)" x="0" y="2.17" fill="#111">DMSO</text>
<text font-size="6.3" font-weight="bold" text-anchor="end" transform="translate(81.5 728.7) rotate(-45)" x="0" y="2.17" fill="#111">Erastin</text>
<text font-size="6.3" font-weight="bold" text-anchor="end" transform="translate(105.1 728.7) rotate(-45)" x="0" y="2.17" fill="#111">shCtrl+Erastin</text>
<text font-size="6.3" font-weight="bold" text-anchor="end" transform="translate(129.2 728.7) rotate(-45)" x="0" y="2.17" fill="#111">shSPI1+Erastin</text>
<text font-size="6.3" font-weight="bold" text-anchor="end" transform="translate(152.7 728.7) rotate(-45)" x="0" y="2.17" fill="#111">shSPI1+Erastin+si-ACSL4</text>
<text font-size="6.85" font-weight="bold" text-anchor="middle" textLength="63" lengthAdjust="spacingAndGlyphs" transform="translate(31.66 679.85) rotate(-90)" x="0" y="0" fill="#111">Relative MDA Level</text>
<text x="274.8" y="627.76" font-size="8.9" font-weight="bold" text-anchor="middle" fill="#111" textLength="23.4" lengthAdjust="spacingAndGlyphs">ACHN</text>
<rect x="219.9" y="700.4" width="15.8" height="22" fill="#1f1ff5"/>
<line x1="227.8" y1="700.4" x2="227.8" y2="695.58" stroke="#a8a8a8" stroke-width="0.55"/>
<line x1="223.7" y1="695.58" x2="231.9" y2="695.58" stroke="#a8a8a8" stroke-width="0.55"/>
<circle cx="227.8" cy="705.64" r="0.85" fill="#111"/>
<circle cx="227.8" cy="701.45" r="0.85" fill="#111"/>
<circle cx="227.8" cy="696.21" r="0.85" fill="#111"/>
<rect x="243.3" y="687.83" width="15.8" height="34.57" fill="#fa1f16"/>
<line x1="251.2" y1="687.83" x2="251.2" y2="685.74" stroke="#a8a8a8" stroke-width="0.55"/>
<line x1="247.1" y1="685.74" x2="255.3" y2="685.74" stroke="#a8a8a8" stroke-width="0.55"/>
<circle cx="251.2" cy="690.98" r="0.85" fill="#111"/>
<circle cx="251.2" cy="687.83" r="0.85" fill="#111"/>
<circle cx="251.2" cy="686.37" r="0.85" fill="#111"/>
<rect x="266.4" y="685.53" width="15.8" height="36.87" fill="#45dc25"/>
<line x1="274.3" y1="685.53" x2="274.3" y2="683.01" stroke="#a8a8a8" stroke-width="0.55"/>
<line x1="270.2" y1="683.01" x2="278.4" y2="683.01" stroke="#a8a8a8" stroke-width="0.55"/>
<circle cx="274.3" cy="687.2" r="0.85" fill="#111"/>
<circle cx="274.3" cy="685.74" r="0.85" fill="#111"/>
<circle cx="274.3" cy="684.27" r="0.85" fill="#111"/>
<rect x="290" y="654.52" width="15.8" height="67.88" fill="#c837f5"/>
<line x1="297.9" y1="654.52" x2="297.9" y2="651.17" stroke="#a8a8a8" stroke-width="0.55"/>
<line x1="293.8" y1="651.17" x2="302" y2="651.17" stroke="#a8a8a8" stroke-width="0.55"/>
<circle cx="297.9" cy="658.5" r="0.85" fill="#111"/>
<circle cx="297.9" cy="655.36" r="0.85" fill="#111"/>
<circle cx="297.9" cy="653.26" r="0.85" fill="#111"/>
<rect x="313.7" y="679.24" width="15.8" height="43.16" fill="#f0862a"/>
<line x1="321.6" y1="679.24" x2="321.6" y2="675.26" stroke="#a8a8a8" stroke-width="0.55"/>
<line x1="317.5" y1="675.26" x2="325.7" y2="675.26" stroke="#a8a8a8" stroke-width="0.55"/>
<circle cx="321.6" cy="683.64" r="0.85" fill="#111"/>
<circle cx="321.6" cy="680.5" r="0.85" fill="#111"/>
<circle cx="321.6" cy="676.31" r="0.85" fill="#111"/>
<line x1="212" y1="638.2" x2="212" y2="722.85" stroke="#262626" stroke-width="0.9"/>
<line x1="209.4" y1="722.4" x2="212" y2="722.4" stroke="#262626" stroke-width="0.9"/>
<text x="208.8" y="724.6" font-size="6.4" font-weight="bold" text-anchor="end" fill="#111">0</text>
<line x1="209.4" y1="701.45" x2="212" y2="701.45" stroke="#262626" stroke-width="0.9"/>
<text x="208.8" y="703.65" font-size="6.4" font-weight="bold" text-anchor="end" fill="#111">1</text>
<line x1="209.4" y1="680.5" x2="212" y2="680.5" stroke="#262626" stroke-width="0.9"/>
<text x="208.8" y="682.7" font-size="6.4" font-weight="bold" text-anchor="end" fill="#111">2</text>
<line x1="209.4" y1="659.55" x2="212" y2="659.55" stroke="#262626" stroke-width="0.9"/>
<text x="208.8" y="661.75" font-size="6.4" font-weight="bold" text-anchor="end" fill="#111">3</text>
<line x1="209.4" y1="638.6" x2="212" y2="638.6" stroke="#262626" stroke-width="0.9"/>
<text x="208.8" y="640.8" font-size="6.4" font-weight="bold" text-anchor="end" fill="#111">4</text>
<line x1="212" y1="722.4" x2="337.4" y2="722.4" stroke="#262626" stroke-width="0.9"/>
<line x1="227.8" y1="722.4" x2="227.8" y2="724.6" stroke="#262626" stroke-width="0.9"/>
<line x1="251.2" y1="722.4" x2="251.2" y2="724.6" stroke="#262626" stroke-width="0.9"/>
<line x1="274.3" y1="722.4" x2="274.3" y2="724.6" stroke="#262626" stroke-width="0.9"/>
<line x1="297.9" y1="722.4" x2="297.9" y2="724.6" stroke="#262626" stroke-width="0.9"/>
<line x1="321.6" y1="722.4" x2="321.6" y2="724.6" stroke="#262626" stroke-width="0.9"/>
<path d="M227.8 649 V645.2 H296.9 V649" stroke="#3a3a3a" fill="none" stroke-width="0.75"/>
<text x="262.35" y="645.4" font-size="4.4" font-weight="bold" text-anchor="middle" fill="#333">****</text>
<path d="M299.7 649 V645.2 H321.6 V649" stroke="#3a3a3a" fill="none" stroke-width="0.75"/>
<text x="310.65" y="645.4" font-size="4.4" font-weight="bold" text-anchor="middle" fill="#333">****</text>
<path d="M227.8 678.4 V674.6 H274.3 V678.4" stroke="#3a3a3a" fill="none" stroke-width="0.75"/>
<text x="251.05" y="674.8" font-size="4.4" font-weight="bold" text-anchor="middle" fill="#333">***</text>
<path d="M227.8 684.5 V680.7 H251.2 V684.5" stroke="#3a3a3a" fill="none" stroke-width="0.75"/>
<text x="239.5" y="680.9" font-size="4.4" font-weight="bold" text-anchor="middle" fill="#333">**</text>
<text font-size="6.3" font-weight="bold" text-anchor="end" transform="translate(228.1 729.4) rotate(-45)" x="0" y="2.17" fill="#111">DMSO</text>
<text font-size="6.3" font-weight="bold" text-anchor="end" transform="translate(251.5 729.4) rotate(-45)" x="0" y="2.17" fill="#111">Erastin</text>
<text font-size="6.3" font-weight="bold" text-anchor="end" transform="translate(274.6 729.4) rotate(-45)" x="0" y="2.17" fill="#111">shCtrl+Erastin</text>
<text font-size="6.3" font-weight="bold" text-anchor="end" transform="translate(298.2 729.4) rotate(-45)" x="0" y="2.17" fill="#111">shSPI1+Erastin</text>
<text font-size="6.3" font-weight="bold" text-anchor="end" transform="translate(321.9 729.4) rotate(-45)" x="0" y="2.17" fill="#111">shSPI1+Erastin+si-ACSL4</text>
<text font-size="6.85" font-weight="bold" text-anchor="middle" textLength="63" lengthAdjust="spacingAndGlyphs" transform="translate(200.46 680.5) rotate(-90)" x="0" y="0" fill="#111">Relative MDA Level</text>
<text x="444.9" y="627.26" font-size="8.9" font-weight="bold" text-anchor="middle" fill="#111" textLength="22.51" lengthAdjust="spacingAndGlyphs">786-O</text>
<rect x="389.4" y="701.4" width="15.8" height="21.1" fill="#1f1ff5"/>
<line x1="397.3" y1="701.4" x2="397.3" y2="696.76" stroke="#a8a8a8" stroke-width="0.55"/>
<line x1="393.2" y1="696.76" x2="401.4" y2="696.76" stroke="#a8a8a8" stroke-width="0.55"/>
<circle cx="397.3" cy="704.57" r="0.85" fill="#111"/>
<circle cx="397.3" cy="701.4" r="0.85" fill="#111"/>
<circle cx="397.3" cy="699.29" r="0.85" fill="#111"/>
<circle cx="397.3" cy="696.12" r="0.85" fill="#111"/>
<rect x="412.9" y="689.79" width="15.8" height="32.71" fill="#fa1f16"/>
<line x1="420.8" y1="689.79" x2="420.8" y2="681.99" stroke="#a8a8a8" stroke-width="0.55"/>
<line x1="416.7" y1="681.99" x2="424.9" y2="681.99" stroke="#a8a8a8" stroke-width="0.55"/>
<circle cx="420.8" cy="697.18" r="0.85" fill="#111"/>
<circle cx="420.8" cy="695.07" r="0.85" fill="#111"/>
<circle cx="420.8" cy="689.79" r="0.85" fill="#111"/>
<circle cx="420.8" cy="678.19" r="0.85" fill="#111"/>
<rect x="436.4" y="689.37" width="15.8" height="33.13" fill="#45dc25"/>
<line x1="444.3" y1="689.37" x2="444.3" y2="683.47" stroke="#a8a8a8" stroke-width="0.55"/>
<line x1="440.2" y1="683.47" x2="448.4" y2="683.47" stroke="#a8a8a8" stroke-width="0.55"/>
<circle cx="444.3" cy="698.24" r="0.85" fill="#111"/>
<circle cx="444.3" cy="688.74" r="0.85" fill="#111"/>
<circle cx="444.3" cy="685.58" r="0.85" fill="#111"/>
<rect x="460.2" y="671.44" width="15.8" height="51.06" fill="#c837f5"/>
<line x1="468.1" y1="671.44" x2="468.1" y2="663" stroke="#a8a8a8" stroke-width="0.55"/>
<line x1="464" y1="663" x2="472.2" y2="663" stroke="#a8a8a8" stroke-width="0.55"/>
<circle cx="468.1" cy="679.25" r="0.85" fill="#111"/>
<circle cx="468.1" cy="676.08" r="0.85" fill="#111"/>
<circle cx="468.1" cy="669.75" r="0.85" fill="#111"/>
<circle cx="468.1" cy="665.53" r="0.85" fill="#111"/>
<rect x="483.7" y="683.25" width="15.8" height="39.25" fill="#f0862a"/>
<line x1="491.6" y1="683.25" x2="491.6" y2="677.77" stroke="#a8a8a8" stroke-width="0.55"/>
<line x1="487.5" y1="677.77" x2="495.7" y2="677.77" stroke="#a8a8a8" stroke-width="0.55"/>
<circle cx="491.6" cy="688.74" r="0.85" fill="#111"/>
<circle cx="491.6" cy="684.52" r="0.85" fill="#111"/>
<circle cx="491.6" cy="676.08" r="0.85" fill="#111"/>
<line x1="381.4" y1="637.7" x2="381.4" y2="722.95" stroke="#262626" stroke-width="0.9"/>
<line x1="378.8" y1="722.5" x2="381.4" y2="722.5" stroke="#262626" stroke-width="0.9"/>
<text x="378.2" y="724.7" font-size="6.4" font-weight="bold" text-anchor="end" fill="#111">0</text>
<line x1="378.8" y1="701.4" x2="381.4" y2="701.4" stroke="#262626" stroke-width="0.9"/>
<text x="378.2" y="703.6" font-size="6.4" font-weight="bold" text-anchor="end" fill="#111">1</text>
<line x1="378.8" y1="680.3" x2="381.4" y2="680.3" stroke="#262626" stroke-width="0.9"/>
<text x="378.2" y="682.5" font-size="6.4" font-weight="bold" text-anchor="end" fill="#111">2</text>
<line x1="378.8" y1="659.2" x2="381.4" y2="659.2" stroke="#262626" stroke-width="0.9"/>
<text x="378.2" y="661.4" font-size="6.4" font-weight="bold" text-anchor="end" fill="#111">3</text>
<line x1="378.8" y1="638.1" x2="381.4" y2="638.1" stroke="#262626" stroke-width="0.9"/>
<text x="378.2" y="640.3" font-size="6.4" font-weight="bold" text-anchor="end" fill="#111">4</text>
<line x1="381.4" y1="722.5" x2="503.6" y2="722.5" stroke="#262626" stroke-width="0.9"/>
<line x1="397.3" y1="722.5" x2="397.3" y2="724.7" stroke="#262626" stroke-width="0.9"/>
<line x1="420.8" y1="722.5" x2="420.8" y2="724.7" stroke="#262626" stroke-width="0.9"/>
<line x1="444.3" y1="722.5" x2="444.3" y2="724.7" stroke="#262626" stroke-width="0.9"/>
<line x1="468.1" y1="722.5" x2="468.1" y2="724.7" stroke="#262626" stroke-width="0.9"/>
<line x1="491.6" y1="722.5" x2="491.6" y2="724.7" stroke="#262626" stroke-width="0.9"/>
<path d="M397.3 661.2 V657.4 H467.1 V661.2" stroke="#3a3a3a" fill="none" stroke-width="0.75"/>
<text x="432.2" y="657.6" font-size="4.4" font-weight="bold" text-anchor="middle" fill="#333">***</text>
<path d="M469.9 661.2 V657.4 H491.6 V661.2" stroke="#3a3a3a" fill="none" stroke-width="0.75"/>
<text x="480.75" y="657.6" font-size="4.4" font-weight="bold" text-anchor="middle" fill="#333">*</text>
<path d="M397.3 675.7 V671.9 H444.3 V675.7" stroke="#3a3a3a" fill="none" stroke-width="0.75"/>
<text x="420.8" y="672.1" font-size="4.4" font-weight="bold" text-anchor="middle" fill="#333">**</text>
<path d="M397.3 680.8 V677 H420.8 V680.8" stroke="#3a3a3a" fill="none" stroke-width="0.75"/>
<text x="409.05" y="677.2" font-size="4.4" font-weight="bold" text-anchor="middle" fill="#333">*</text>
<text font-size="6.3" font-weight="bold" text-anchor="end" transform="translate(397.6 729.5) rotate(-45)" x="0" y="2.17" fill="#111">DMSO</text>
<text font-size="6.3" font-weight="bold" text-anchor="end" transform="translate(421.1 729.5) rotate(-45)" x="0" y="2.17" fill="#111">Erastin</text>
<text font-size="6.3" font-weight="bold" text-anchor="end" transform="translate(444.6 729.5) rotate(-45)" x="0" y="2.17" fill="#111">shCtrl+Erastin</text>
<text font-size="6.3" font-weight="bold" text-anchor="end" transform="translate(468.4 729.5) rotate(-45)" x="0" y="2.17" fill="#111">shSPI1+Erastin</text>
<text font-size="6.3" font-weight="bold" text-anchor="end" transform="translate(491.9 729.5) rotate(-45)" x="0" y="2.17" fill="#111">shSPI1+Erastin+si-ACSL4</text>
<text font-size="6.9" font-weight="bold" text-anchor="middle" transform="translate(369.77 680.3) rotate(-90)" x="0" y="0" fill="#111">Relative Fe<tspan font-size="4.49" dy="-2.9">2+</tspan><tspan dy="2.9"> Level</tspan></text>
<text x="618" y="627.26" font-size="8.9" font-weight="bold" text-anchor="middle" fill="#111" textLength="23.4" lengthAdjust="spacingAndGlyphs">ACHN</text>
<rect x="562.8" y="701" width="15.8" height="20.9" fill="#1f1ff5"/>
<line x1="570.7" y1="701" x2="570.7" y2="697.24" stroke="#a8a8a8" stroke-width="0.55"/>
<line x1="566.6" y1="697.24" x2="574.8" y2="697.24" stroke="#a8a8a8" stroke-width="0.55"/>
<circle cx="570.7" cy="705.6" r="0.85" fill="#111"/>
<circle cx="570.7" cy="701" r="0.85" fill="#111"/>
<circle cx="570.7" cy="698.49" r="0.85" fill="#111"/>
<rect x="586.4" y="688.04" width="15.8" height="33.86" fill="#fa1f16"/>
<line x1="594.3" y1="688.04" x2="594.3" y2="680.1" stroke="#a8a8a8" stroke-width="0.55"/>
<line x1="590.2" y1="680.1" x2="598.4" y2="680.1" stroke="#a8a8a8" stroke-width="0.55"/>
<circle cx="594.3" cy="694.73" r="0.85" fill="#111"/>
<circle cx="594.3" cy="688.46" r="0.85" fill="#111"/>
<circle cx="594.3" cy="676.97" r="0.85" fill="#111"/>
<rect x="610.1" y="688.46" width="15.8" height="33.44" fill="#45dc25"/>
<line x1="618" y1="688.46" x2="618" y2="682.19" stroke="#a8a8a8" stroke-width="0.55"/>
<line x1="613.9" y1="682.19" x2="622.1" y2="682.19" stroke="#a8a8a8" stroke-width="0.55"/>
<circle cx="618" cy="694.73" r="0.85" fill="#111"/>
<circle cx="618" cy="688.46" r="0.85" fill="#111"/>
<circle cx="618" cy="681.14" r="0.85" fill="#111"/>
<rect x="633.7" y="666.51" width="15.8" height="55.38" fill="#c837f5"/>
<line x1="641.6" y1="666.51" x2="641.6" y2="658.15" stroke="#a8a8a8" stroke-width="0.55"/>
<line x1="637.5" y1="658.15" x2="645.7" y2="658.15" stroke="#a8a8a8" stroke-width="0.55"/>
<circle cx="641.6" cy="678.01" r="0.85" fill="#111"/>
<circle cx="641.6" cy="665.47" r="0.85" fill="#111"/>
<circle cx="641.6" cy="659.2" r="0.85" fill="#111"/>
<rect x="656.9" y="684.28" width="15.8" height="37.62" fill="#f0862a"/>
<line x1="664.8" y1="684.28" x2="664.8" y2="672.78" stroke="#a8a8a8" stroke-width="0.55"/>
<line x1="660.7" y1="672.78" x2="668.9" y2="672.78" stroke="#a8a8a8" stroke-width="0.55"/>
<circle cx="664.8" cy="698.91" r="0.85" fill="#111"/>
<circle cx="664.8" cy="686.37" r="0.85" fill="#111"/>
<circle cx="664.8" cy="672.78" r="0.85" fill="#111"/>
<line x1="555.3" y1="637.9" x2="555.3" y2="722.35" stroke="#262626" stroke-width="0.9"/>
<line x1="552.7" y1="721.9" x2="555.3" y2="721.9" stroke="#262626" stroke-width="0.9"/>
<text x="552.1" y="724.1" font-size="6.4" font-weight="bold" text-anchor="end" fill="#111">0</text>
<line x1="552.7" y1="701" x2="555.3" y2="701" stroke="#262626" stroke-width="0.9"/>
<text x="552.1" y="703.2" font-size="6.4" font-weight="bold" text-anchor="end" fill="#111">1</text>
<line x1="552.7" y1="680.1" x2="555.3" y2="680.1" stroke="#262626" stroke-width="0.9"/>
<text x="552.1" y="682.3" font-size="6.4" font-weight="bold" text-anchor="end" fill="#111">2</text>
<line x1="552.7" y1="659.2" x2="555.3" y2="659.2" stroke="#262626" stroke-width="0.9"/>
<text x="552.1" y="661.4" font-size="6.4" font-weight="bold" text-anchor="end" fill="#111">3</text>
<line x1="552.7" y1="638.3" x2="555.3" y2="638.3" stroke="#262626" stroke-width="0.9"/>
<text x="552.1" y="640.5" font-size="6.4" font-weight="bold" text-anchor="end" fill="#111">4</text>
<line x1="555.3" y1="721.9" x2="680.5" y2="721.9" stroke="#262626" stroke-width="0.9"/>
<line x1="570.7" y1="721.9" x2="570.7" y2="724.1" stroke="#262626" stroke-width="0.9"/>
<line x1="594.3" y1="721.9" x2="594.3" y2="724.1" stroke="#262626" stroke-width="0.9"/>
<line x1="618" y1="721.9" x2="618" y2="724.1" stroke="#262626" stroke-width="0.9"/>
<line x1="641.6" y1="721.9" x2="641.6" y2="724.1" stroke="#262626" stroke-width="0.9"/>
<line x1="664.8" y1="721.9" x2="664.8" y2="724.1" stroke="#262626" stroke-width="0.9"/>
<path d="M570.7 656.9 V653.1 H640.6 V656.9" stroke="#3a3a3a" fill="none" stroke-width="0.75"/>
<text x="605.65" y="653.3" font-size="4.4" font-weight="bold" text-anchor="middle" fill="#333">***</text>
<path d="M643.4 656.9 V653.1 H664.8 V656.9" stroke="#3a3a3a" fill="none" stroke-width="0.75"/>
<text x="654.1" y="653.3" font-size="4.4" font-weight="bold" text-anchor="middle" fill="#333">*</text>
<path d="M570.7 671.1 V667.3 H618 V671.1" stroke="#3a3a3a" fill="none" stroke-width="0.75"/>
<text x="594.35" y="667.5" font-size="4.4" font-weight="bold" text-anchor="middle" fill="#333">*</text>
<path d="M570.7 676.3 V672.5 H594.3 V676.3" stroke="#3a3a3a" fill="none" stroke-width="0.75"/>
<text x="582.5" y="672.7" font-size="4.4" font-weight="bold" text-anchor="middle" fill="#333">*</text>
<text font-size="6.3" font-weight="bold" text-anchor="end" transform="translate(571 728.9) rotate(-45)" x="0" y="2.17" fill="#111">DMSO</text>
<text font-size="6.3" font-weight="bold" text-anchor="end" transform="translate(594.6 728.9) rotate(-45)" x="0" y="2.17" fill="#111">Erastin</text>
<text font-size="6.3" font-weight="bold" text-anchor="end" transform="translate(618.3 728.9) rotate(-45)" x="0" y="2.17" fill="#111">shCtrl+Erastin</text>
<text font-size="6.3" font-weight="bold" text-anchor="end" transform="translate(641.9 728.9) rotate(-45)" x="0" y="2.17" fill="#111">shSPI1+Erastin</text>
<text font-size="6.3" font-weight="bold" text-anchor="end" transform="translate(665.1 728.9) rotate(-45)" x="0" y="2.17" fill="#111">shSPI1+Erastin+si-ACSL4</text>
<text font-size="6.9" font-weight="bold" text-anchor="middle" transform="translate(544.17 680.1) rotate(-90)" x="0" y="0" fill="#111">Relative Fe<tspan font-size="4.49" dy="-2.9">2+</tspan><tspan dy="2.9"> Level</tspan></text>
<text font-size="25.29" stroke="#000" stroke-width="0.55" stroke-linejoin="round" transform="translate(1.91 623.37) scale(0.72 1)" x="0" y="0">J</text>
<text font-size="25.51" stroke="#000" stroke-width="0.55" stroke-linejoin="round" transform="translate(343.53 623.73) scale(0.81 1)" x="0" y="0">K</text>
</svg></body></html>
